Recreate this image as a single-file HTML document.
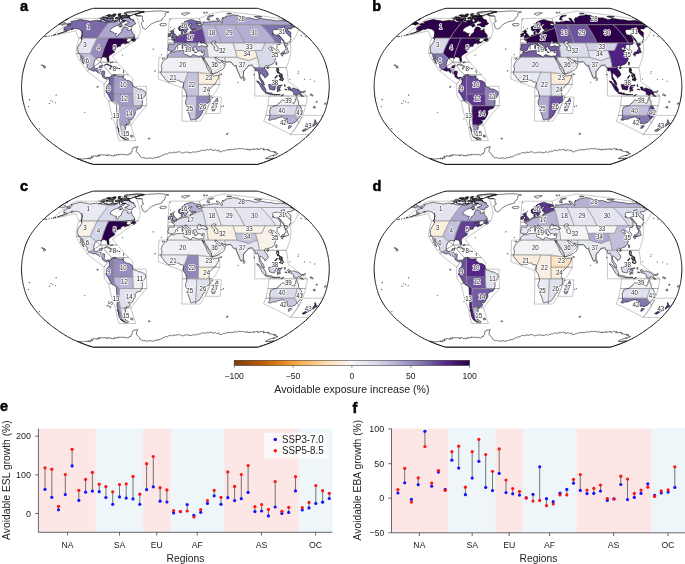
<!DOCTYPE html><html><head><meta charset="utf-8"><style>html,body{margin:0;padding:0;background:#fff;width:685px;height:564px;overflow:hidden;position:relative}
svg{position:absolute;left:0;top:0;font-family:"Liberation Sans",sans-serif;will-change:transform}
.lab text{font-size:6.6px;fill:#2a2a2a;stroke:#fff;stroke-width:1.6px;paint-order:stroke;stroke-linejoin:round;text-anchor:middle}
.pl{font-size:14.5px;font-weight:bold;fill:#000;stroke:#000;stroke-width:0.5px}
.tk{font-size:8.6px;fill:#222}
.al{font-size:10.3px;fill:#222}
.cbl{font-size:10.6px;fill:#222}
.yt{font-size:9.5px;fill:#222}
.xt{font-size:8.7px;fill:#222}
.lg{font-size:10.4px;fill:#222}
</style></head><body><svg width="685" height="564" viewBox="0 0 685 564"><defs><path id="L" d="M39.4,128.7L39.7,129.0L39.6,129.1L39.2,129.1L39.0,128.8L39.0,128.6ZM85.0,112.4L85.1,112.6L84.9,112.8L84.6,112.8L84.6,112.5L84.7,112.4ZM28.9,106.4L29.0,106.8L28.8,106.9L28.4,106.9L28.4,106.6L28.5,106.4ZM49.5,103.2L49.7,103.5L49.5,103.7L49.1,103.6L49.0,103.3L49.2,103.1ZM55.7,102.6L55.8,102.9L55.7,103.0L55.3,103.0L55.3,102.7L55.4,102.6ZM53.0,101.7L53.1,101.9L52.9,102.0L52.6,102.0L52.6,101.8L52.7,101.6ZM51.1,100.7L51.2,100.9L51.1,101.1L50.8,101.0L50.7,100.8L50.9,100.7ZM30.0,99.8L29.7,100.0L29.2,100.0L29.2,99.6L29.4,99.4L29.8,99.4ZM56.5,95.1L56.3,95.3L55.8,95.3L55.8,95.0L56.0,94.8L56.4,94.8ZM98.1,86.4L98.3,87.0L97.7,87.4L96.9,87.3L97.0,86.7L97.4,86.3ZM82.9,19.9L83.3,20.0L83.7,20.1L84.1,20.2L84.5,20.3L85.0,20.3L85.5,20.3L86.0,20.4L86.5,20.4L87.0,20.4L87.5,20.6L87.9,20.7L88.4,20.8L88.8,21.0L89.3,21.1L89.8,21.2L90.2,21.3L91.1,21.1L92.0,20.9L92.6,20.9L93.3,20.8L94.0,20.7L94.8,20.6L95.5,20.5L96.4,20.3L97.2,20.1L97.5,20.4L97.8,20.6L98.1,20.9L98.8,20.9L99.5,20.8L100.2,20.7L100.9,20.7L101.3,20.9L101.7,21.0L102.2,21.2L102.6,21.4L103.0,21.6L103.4,21.8L103.9,22.0L104.5,22.0L105.1,22.1L105.7,22.1L106.2,22.1L107.0,22.0L107.8,21.9L108.5,21.7L109.0,21.9L109.5,22.0L110.0,22.1L110.6,22.2L111.2,22.3L111.8,22.3L112.4,22.3L113.0,22.3L113.6,22.3L114.5,22.0L115.4,21.7L115.6,21.6L115.0,21.7L114.4,21.7L114.1,21.4L113.7,21.2L114.4,20.9L115.1,20.6L115.7,20.6L116.3,20.7L116.2,21.2L117.3,20.5L118.2,19.7L119.0,19.0L119.3,19.4L119.6,19.7L119.5,20.5L119.5,21.3L119.9,21.6L120.3,21.9L120.7,22.1L121.8,21.5L122.9,20.9L123.5,20.9L124.1,20.9L124.8,20.8L124.5,21.5L124.2,22.1L123.4,22.5L122.6,22.8L121.9,23.1L121.2,23.3L120.6,23.5L119.9,23.6L119.1,24.4L118.3,25.1L117.4,25.4L116.6,25.7L115.7,25.9L114.8,26.4L114.0,26.8L113.1,27.3L112.0,28.1L110.9,29.0L110.6,29.5L110.4,30.1L110.3,30.8L110.3,31.5L110.9,31.6L111.6,31.6L112.2,31.7L112.7,32.1L113.2,32.4L113.7,32.8L114.3,33.1L114.8,33.3L115.4,33.4L116.1,33.4L116.7,33.4L116.4,34.1L116.1,34.7L115.8,35.4L116.0,35.8L116.2,36.3L116.6,36.5L117.0,36.7L118.0,35.8L118.4,34.9L118.8,34.0L119.8,33.4L120.8,32.8L121.3,32.0L121.8,31.2L121.7,30.7L121.5,30.1L122.1,29.3L122.7,28.6L123.0,27.8L123.3,27.0L124.0,27.0L124.7,27.0L125.3,27.0L125.9,27.1L126.5,27.3L127.0,27.6L127.5,28.0L127.8,28.3L128.2,28.6L127.8,29.3L127.4,30.1L128.0,30.3L128.6,30.5L129.2,30.3L129.8,30.1L130.7,29.4L131.5,28.7L131.5,29.5L131.4,30.3L131.8,30.8L132.1,31.2L132.1,31.9L132.2,32.6L132.8,33.0L133.3,33.3L133.7,33.9L134.2,34.4L134.4,35.1L134.6,35.8L134.6,36.5L134.1,36.7L133.5,36.8L132.7,37.2L131.8,37.6L130.9,38.0L130.2,37.9L129.5,37.9L128.8,37.9L128.1,37.9L127.4,38.0L126.8,38.0L126.1,38.0L125.2,38.5L124.3,38.9L123.2,39.7L122.2,40.5L121.6,41.1L122.6,40.5L123.5,40.0L124.5,39.5L125.3,39.2L126.1,39.0L126.7,39.1L127.3,39.2L126.9,39.8L126.5,40.5L126.6,41.1L126.7,41.6L127.3,41.8L127.9,42.0L128.5,42.2L129.1,42.0L129.7,41.8L129.7,41.1L129.8,42.0L129.3,42.3L128.7,42.7L128.0,42.9L127.3,43.1L126.6,43.2L125.7,43.8L124.8,44.3L124.5,43.5L125.3,43.1L126.1,42.6L125.5,42.6L124.9,42.6L124.0,43.1L123.3,43.3L122.7,43.5L122.0,43.8L121.4,44.1L120.5,45.1L120.4,45.9L120.8,45.9L120.7,46.1L120.1,46.2L119.5,46.3L118.9,46.4L118.2,46.5L117.3,47.1L117.0,47.8L116.0,48.7L115.7,49.3L115.1,50.1L114.7,50.5L114.3,51.0L114.5,51.6L114.6,52.2L113.7,52.8L113.1,53.1L112.4,53.4L111.9,53.8L111.3,54.2L110.6,54.7L109.8,55.1L109.1,55.9L108.8,56.6L108.6,57.3L108.8,58.0L108.9,58.8L109.0,59.6L109.1,60.4L108.9,61.0L108.8,61.7L108.1,62.1L107.6,61.3L107.3,60.5L107.1,59.7L107.1,59.0L106.9,58.3L106.7,57.6L106.2,57.3L105.7,57.5L105.2,57.6L104.9,57.3L104.5,56.9L103.9,56.9L103.3,56.9L102.7,57.0L102.2,57.0L101.7,58.0L102.0,58.3L101.4,58.2L100.9,58.2L100.4,57.9L99.8,57.7L99.1,57.7L98.3,57.6L97.4,58.0L96.6,58.5L95.8,59.1L94.9,59.9L94.7,60.7L94.5,61.4L94.2,62.2L94.0,63.1L93.8,64.0L93.6,64.9L93.7,65.4L93.8,66.0L94.1,66.7L94.3,67.4L94.6,68.2L95.2,68.4L95.7,68.7L96.3,68.6L96.9,68.5L97.5,68.3L98.0,68.3L98.5,68.2L99.1,67.5L99.3,66.8L99.6,66.0L100.4,65.8L101.3,65.5L101.9,65.5L102.5,65.5L102.3,66.2L102.0,66.8L101.8,67.6L101.5,68.3L101.2,68.9L100.9,69.4L100.7,70.1L100.4,70.9L101.0,71.1L101.8,71.0L102.7,71.0L103.3,71.0L104.0,71.1L104.4,71.4L104.9,71.8L104.7,72.6L104.6,73.3L104.5,74.0L104.4,74.7L104.1,75.7L104.8,76.7L105.4,77.2L106.0,77.7L106.6,77.5L107.3,77.3L107.9,77.3L108.6,77.3L109.0,77.6L109.5,78.0L110.0,78.0L110.5,77.6L111.0,77.2L111.2,76.2L111.8,75.7L112.5,75.4L113.1,75.2L113.8,74.9L114.3,74.6L114.9,74.3L114.7,75.0L114.5,75.7L115.1,75.4L115.7,75.1L116.6,75.2L117.3,76.2L118.1,76.1L118.8,76.1L119.5,76.1L120.1,76.2L120.7,76.2L121.5,76.1L122.2,76.0L122.8,76.5L122.8,76.5L122.9,76.1L123.2,75.8L123.7,75.8L123.8,76.3L123.4,76.6L122.8,76.5L123.2,77.3L123.6,78.1L124.3,78.6L125.1,79.0L125.9,79.8L126.8,80.5L127.6,80.6L128.5,80.6L128.9,80.7L129.4,80.8L130.2,81.3L131.0,81.8L131.7,82.3L132.0,83.0L132.3,83.7L132.7,84.4L132.7,85.3L132.7,86.2L133.5,86.6L134.4,87.1L135.2,87.4L136.1,87.6L136.9,87.8L137.8,88.8L138.7,88.9L139.5,89.1L140.4,89.1L141.2,89.2L142.1,89.7L142.9,90.2L143.8,90.7L144.7,91.2L145.4,91.7L145.5,92.6L145.7,93.6L145.6,94.3L145.4,95.1L144.9,95.8L144.4,96.5L143.9,97.3L143.5,98.0L143.1,98.7L142.7,99.3L142.3,99.9L142.4,100.9L142.4,101.8L142.5,102.8L142.3,103.6L142.2,104.5L142.0,105.3L141.7,106.0L141.4,106.7L141.1,107.4L140.7,108.0L140.3,108.5L139.6,108.6L138.9,108.8L138.3,108.9L137.4,109.2L136.6,109.6L135.9,110.5L135.1,111.3L135.2,112.2L135.3,113.1L135.3,113.9L134.8,114.7L134.4,115.4L134.1,116.1L133.7,116.8L133.2,117.6L132.8,118.3L132.1,119.3L131.6,119.7L131.1,120.1L130.5,120.1L129.8,120.0L128.9,119.5L128.3,119.8L128.8,120.4L129.4,121.0L130.0,121.7L129.8,122.5L129.6,123.3L129.0,123.5L128.4,123.8L127.9,124.0L127.3,124.0L126.7,124.0L126.0,124.0L126.4,124.8L126.7,125.5L126.0,125.6L125.4,125.7L124.8,125.8L124.7,126.4L124.6,127.0L125.4,127.3L126.1,127.6L125.4,127.9L125.4,128.9L125.4,129.8L124.9,130.2L124.4,130.5L124.0,130.8L124.8,131.6L125.7,132.5L125.3,133.3L124.9,134.1L124.8,135.0L124.8,136.0L125.5,136.7L125.2,136.8L124.8,137.0L125.5,137.2L126.3,137.6L127.1,138.0L127.9,138.5L128.7,138.9L128.2,139.5L127.7,140.0L127.0,139.8L126.3,139.6L125.6,139.5L124.7,139.1L123.8,138.7L122.9,138.2L122.0,137.7L121.1,137.2L120.5,136.3L119.9,135.4L119.4,134.6L119.0,133.6L118.5,132.7L118.7,132.1L118.9,131.4L118.7,130.7L118.5,130.7L118.4,130.2L118.6,129.9L118.5,129.4L118.4,128.9L118.2,128.2L117.6,128.2L117.4,127.5L117.7,127.0L117.9,127.1L117.7,126.4L117.5,125.7L117.3,125.0L117.2,124.2L117.1,123.4L116.9,122.6L117.0,121.7L117.1,120.7L117.1,119.9L117.2,119.1L117.2,118.3L117.1,117.3L116.9,116.4L116.7,115.4L116.8,114.4L116.9,113.5L116.9,112.5L116.8,111.6L116.7,110.8L116.7,109.9L116.6,109.1L116.5,108.2L116.5,107.3L116.5,106.4L116.4,105.5L116.3,104.9L116.2,104.3L115.7,103.8L115.1,103.3L114.3,102.8L113.5,102.3L112.7,101.8L112.0,101.4L111.3,100.5L110.7,99.7L110.3,98.8L109.8,98.0L109.4,97.2L109.0,96.4L108.6,95.5L108.0,94.6L107.5,93.6L106.8,92.9L106.1,92.2L106.0,91.3L106.0,90.5L106.8,89.5L106.5,89.0L106.3,88.5L106.4,87.7L106.6,86.8L106.8,86.1L107.0,85.4L107.5,85.1L108.0,84.9L108.6,83.9L109.2,83.0L109.3,82.5L109.4,81.5L109.4,80.5L109.2,80.0L109.0,79.4L108.8,78.8L108.6,78.3L108.1,78.0L107.7,77.6L106.9,78.4L106.8,79.3L106.2,79.0L105.6,78.7L105.1,78.4L104.6,78.3L104.1,78.1L103.3,77.5L102.5,76.9L102.4,75.9L102.1,75.2L101.7,74.5L101.1,73.7L100.4,73.5L99.8,73.3L99.1,73.1L98.5,73.0L97.9,72.8L97.2,72.2L96.5,71.5L95.8,70.8L95.1,70.9L94.5,71.0L93.8,71.2L93.0,70.9L92.2,70.6L91.5,70.3L90.9,70.0L90.2,69.7L89.5,69.3L88.9,69.0L88.2,68.6L87.5,67.8L86.8,67.0L87.0,66.3L87.2,65.5L87.0,64.9L86.8,64.3L86.3,63.6L85.8,62.8L85.3,62.2L84.7,61.6L84.7,61.0L84.7,60.4L84.2,59.9L83.8,59.3L83.4,58.9L83.0,58.4L82.9,57.5L82.9,56.5L82.3,56.1L81.7,55.6L81.6,56.4L81.5,57.2L81.9,57.7L82.2,58.3L82.4,59.0L82.6,59.7L82.9,60.6L83.2,61.4L83.4,62.2L83.5,62.9L84.1,63.9L83.4,63.6L82.8,63.0L82.2,62.3L82.2,61.7L82.2,61.0L81.6,60.4L81.0,59.7L80.3,59.4L81.1,58.5L80.7,57.7L80.3,56.8L80.3,56.2L80.3,55.6L80.1,54.9L79.8,54.3L79.6,53.6L79.2,53.3L78.9,53.1L78.4,53.0L78.0,53.0L78.1,52.0L77.9,51.5L77.8,50.9L77.8,50.4L77.8,49.9L77.6,49.4L77.7,48.8L77.7,48.1L77.6,47.3L78.0,46.6L78.5,45.9L78.8,45.0L79.4,44.2L80.1,43.3L80.6,42.5L81.1,41.7L81.3,41.0L81.6,40.3L81.9,39.6L81.6,39.2L81.4,38.6L81.1,38.0L81.0,37.4L82.0,36.6L81.8,35.8L81.9,35.0L82.1,34.2L82.2,33.6L82.3,33.1L82.1,32.6L82.0,32.1L81.9,31.5L81.9,30.8L81.2,30.7L80.6,30.6L80.3,30.2L80.1,29.8L79.8,29.4L79.3,29.2L78.8,29.0L78.2,29.0L77.7,29.0L77.2,28.9L76.8,28.7L76.5,28.5L76.1,28.3L75.3,28.4L74.5,28.6L73.0,29.3L72.4,29.4L71.7,29.6L71.0,29.7L71.9,29.0L72.7,28.3L71.4,28.9L70.0,29.5L69.0,30.2L67.9,30.8L66.8,31.2L65.6,31.7L64.4,32.1L63.2,32.6L62.4,32.8L61.7,32.9L60.9,33.1L59.9,33.4L58.8,33.7L58.0,33.9L57.2,34.1L58.0,33.8L58.8,33.6L59.6,33.3L60.5,33.0L61.5,32.7L62.4,32.3L63.4,31.9L64.5,31.4L65.6,30.8L66.8,30.3L66.4,30.2L66.0,30.1L65.3,30.1L64.7,30.2L64.1,30.2L63.5,30.3L64.1,29.7L64.7,29.1L64.3,28.9L64.0,28.7L63.6,28.6L64.2,27.7L65.4,26.8L66.5,26.2L67.4,26.0L68.3,25.7L69.2,25.5L70.1,25.3L70.7,24.8L70.1,24.9L69.6,25.0L69.0,25.1L68.4,25.1L67.9,25.1L67.3,25.1L67.5,24.5L67.2,24.3L66.9,24.2L67.6,24.0L68.3,23.8L69.1,23.6L69.7,23.5L70.3,23.4L70.9,23.3L71.6,23.2L72.3,23.1L72.1,22.7L71.9,22.4L71.6,22.2L71.2,22.1L70.9,21.9L71.8,21.7L72.8,21.4L73.7,21.2L74.7,20.9L75.8,20.6L76.8,20.3L77.6,20.1L78.3,19.9L79.1,19.8L79.8,19.6L80.6,19.5L81.0,19.5L81.5,19.6L82.0,19.7L82.4,19.8ZM45.5,66.7L45.6,67.6L44.7,68.1L44.2,68.1L43.7,68.0L43.9,67.2L44.6,66.6L45.1,66.7ZM44.5,65.9L44.5,66.3L44.1,66.6L43.5,66.6L43.6,66.1L44.0,65.8ZM43.4,65.3L43.5,65.6L43.1,65.9L42.6,65.8L42.7,65.4L43.0,65.2ZM42.3,64.8L42.3,65.2L41.9,65.4L41.4,65.3L41.6,65.0L41.9,64.7ZM45.5,36.2L45.3,36.5L44.8,36.7L44.5,36.7L44.9,36.4L45.2,36.2ZM46.8,36.6L46.2,36.8L45.8,36.7L46.3,36.4L46.7,36.1L47.1,36.2ZM49.3,36.2L48.9,36.4L48.6,36.3L48.9,36.0L49.3,35.8L49.5,35.9ZM52.3,35.3L52.1,35.6L51.6,35.8L51.3,35.8L51.7,35.5L52.0,35.3ZM54.5,34.6L54.2,35.0L53.7,35.2L53.3,35.2L53.8,34.8L54.2,34.6ZM55.9,34.3L55.6,34.7L55.1,34.9L54.7,34.9L55.1,34.5L55.6,34.3ZM119.8,24.2L120.6,24.0L121.4,23.8L121.7,24.3L122.0,24.8L122.3,25.3L122.7,25.7L121.9,25.9L121.1,26.1L120.4,26.3L119.6,26.6L119.2,26.3L118.8,26.0L118.5,25.8L119.1,25.0ZM63.3,21.5L63.6,21.7L63.9,21.9L64.2,22.1L64.5,22.3L64.8,22.5L65.2,22.7L65.5,22.9L65.8,23.2L66.0,23.5L66.3,23.7L65.4,24.0L64.6,24.2L63.6,24.7L62.7,25.2L62.3,25.1L61.9,24.9L61.5,24.8L61.1,24.6L60.8,24.4L60.4,24.2L59.5,24.4L58.6,24.6L59.7,23.8L60.9,23.0L62.1,22.2ZM109.7,21.5L109.1,21.4L108.6,21.4L108.1,21.3L107.6,21.3L107.1,21.2L106.5,21.1L106.0,21.1L105.6,20.9L105.2,20.7L104.7,20.5L104.4,20.4L104.0,20.2L103.6,20.1L103.6,19.7L103.6,19.3L104.5,18.7L103.8,18.9L103.1,19.1L102.4,19.3L101.9,19.2L101.4,19.2L100.9,19.1L100.4,19.0L101.0,18.2L102.0,17.7L103.0,17.1L103.5,17.1L103.9,17.1L104.4,17.1L104.9,17.1L105.4,17.1L105.9,17.1L106.3,17.3L106.7,17.4L107.1,17.6L107.5,17.7L106.8,18.0L106.1,18.3L106.8,18.2L107.5,18.0L108.2,17.9L108.7,18.0L109.1,18.1L109.6,18.3L110.0,18.4L110.9,18.2L111.7,18.0L112.5,17.7L112.8,17.9L113.2,18.0L113.6,18.1L113.1,18.6L112.6,19.1L112.9,19.4L113.1,19.8L113.4,20.1L113.0,20.9L112.3,21.0L111.7,21.1L111.0,21.3L110.3,21.4ZM67.2,19.7L66.0,20.1L65.7,20.1L65.4,20.0L66.5,19.4L67.6,19.0L68.1,19.1ZM117.9,18.5L117.3,18.7L116.6,18.8L116.0,19.0L115.6,18.8L115.2,18.5L114.9,18.3L115.7,17.9L116.6,17.5L117.1,17.5L117.6,17.5L118.1,17.5L118.6,17.5L118.3,18.0ZM121.7,18.3L120.9,18.5L120.1,18.7L119.3,18.9L119.1,18.5L118.9,18.1L120.2,17.4L120.7,17.4L121.2,17.4L121.6,17.5L122.1,17.5ZM121.6,16.8L121.1,16.8L120.5,16.8L120.0,16.8L120.6,16.2L121.5,15.8L122.5,15.5L123.1,15.5L123.6,15.5L124.1,15.4L124.7,15.4L125.2,15.4L126.1,14.9L127.1,14.4L126.8,14.2L126.6,14.1L126.2,14.2L125.8,14.1L125.3,14.0L124.8,14.0L124.7,13.7L124.5,13.3L124.4,13.0L125.2,12.6L125.9,12.3L126.5,12.2L127.1,12.2L127.6,12.2L128.2,12.1L128.3,12.2L128.9,12.1L129.5,12.0L130.0,11.9L130.6,11.9L131.2,11.8L131.8,11.7L132.4,11.7L133.0,11.6L133.5,11.6L134.1,11.5L134.7,11.5L135.2,11.4L135.8,11.4L136.4,11.3L136.9,11.3L137.5,11.2L138.0,11.2L138.5,11.3L138.9,11.3L139.4,11.3L139.9,11.3L140.4,11.4L140.9,11.4L141.3,11.4L141.8,11.4L142.3,11.5L142.8,11.5L143.2,11.6L143.6,11.7L144.1,11.8L143.4,11.9L142.8,12.0L142.2,12.2L141.5,12.3L140.9,12.4L140.2,12.6L139.6,12.7L138.8,12.9L138.1,13.2L137.3,13.4L136.5,13.7L135.8,13.9L135.1,14.1L134.3,14.3L133.5,14.5L132.7,14.8L131.9,15.1L131.3,15.7L130.8,15.7L130.3,15.7L129.7,15.7L129.2,15.7L128.7,15.6L128.2,15.6L127.7,15.6L127.2,15.6L126.6,15.6L127.1,15.7L127.5,15.7L128.0,15.8L128.4,15.9L128.9,15.9L129.3,16.0L129.2,16.5L129.0,17.0L128.4,17.0L127.9,17.0L127.3,17.0L126.7,17.0L126.2,16.9L125.6,16.9L125.0,16.9L124.4,16.9L123.9,16.9L123.3,16.9L122.7,16.9L122.4,16.8L122.1,16.7L121.7,16.6ZM110.5,15.5L110.7,15.5L111.3,15.4L111.9,15.4L112.5,15.4L113.1,15.4L113.7,15.3L114.3,15.3L114.9,15.3L115.1,15.6L115.3,15.8L115.1,16.2L114.4,16.4L113.7,16.6L113.1,16.8L112.5,16.8L112.0,16.8L111.4,16.8L110.9,16.8L110.3,16.8L109.8,16.8L109.2,16.8L108.9,16.6L108.6,16.4L108.3,16.2L109.0,16.0L109.8,15.8L109.3,15.8L108.8,15.8L108.3,15.9L107.8,15.9L107.5,15.8L107.1,15.7L106.8,15.6L106.5,15.5L107.2,15.3L108.0,15.1L108.8,14.9L109.5,14.8L110.0,14.8L110.4,14.9L110.9,15.0ZM117.9,16.1L118.4,15.7L118.8,15.3L119.4,15.3L120.0,15.3L120.5,15.3L120.2,15.7L120.0,16.2L119.5,16.2L118.9,16.1L118.4,16.1ZM114.3,14.1L114.7,14.1L115.2,14.1L115.7,14.2L116.1,14.2L115.7,14.6L115.3,15.0L114.9,14.9L114.4,14.9L114.0,14.8L113.5,14.8L113.1,14.7L112.7,14.7L113.5,14.4ZM119.8,13.7L120.2,13.7L120.5,13.8L120.9,13.8L120.5,14.3L120.1,14.7L119.7,14.6L119.3,14.5L118.9,14.5L118.5,14.4L118.1,14.3L118.9,14.0ZM149.6,138.0L150.0,138.7L149.5,139.2L149.0,139.1L148.6,139.1L148.5,138.4L148.8,137.9ZM132.3,135.2L132.7,135.8L133.1,136.4L132.7,136.8L132.4,137.2L131.7,137.1L130.9,137.0L130.8,136.4L130.6,135.8L131.1,135.1L131.7,135.2ZM111.6,118.9L111.5,119.1L111.2,119.0L111.1,118.8L111.2,118.7L111.5,118.7ZM123.9,72.6L124.0,72.9L123.7,73.0L123.4,73.0L123.5,72.7L123.6,72.6ZM123.7,71.3L123.8,71.5L123.6,71.6L123.3,71.6L123.3,71.4L123.5,71.2ZM155.4,70.6L155.5,71.0L155.2,71.2L154.7,71.2L154.7,70.8L155.0,70.5ZM123.6,70.5L123.7,70.7L123.5,70.9L123.2,70.8L123.2,70.6L123.4,70.5ZM111.1,68.7L110.9,69.0L110.2,68.9L109.5,68.8L109.5,68.6L110.3,68.7ZM120.2,68.5L120.0,68.9L119.4,68.9L118.8,68.9L118.8,68.4L119.5,68.5ZM116.6,67.2L117.2,67.8L117.8,68.3L117.1,68.5L116.4,68.7L115.8,69.0L115.1,69.3L114.3,68.7L113.5,68.7L112.7,68.7L112.7,68.5L113.5,67.8L114.3,67.1L115.0,67.1L115.8,67.2ZM109.7,65.4L109.0,65.3L108.3,65.3L107.6,65.2L106.9,64.8L106.3,64.4L105.7,64.8L105.1,65.3L104.3,65.2L105.2,64.6L106.1,64.1L106.9,64.0L107.8,63.9L108.4,64.3L109.1,64.7L109.7,65.1L110.3,65.4L110.9,65.8L111.4,65.9L112.0,66.0L112.6,66.4L113.1,66.8L112.5,66.9L112.0,67.1L111.4,67.1L110.7,67.2L110.1,67.2L110.5,66.3L110.1,65.9ZM111.2,62.3L111.3,62.7L110.9,63.0L110.4,62.9L110.5,62.5L110.8,62.3ZM112.5,61.9L112.6,62.2L112.2,62.5L111.7,62.4L111.8,62.1L112.1,61.8ZM162.9,58.7L163.0,59.1L162.7,59.3L162.2,59.2L162.2,58.9L162.5,58.6ZM164.3,58.2L164.4,58.6L164.1,58.7L163.7,58.7L163.7,58.4L163.9,58.2ZM122.8,54.9L122.9,55.1L122.6,55.3L122.3,55.3L122.4,55.0L122.6,54.9ZM161.8,54.5L161.8,54.8L161.6,54.9L161.3,54.9L161.4,54.6L161.5,54.5ZM153.4,48.9L153.5,49.2L153.2,49.4L152.8,49.3L152.9,49.0L153.1,48.8ZM131.7,39.1L132.5,38.4L133.3,37.7L133.9,37.2L134.6,36.7L134.4,37.4L134.2,38.2L134.8,38.6L135.5,38.9L135.6,39.6L135.7,40.4L135.2,41.3L134.6,41.3L134.0,41.2L133.3,41.2L132.7,41.0L132.0,40.8L131.3,40.6L130.7,40.4L131.2,39.7ZM170.2,33.1L170.6,33.2L171.1,33.3L171.5,33.9L171.1,34.3L170.8,35.1L170.9,35.6L171.0,36.1L170.7,36.2L170.1,36.4L169.5,36.6L168.9,36.7L168.4,36.7L167.9,36.4L168.5,35.8L168.3,35.0L168.2,34.2L168.8,34.2L169.3,34.2L169.3,33.5L169.8,33.3ZM172.0,33.7L171.5,33.5L171.1,33.2L171.3,32.7L171.5,32.1L171.1,31.2L171.5,30.8L171.9,30.3L172.5,30.3L173.1,30.3L173.6,30.7L174.0,31.2L173.6,31.9L173.3,32.6L174.0,32.8L174.5,33.7L174.9,34.1L175.3,34.4L175.6,35.0L176.1,35.4L176.6,35.7L176.5,36.4L176.4,37.0L175.8,37.2L175.3,37.3L174.7,37.5L174.0,37.6L173.4,37.7L172.8,37.9L172.3,37.9L171.7,38.0L171.2,38.0L171.7,37.5L172.3,37.0L172.8,36.8L172.2,36.7L171.6,36.6L172.3,36.1L172.2,35.6L172.1,35.1L172.7,35.0L173.2,35.0L172.9,34.2L173.1,33.6L172.5,33.7ZM170.8,31.0L170.9,31.3L170.6,31.6L170.1,31.5L170.2,31.2L170.4,30.9ZM173.5,29.7L173.5,30.0L173.4,30.1L173.1,30.1L173.1,29.8L173.3,29.7ZM170.9,27.3L170.7,27.4L170.5,27.4L170.5,27.2L170.7,27.1L170.9,27.1ZM119.6,27.1L120.3,26.5L120.9,26.6L121.5,26.7L120.8,26.8L120.2,27.0ZM159.8,24.7L159.9,24.2L160.6,23.9L161.3,23.5L162.0,23.5L162.6,23.6L163.2,23.6L163.9,23.6L164.5,23.6L165.2,23.5L165.8,23.5L166.2,24.0L166.6,24.5L166.1,24.9L165.6,25.3L165.0,25.5L164.4,25.6L163.8,25.8L163.2,26.0L162.5,25.9L161.9,25.9L161.2,25.8L160.6,25.7L161.0,25.1L160.4,24.9ZM126.1,20.8L125.5,20.7L124.9,20.7L124.3,20.6L123.8,20.6L123.2,20.5L122.7,20.3L122.3,20.1L121.8,19.9L121.4,19.7L121.8,19.1L122.2,18.4L122.9,18.2L123.6,18.0L124.3,17.7L125.1,17.5L125.6,17.5L126.2,17.5L126.8,17.6L127.3,17.6L127.9,17.6L128.0,17.6L128.3,17.5L128.8,17.6L129.4,17.6L129.9,17.7L129.7,18.3L129.3,18.3L129.4,18.3L129.8,18.5L130.2,18.7L130.6,18.9L131.0,19.1L131.4,19.3L131.8,19.5L132.2,19.6L132.7,19.8L133.1,19.9L133.6,20.1L133.7,20.6L133.9,21.1L134.2,21.5L134.4,22.0L134.7,22.5L135.0,23.0L135.6,23.1L136.1,23.3L135.3,24.0L134.5,24.7L133.7,24.9L133.0,25.1L132.2,25.9L132.1,26.5L132.0,27.1L131.3,27.0L130.7,27.0L130.0,26.9L129.4,26.8L128.9,26.6L128.3,26.5L127.9,26.1L127.5,25.8L127.1,25.5L126.7,25.2L126.0,25.2L125.4,25.2L124.7,25.3L124.8,24.8L124.9,24.3L125.7,24.1L126.5,23.9L127.2,23.8L128.0,23.6L128.7,22.9L129.3,22.1L128.8,22.1L128.2,22.0L127.7,22.0L127.2,21.9L126.8,21.5L126.4,21.1ZM170.4,19.6L170.4,19.8L170.3,19.9L170.0,19.9L170.1,19.7L170.2,19.5ZM142.4,16.0L141.9,16.0L141.3,16.0L140.7,15.9L140.2,15.9L139.6,15.9L139.1,15.9L138.5,15.9L138.0,15.8L137.5,15.7L137.0,15.6L136.6,15.5L136.2,15.3L135.8,15.1L135.4,14.9L135.0,14.8L136.2,14.0L136.9,13.8L137.7,13.6L138.4,13.4L139.1,13.2L139.8,13.0L140.5,12.8L141.2,12.6L141.9,12.4L142.6,12.3L143.3,12.1L143.9,11.9L144.6,11.8L145.1,11.7L145.7,11.7L146.2,11.7L146.7,11.7L147.3,11.6L147.8,11.6L148.3,11.6L148.9,11.5L149.4,11.5L149.9,11.5L150.5,11.4L151.0,11.4L151.5,11.3L152.1,11.3L152.6,11.3L153.2,11.2L153.7,11.2L154.2,11.1L154.8,11.1L155.3,11.0L155.8,11.0L156.3,11.0L156.8,11.0L157.3,11.0L157.8,11.0L158.3,11.0L158.8,11.0L159.4,10.9L159.9,10.9L160.4,10.9L160.8,11.0L161.3,11.0L161.8,11.1L162.3,11.1L162.8,11.2L163.3,11.3L163.7,11.3L164.2,11.4L164.7,11.4L165.2,11.5L165.7,11.6L166.1,11.6L166.6,11.7L167.1,11.8L167.5,11.8L168.0,11.9L168.5,12.0L168.9,12.1L168.4,12.2L167.9,12.3L167.4,12.4L166.9,12.6L166.4,12.7L165.9,13.0L165.4,13.4L164.9,13.7L165.1,14.4L165.4,15.1L165.0,15.7L164.7,16.3L164.4,17.0L163.7,17.5L163.0,18.0L162.3,18.5L162.1,19.3L162.0,20.1L161.3,20.4L160.6,20.6L159.9,20.9L159.3,21.1L158.6,21.2L158.0,21.3L157.3,21.5L156.7,21.6L156.0,21.8L155.3,21.9L154.6,22.3L153.9,22.7L153.1,23.1L152.4,23.5L151.6,23.8L150.8,24.2L149.9,25.1L149.0,25.9L148.1,26.8L147.5,27.5L147.0,28.1L146.2,28.7L145.3,29.2L144.7,29.0L144.1,28.7L143.5,28.4L142.9,28.1L142.6,27.4L142.4,26.7L142.1,25.9L141.8,25.2L141.6,24.5L141.3,23.8L141.5,23.2L141.6,22.6L142.3,22.0L143.1,21.5L143.9,20.9L143.4,20.6L142.9,20.4L142.4,20.1L142.4,19.5L142.4,18.9L142.4,18.3L142.4,17.6L142.4,17.0L142.4,16.5ZM84.5,158.7L84.7,158.7L84.9,158.6L85.5,158.6L86.1,158.7L86.1,158.6L86.2,158.4L87.2,158.7L88.2,159.0L88.2,158.8L88.3,158.7L88.0,158.3L87.8,158.0L89.1,158.5L90.4,159.0L89.8,158.5L89.3,158.0L89.8,158.1L90.4,158.2L90.4,158.0L90.5,157.8L91.3,158.0L92.0,158.2L91.9,157.9L91.7,157.6L92.1,157.6L92.6,157.7L92.0,157.2L91.4,156.6L91.3,156.4L91.3,156.1L91.9,156.3L92.6,156.5L93.1,156.5L93.6,156.6L93.5,156.3L93.4,156.0L93.6,155.8L93.7,155.6L94.0,155.6L94.3,155.5L95.5,156.0L96.7,156.5L97.1,156.5L97.4,156.5L97.3,156.1L97.1,155.7L97.8,155.9L98.5,156.1L98.1,155.5L97.8,155.0L98.8,155.5L99.9,155.9L100.0,155.7L100.0,155.4L99.8,155.0L99.7,154.5L100.4,154.8L101.2,155.0L101.5,155.0L101.9,155.0L102.2,154.8L102.5,154.7L103.3,155.0L104.1,155.3L104.2,155.1L104.3,154.9L104.6,154.8L105.0,154.7L106.1,155.3L107.3,155.9L107.1,155.4L106.9,154.9L107.6,155.1L108.3,155.3L108.3,155.0L108.4,154.7L109.0,154.9L109.7,155.1L110.5,155.5L111.3,155.8L111.3,155.5L111.4,155.2L112.4,155.7L113.4,156.2L113.5,155.9L113.7,155.7L114.1,155.7L114.5,155.7L114.4,155.3L114.3,154.9L115.0,155.1L115.7,155.4L115.9,155.3L116.1,155.2L116.1,154.9L116.2,154.6L116.9,154.8L117.5,155.0L118.0,155.1L118.5,155.1L118.4,154.6L118.4,154.1L119.1,154.4L119.8,154.7L120.1,154.7L120.5,154.6L120.7,154.4L121.0,154.2L121.4,154.2L121.8,154.2L122.5,154.5L123.3,154.9L123.4,154.6L123.6,154.3L124.3,154.6L125.1,155.0L125.3,154.8L125.5,154.5L125.9,154.5L126.3,154.5L127.1,154.9L127.9,155.4L128.1,155.2L128.4,155.0L128.6,154.8L128.9,154.7L129.0,154.3L129.0,153.9L129.4,153.9L129.8,153.9L130.0,153.6L130.2,153.4L130.6,153.5L131.1,153.6L131.1,153.1L131.1,152.5L131.3,152.2L131.5,152.0L131.8,151.9L132.1,151.8L132.1,151.3L132.1,150.7L132.1,150.2L132.2,149.7L132.2,149.1L132.2,148.5L132.6,148.5L133.0,148.5L133.2,148.3L133.5,148.0L133.7,147.5L134.0,147.0L134.6,147.4L135.3,147.7L135.6,147.2L135.8,146.8L136.4,147.0L137.0,147.2L137.4,146.9L137.7,146.6L137.6,147.1L137.5,147.6L137.2,147.9L136.8,148.2L136.7,149.0L136.6,149.7L136.6,150.2L136.5,150.7L136.2,151.4L136.9,152.2L137.5,152.9L137.9,152.9L138.4,153.5L138.8,154.0L139.3,154.6L139.5,155.1L139.6,155.5L139.7,156.1L140.7,156.7L141.4,157.3L142.2,157.9L142.5,157.8L142.8,157.7L143.1,157.6L143.5,157.6L144.0,157.7L144.5,157.9L144.9,157.9L145.3,157.8L145.8,158.1L146.4,158.4L146.9,158.5L147.3,158.5L147.6,158.4L147.9,158.3L148.2,158.1L148.4,157.8L149.0,158.1L149.6,158.4L149.8,158.1L150.0,157.7L150.5,157.9L151.0,158.1L151.4,158.1L151.8,158.2L152.3,158.5L152.9,158.8L153.2,158.6L153.4,158.3L153.6,157.9L153.8,157.5L154.2,157.8L154.7,158.0L154.9,157.8L155.2,157.7L155.5,157.6L155.9,157.6L156.2,157.6L156.6,157.5L157.0,157.5L157.3,157.6L157.5,157.0L157.7,156.5L158.1,156.6L158.5,156.8L159.0,157.0L159.5,157.3L159.7,156.9L160.0,156.5L160.3,156.2L160.7,156.0L161.1,156.0L161.6,156.1L161.9,155.8L162.3,155.5L162.6,155.1L163.0,154.7L163.5,154.9L164.0,155.1L164.4,154.8L164.7,154.6L165.1,154.1L165.5,153.7L166.0,153.8L166.4,153.8L166.9,154.1L167.4,154.4L167.8,153.9L168.2,153.4L168.5,153.0L168.9,152.6L169.4,152.7L169.8,152.8L170.2,152.5L170.6,152.2L171.1,152.7L171.5,153.2L171.9,152.9L172.3,152.6L172.8,152.8L173.2,153.1L173.7,152.5L174.1,151.8L174.5,152.0L175.0,152.1L175.4,152.6L175.8,153.0L176.3,152.5L176.7,151.9L177.2,151.9L177.6,151.9L178.0,152.0L178.5,152.2L178.9,151.9L179.4,151.6L179.8,151.7L180.2,151.9L180.7,152.3L181.1,152.7L181.5,152.8L181.9,152.9L182.3,152.9L182.8,152.9L183.2,152.9L183.7,152.9L184.1,152.5L184.6,152.2L185.0,152.4L185.4,152.6L185.9,152.2L186.4,151.8L186.8,152.0L187.2,152.3L187.7,152.3L188.1,152.3L188.6,152.2L189.0,152.0L189.4,152.5L189.7,153.1L190.2,152.8L190.7,152.6L191.1,152.7L191.5,152.8L192.0,152.5L192.5,152.2L193.0,151.9L193.6,151.6L193.9,151.8L194.3,152.0L194.7,152.4L195.0,152.7L195.6,152.1L196.2,151.5L196.6,151.6L197.0,151.8L197.4,151.9L197.7,152.0L198.3,151.4L198.9,150.9L199.2,151.1L199.5,151.3L200.0,151.2L200.4,151.0L201.0,150.6L201.6,150.2L202.0,150.2L202.5,150.1L202.9,150.2L203.4,150.2L203.8,150.4L204.1,150.6L204.6,150.5L205.1,150.4L205.6,150.3L206.1,150.1L206.7,149.7L207.4,149.3L207.6,149.6L207.9,150.0L208.3,149.9L208.7,149.9L209.1,149.8L209.6,149.7L210.1,149.5L210.6,149.3L211.0,149.2L211.4,149.2L211.7,149.4L212.0,149.6L212.2,150.0L212.3,150.5L212.9,150.3L213.4,150.0L213.7,150.3L213.9,150.7L214.7,150.1L215.5,149.4L215.8,149.8L216.1,150.1L216.3,150.4L216.6,150.7L217.1,150.8L217.5,150.8L218.1,150.4L218.8,150.1L219.1,150.3L219.4,150.6L219.4,151.1L219.4,151.6L219.9,151.8L220.4,151.7L220.9,151.7L221.3,151.7L221.8,151.8L222.5,151.2L223.3,150.7L223.7,150.6L224.2,150.5L224.4,150.7L224.7,150.9L225.3,150.5L226.0,150.1L226.4,150.1L226.9,150.0L227.4,149.8L228.0,149.7L228.6,149.5L229.1,149.2L229.3,149.7L229.4,150.1L229.8,150.1L230.2,150.2L230.9,149.7L231.7,149.3L231.9,149.6L232.1,149.9L232.8,149.6L233.5,149.3L234.0,149.2L234.5,149.0L235.0,149.1L235.4,149.1L235.8,149.1L236.3,149.1L236.6,149.2L236.9,149.3L237.8,148.7L238.6,148.2L238.8,148.4L239.0,148.7L239.4,148.7L239.8,148.7L240.2,148.8L240.6,148.9L241.1,148.8L241.7,148.7L242.2,148.6L242.8,148.4L243.2,148.5L243.6,148.6L243.8,148.9L244.0,149.2L244.3,149.4L244.6,149.5L245.4,149.2L246.1,148.9L246.3,149.1L246.6,149.2L247.1,149.1L247.6,149.0L247.6,149.4L247.6,149.8L248.1,149.7L248.7,149.6L249.3,149.3L249.9,149.1L249.8,149.6L249.7,150.1L250.3,149.9L250.9,149.7L251.5,149.5L252.1,149.3L252.8,149.1L253.5,148.8L253.5,149.3L253.5,149.7L254.4,149.3L255.2,149.0L255.6,149.1L255.9,149.1L256.7,148.8L257.5,148.5L257.5,149.0L257.4,149.4L258.1,149.3L258.8,149.1L258.8,149.4L258.9,149.7L259.9,149.1L260.8,148.6L261.3,148.6L261.8,148.5L262.0,148.7L262.2,148.9L262.8,148.7L263.5,148.4L263.8,148.5L264.1,148.6L263.6,149.3L263.1,150.1L263.9,149.8L264.6,149.6L264.7,149.8L264.8,150.1L265.5,149.8L266.2,149.6L266.8,149.4L267.4,149.2L267.4,149.6L267.3,150.0L267.9,149.8L268.6,149.5L268.5,150.0L268.3,150.4L268.9,150.2L269.5,150.1L269.3,150.5L269.2,151.0L269.6,150.9L270.1,150.9L270.2,151.1L270.3,151.3L270.7,151.3L271.1,151.3L271.4,151.3L271.7,151.4L272.1,151.4L272.5,151.4L272.6,151.6L272.8,151.7L273.5,151.5L274.1,151.4L273.9,151.8L273.7,152.2L274.4,152.0L275.1,151.7L274.8,152.2L274.5,152.7L275.4,152.3L276.3,152.0L276.1,152.4L275.8,152.8L275.7,153.1L275.6,153.4L275.8,153.5L276.0,153.6L276.3,153.7L276.6,153.8L277.3,153.6L278.0,153.4L276.8,154.2L276.2,154.6L275.6,155.0L274.4,155.4L273.1,155.9L273.6,155.4L274.1,154.8L272.9,155.3L271.6,155.7L270.1,156.2L268.6,156.9L266.9,157.6L266.3,158.1L265.6,158.6L266.2,158.4L266.8,158.3L266.7,158.5L266.5,158.8L267.0,158.7L267.5,158.6L268.0,158.5L268.5,158.4L268.3,158.7L268.2,158.9L269.5,158.5L270.8,158.1L270.6,158.4L270.3,158.7L271.5,158.3L272.7,157.9L272.6,158.2L272.5,158.4L273.3,158.2L274.1,158.0L273.9,158.3L273.8,158.5L272.4,159.1L271.3,159.6L270.2,160.0L269.0,160.5L267.9,160.9L266.7,161.4L265.7,161.7L264.8,162.1L264.1,162.3L263.4,162.6L262.3,162.9L261.2,163.3L260.2,163.6L259.5,163.8L258.9,164.0L258.1,164.2L257.3,164.4L256.8,164.4L256.4,164.4L255.9,164.4L255.5,164.4L255.0,164.4L254.6,164.4L254.1,164.4L253.7,164.4L253.2,164.4L252.8,164.4L252.3,164.4L251.8,164.4L251.4,164.4L250.9,164.4L250.5,164.4L250.0,164.4L249.6,164.4L249.1,164.4L248.7,164.4L248.2,164.4L247.7,164.4L247.3,164.4L246.8,164.4L246.4,164.4L245.9,164.4L245.5,164.4L245.0,164.4L244.6,164.4L244.1,164.4L243.7,164.4L243.2,164.4L242.7,164.4L242.3,164.4L241.8,164.4L241.4,164.4L240.9,164.4L240.5,164.4L240.0,164.4L239.6,164.4L239.1,164.4L238.6,164.4L238.2,164.4L237.7,164.4L237.3,164.4L236.8,164.4L236.4,164.4L235.9,164.4L235.5,164.4L235.0,164.4L234.6,164.4L234.1,164.4L233.6,164.4L233.2,164.4L232.7,164.4L232.3,164.4L231.8,164.4L231.4,164.4L230.9,164.4L230.5,164.4L230.0,164.4L229.5,164.4L229.1,164.4L228.6,164.4L228.2,164.4L227.7,164.4L227.3,164.4L226.8,164.4L226.4,164.4L225.9,164.4L225.5,164.4L225.0,164.4L224.5,164.4L224.1,164.4L223.6,164.4L223.2,164.4L222.7,164.4L222.3,164.4L221.8,164.4L221.4,164.4L220.9,164.4L220.4,164.4L220.0,164.4L219.5,164.4L219.1,164.4L218.6,164.4L218.2,164.4L217.7,164.4L217.3,164.4L216.8,164.4L216.4,164.4L215.9,164.4L215.4,164.4L215.0,164.4L214.5,164.4L214.1,164.4L213.6,164.4L213.2,164.4L212.7,164.4L212.3,164.4L211.8,164.4L211.3,164.4L210.9,164.4L210.4,164.4L210.0,164.4L209.5,164.4L209.1,164.4L208.6,164.4L208.2,164.4L207.7,164.4L207.3,164.4L206.8,164.4L206.3,164.4L205.9,164.4L205.4,164.4L205.0,164.4L204.5,164.4L204.1,164.4L203.6,164.4L203.2,164.4L202.7,164.4L202.2,164.4L201.8,164.4L201.3,164.4L200.9,164.4L200.4,164.4L200.0,164.4L199.5,164.4L199.1,164.4L198.6,164.4L198.2,164.4L197.7,164.4L197.2,164.4L196.8,164.4L196.3,164.4L195.9,164.4L195.4,164.4L195.0,164.4L194.5,164.4L194.1,164.4L193.6,164.4L193.1,164.4L192.7,164.4L192.2,164.4L191.8,164.4L191.3,164.4L190.9,164.4L190.4,164.4L190.0,164.4L189.5,164.4L189.1,164.4L188.6,164.4L188.1,164.4L187.7,164.4L187.2,164.4L186.8,164.4L186.3,164.4L185.9,164.4L185.4,164.4L185.0,164.4L184.5,164.4L184.0,164.4L183.6,164.4L183.1,164.4L182.7,164.4L182.2,164.4L181.8,164.4L181.3,164.4L180.9,164.4L180.4,164.4L180.0,164.4L179.5,164.4L179.0,164.4L178.6,164.4L178.1,164.4L177.7,164.4L177.2,164.4L176.8,164.4L176.3,164.4L175.9,164.4L175.4,164.4L174.9,164.4L174.5,164.4L174.0,164.4L173.6,164.4L173.1,164.4L172.7,164.4L172.2,164.4L171.8,164.4L171.3,164.4L170.8,164.4L170.4,164.4L169.9,164.4L169.5,164.4L169.0,164.4L168.6,164.4L168.1,164.4L167.7,164.4L167.2,164.4L166.8,164.4L166.3,164.4L165.8,164.4L165.4,164.4L164.9,164.4L164.5,164.4L164.0,164.4L163.6,164.4L163.1,164.4L162.7,164.4L162.2,164.4L161.7,164.4L161.3,164.4L160.8,164.4L160.4,164.4L159.9,164.4L159.5,164.4L159.0,164.4L158.6,164.4L158.1,164.4L157.7,164.4L157.2,164.4L156.7,164.4L156.3,164.4L155.8,164.4L155.4,164.4L154.9,164.4L154.5,164.4L154.0,164.4L153.6,164.4L153.1,164.4L152.6,164.4L152.2,164.4L151.7,164.4L151.3,164.4L150.8,164.4L150.4,164.4L149.9,164.4L149.5,164.4L149.0,164.4L148.6,164.4L148.1,164.4L147.6,164.4L147.2,164.4L146.7,164.4L146.3,164.4L145.8,164.4L145.4,164.4L144.9,164.4L144.5,164.4L144.0,164.4L143.5,164.4L143.1,164.4L142.6,164.4L142.2,164.4L141.7,164.4L141.3,164.4L140.8,164.4L140.4,164.4L139.9,164.4L139.5,164.4L139.0,164.4L138.5,164.4L138.1,164.4L137.6,164.4L137.2,164.4L136.7,164.4L136.3,164.4L135.8,164.4L135.4,164.4L134.9,164.4L134.4,164.4L134.0,164.4L133.5,164.4L133.1,164.4L132.6,164.4L132.2,164.4L131.7,164.4L131.3,164.4L130.8,164.4L130.4,164.4L129.9,164.4L129.4,164.4L129.0,164.4L128.5,164.4L128.1,164.4L127.6,164.4L127.2,164.4L126.7,164.4L126.3,164.4L125.8,164.4L125.3,164.4L124.9,164.4L124.4,164.4L124.0,164.4L123.5,164.4L123.1,164.4L122.6,164.4L122.2,164.4L121.7,164.4L121.3,164.4L120.8,164.4L120.3,164.4L119.9,164.4L119.4,164.4L119.0,164.4L118.5,164.4L118.1,164.4L117.6,164.4L117.2,164.4L116.7,164.4L116.2,164.4L115.8,164.4L115.3,164.4L114.9,164.4L114.4,164.4L114.0,164.4L113.5,164.4L113.1,164.4L112.6,164.4L112.2,164.4L111.7,164.4L111.2,164.4L110.8,164.4L110.3,164.4L109.9,164.4L109.4,164.4L109.0,164.4L108.5,164.4L108.1,164.4L107.6,164.4L107.1,164.4L106.7,164.4L106.2,164.4L105.8,164.4L105.3,164.4L104.9,164.4L104.4,164.4L104.0,164.4L103.5,164.4L103.1,164.4L102.6,164.4L102.1,164.4L101.7,164.4L101.2,164.4L100.8,164.4L100.3,164.4L99.9,164.4L99.4,164.4L99.0,164.4L98.5,164.4L98.0,164.4L97.6,164.4L97.1,164.4L96.7,164.4L96.2,164.4L95.8,164.4L95.3,164.4L94.9,164.4L94.4,164.4L94.0,164.4L93.5,164.4L92.6,164.2L91.7,163.9L91.2,163.8L90.2,163.5L89.1,163.1L88.0,162.7L87.1,162.5L86.3,162.2L85.3,161.8L84.2,161.4L83.1,161.0L82.2,160.7L80.9,160.1L79.6,159.6L78.3,159.0L77.0,158.5L77.6,158.6L78.1,158.6L78.0,158.4L78.0,158.3L79.4,158.7L80.9,159.2L80.8,159.0L80.8,158.8L81.4,158.9L82.0,159.0L82.5,159.0L83.0,159.1L83.3,159.0L83.5,159.0L83.7,158.9L83.9,158.8L84.2,158.8ZM228.0,133.3L227.9,134.1L227.1,134.6L226.7,134.5L226.3,134.5L226.6,133.7L227.2,133.2ZM222.2,106.5L222.2,106.8L222.0,107.0L221.6,107.0L221.6,106.7L221.8,106.5ZM223.9,105.8L224.0,106.1L223.7,106.3L223.3,106.2L223.4,105.9L223.6,105.7ZM212.0,106.7L212.4,105.9L212.7,105.2L212.7,104.5L212.6,103.8L212.5,103.1L212.8,102.6L213.0,102.0L213.7,101.8L214.5,101.6L215.0,101.1L215.6,100.6L215.9,100.0L216.1,99.4L216.7,98.7L217.3,98.0L217.5,98.8L217.7,99.6L217.9,100.4L218.0,101.3L217.7,102.0L217.4,102.8L217.1,103.6L216.8,104.4L216.5,105.2L216.1,106.2L215.8,107.2L215.4,108.1L215.2,108.9L214.9,109.7L214.6,110.5L213.8,110.8L213.0,111.1L212.5,110.8L212.0,110.5L211.9,109.7L211.8,108.9L211.7,108.1L211.9,107.4ZM212.5,97.5L212.6,97.7L212.4,97.9L212.1,97.8L212.1,97.6L212.3,97.5ZM274.7,94.3L275.4,94.4L276.1,94.4L276.8,94.5L277.7,94.5L278.5,94.5L279.4,94.4L280.2,94.3L280.2,94.7L279.3,94.7L278.5,94.8L277.6,94.8L276.8,94.9L275.9,94.9L275.1,94.9L274.2,95.0L273.4,94.7L273.4,94.3L274.0,94.3ZM265.1,92.9L265.7,92.5L266.3,92.2L267.0,92.3L267.8,92.4L268.4,92.6L269.0,92.8L269.6,93.0L270.2,93.0L270.8,93.0L271.4,93.0L272.2,93.5L272.9,93.9L272.9,94.8L272.1,94.6L271.4,94.5L270.7,94.4L270.0,94.3L269.2,94.2L268.3,94.0L267.5,93.9L266.8,93.7L266.1,93.5L265.6,93.2ZM209.1,94.6L209.5,95.5L209.9,96.5L209.8,97.3L209.8,98.1L209.8,98.9L209.9,99.7L210.0,100.4L209.4,101.4L208.8,102.3L208.0,102.7L207.3,103.2L206.6,103.6L205.9,104.4L205.2,105.2L204.6,105.5L204.7,106.2L204.8,106.9L204.9,107.6L205.0,108.6L205.0,109.6L204.3,110.1L203.5,110.5L202.8,111.0L202.5,111.5L202.6,112.5L202.0,113.4L201.5,114.3L200.9,115.2L200.4,115.9L199.9,116.6L199.0,117.4L198.2,118.1L197.5,118.5L196.8,118.9L196.1,119.3L195.5,119.3L194.9,119.3L194.2,119.3L193.6,119.3L192.9,119.5L192.2,119.8L191.5,120.0L190.9,119.8L190.4,119.5L190.3,118.9L190.3,118.3L190.1,117.6L189.9,116.8L189.6,115.9L189.3,115.0L189.0,114.0L188.5,113.1L188.0,112.1L187.9,111.2L187.8,110.3L187.6,109.4L187.5,108.5L187.2,107.6L186.8,106.6L186.5,105.7L186.1,104.7L185.7,103.8L185.4,102.8L185.5,101.8L185.6,100.9L186.0,99.9L186.4,98.9L186.9,98.0L186.8,97.0L186.7,96.0L186.6,95.1L186.6,94.9L186.4,94.0L186.1,93.1L185.8,92.2L185.6,91.2L185.2,90.6L184.8,90.0L184.2,89.2L183.5,88.3L183.4,87.3L183.4,86.3L183.4,85.4L183.5,84.4L183.6,83.5L183.8,82.7L183.5,82.5L182.7,82.0L182.0,82.0L181.4,82.1L180.5,82.2L180.1,81.6L179.7,80.9L178.8,80.2L178.3,80.2L177.6,80.3L176.9,80.4L176.3,80.5L175.4,81.0L174.5,81.5L173.7,81.7L172.8,81.5L172.0,81.3L171.2,81.5L170.5,81.7L169.7,81.9L169.0,82.1L168.1,81.6L167.3,81.0L166.4,80.3L165.6,79.7L164.9,78.9L164.2,78.1L164.0,77.5L163.9,77.0L163.3,76.4L162.6,75.9L161.9,75.1L161.2,74.3L161.1,73.6L161.0,72.8L160.6,72.1L161.0,71.5L161.5,70.9L161.7,70.1L161.9,69.4L161.8,68.5L161.7,67.7L161.4,66.8L161.1,66.0L161.5,65.1L161.8,64.2L162.1,63.3L162.5,62.6L162.9,61.9L163.4,61.2L164.0,60.4L164.7,59.5L165.5,59.2L166.3,59.0L166.8,58.4L167.3,57.8L167.4,57.2L167.5,56.5L167.7,55.7L167.8,54.9L168.6,54.3L169.3,53.7L170.2,53.0L170.4,52.3L170.7,51.7L171.1,51.6L171.8,51.8L172.4,52.0L173.0,52.2L173.8,52.0L174.6,51.8L175.4,51.4L176.2,51.0L177.0,50.9L177.8,50.7L178.5,50.7L179.1,50.7L179.8,50.7L180.5,50.7L181.1,50.7L181.8,50.6L182.5,50.4L183.2,50.3L183.7,50.4L184.1,50.5L183.6,51.0L184.1,51.8L184.3,52.5L183.6,53.2L184.1,53.7L184.5,54.2L185.2,54.4L186.0,54.5L186.6,54.7L187.2,54.9L187.8,55.1L188.1,55.9L188.9,56.1L189.7,56.3L190.3,56.7L191.0,57.0L191.4,56.7L191.8,56.3L191.7,55.4L192.3,54.9L192.9,54.5L193.5,54.7L194.1,54.8L195.0,55.2L195.8,55.7L196.6,55.8L197.5,56.0L198.3,56.2L199.1,56.4L199.8,56.2L200.3,56.0L200.7,55.8L201.3,55.9L201.8,56.1L202.6,56.1L203.4,56.1L203.6,55.3L203.9,54.6L204.0,54.0L204.1,53.4L204.2,52.7L204.3,52.0L204.2,51.4L204.2,50.8L203.6,50.8L203.0,50.7L202.2,51.1L201.5,51.4L200.7,51.2L199.8,51.0L199.2,50.9L198.6,50.8L198.0,50.7L197.2,50.1L196.7,49.1L196.4,48.5L196.3,48.6L196.0,48.6L196.0,48.4L196.1,48.2L196.2,48.2L196.2,48.1L196.1,47.6L196.0,47.1L195.4,47.0L194.8,46.9L194.2,46.9L193.5,47.4L193.2,47.2L193.2,48.1L193.4,48.7L193.7,49.3L194.5,49.6L194.2,50.3L193.8,51.0L193.3,50.9L192.8,50.7L192.4,49.9L192.1,49.0L191.4,48.1L190.6,47.2L190.6,46.5L190.6,45.9L189.8,45.3L189.1,44.9L188.4,44.6L187.8,44.3L187.1,43.5L186.5,42.7L185.8,42.2L185.3,42.3L184.8,42.5L184.9,43.3L185.4,43.8L185.9,44.3L186.3,45.0L186.7,45.6L187.3,46.0L187.9,46.3L188.4,46.5L188.9,46.8L189.4,47.2L190.0,47.6L189.4,47.4L188.9,47.3L188.4,48.0L188.9,48.7L188.5,49.1L188.1,49.6L187.8,49.3L187.8,48.5L187.8,47.7L187.3,47.4L186.8,47.1L186.1,46.5L185.6,46.2L185.0,45.9L184.5,45.6L184.0,45.3L183.5,44.6L182.9,43.7L182.4,43.6L181.9,43.5L181.2,44.0L180.7,44.3L180.2,44.7L179.7,44.5L179.1,44.4L178.5,44.5L177.9,44.6L177.8,45.4L177.9,45.8L177.4,46.2L177.0,46.5L176.5,46.6L176.1,46.7L175.8,47.3L175.4,47.8L175.2,48.3L175.6,48.9L175.2,49.4L174.8,50.0L174.3,50.4L173.7,50.8L173.1,50.8L172.5,50.8L171.9,50.8L171.4,51.2L170.9,51.5L170.4,51.0L169.9,50.7L169.5,50.3L168.9,50.4L168.3,50.5L168.1,49.7L167.9,48.9L168.1,48.0L168.4,47.2L168.5,46.4L168.5,45.7L168.2,44.8L168.7,44.4L169.2,44.1L169.8,44.1L170.4,44.2L170.9,44.2L171.7,44.3L172.5,44.4L173.2,44.4L174.0,44.4L174.2,43.9L174.4,43.3L174.4,42.6L174.5,41.9L174.1,41.3L173.7,40.8L173.2,40.6L172.6,40.3L172.0,40.1L171.8,39.6L172.5,39.5L173.2,39.3L173.7,39.4L174.2,39.5L174.1,38.9L174.0,38.4L174.5,38.7L175.0,38.7L175.5,38.6L176.1,38.3L176.6,38.0L176.6,37.3L177.2,37.1L177.7,36.9L178.2,36.7L178.7,36.0L178.9,35.4L179.6,35.0L180.0,35.0L180.5,35.0L181.0,34.9L181.5,34.8L181.5,34.2L181.5,33.6L181.2,33.1L181.2,32.5L181.2,31.9L181.7,31.6L182.2,31.3L182.7,31.1L182.8,31.6L182.8,32.1L182.5,32.9L182.6,33.8L183.3,34.4L183.8,34.2L184.4,34.1L184.9,34.3L185.5,34.5L186.2,34.3L186.9,34.2L187.5,34.0L188.1,33.9L188.6,33.8L188.8,34.1L189.5,34.0L189.9,33.7L190.4,33.3L190.4,32.9L190.2,32.1L190.4,31.2L190.8,31.2L191.3,31.4L191.9,31.7L192.5,31.4L192.3,30.5L191.6,30.1L191.6,29.6L191.9,29.5L192.3,29.5L192.9,29.5L193.5,29.5L194.0,29.5L194.6,29.5L195.1,29.3L195.6,29.2L196.0,29.1L195.6,29.0L195.2,28.8L194.5,28.8L193.8,28.8L193.1,28.8L192.4,28.8L191.9,28.9L191.3,29.0L190.8,29.0L190.3,28.6L189.8,28.2L189.8,27.5L189.7,26.8L189.7,26.4L190.1,25.9L190.5,25.5L191.1,25.1L191.6,24.7L191.9,24.7L191.7,24.0L191.3,24.0L191.0,24.0L190.5,24.0L190.1,24.1L189.6,24.2L189.5,24.6L189.4,25.1L188.8,25.5L188.3,25.9L187.9,26.4L187.6,26.8L187.4,27.5L187.1,28.1L187.6,28.6L188.0,29.0L188.3,29.2L187.8,29.6L187.4,29.9L187.0,30.3L187.0,30.8L186.9,31.2L186.7,32.1L186.2,32.4L185.7,32.6L185.2,32.9L184.6,33.1L184.2,32.4L184.0,31.7L183.7,31.1L183.4,30.5L183.1,29.9L182.6,29.5L182.6,29.9L182.0,30.0L181.5,30.3L181.0,30.7L180.5,30.7L180.0,30.7L179.3,30.2L179.0,29.6L178.8,29.0L178.8,28.2L178.8,27.4L178.9,26.9L179.5,26.7L180.0,26.5L180.5,26.2L181.0,25.9L181.5,25.6L181.9,25.3L182.4,25.0L182.9,24.7L183.4,23.8L183.7,23.2L183.9,22.6L184.5,22.1L185.1,21.7L185.5,21.4L185.9,21.2L186.5,20.9L187.1,20.7L187.7,20.5L188.3,20.3L188.8,20.2L189.2,20.0L189.7,19.9L190.1,19.8L190.6,19.7L191.0,19.6L191.5,19.7L191.9,19.7L192.4,19.7L193.0,19.9L193.5,20.2L194.1,20.4L194.7,20.6L195.2,20.8L195.8,21.0L196.4,21.1L197.0,21.2L197.5,21.2L198.1,21.3L198.8,21.6L199.5,21.8L200.2,22.1L200.9,22.3L201.7,23.1L201.4,23.4L201.2,23.6L200.6,23.7L200.1,23.7L199.5,23.7L199.0,23.6L198.4,23.6L197.8,23.6L197.3,23.4L196.8,23.3L196.1,23.0L196.7,23.4L197.3,23.8L197.6,24.5L197.9,25.1L198.5,25.2L199.1,25.4L199.7,25.5L200.3,25.3L200.9,25.2L201.5,25.0L202.0,24.7L202.4,24.4L202.9,24.0L203.3,23.7L203.3,23.1L203.2,22.6L202.9,21.7L203.6,21.9L204.3,22.1L204.8,22.2L205.4,22.3L205.9,22.4L206.4,22.3L206.9,22.1L207.5,22.0L208.0,21.9L208.5,21.7L209.2,21.8L209.9,21.9L210.4,21.8L211.0,21.6L211.5,21.5L212.0,21.2L212.5,20.9L213.1,21.0L213.8,21.0L214.4,21.0L215.0,21.1L215.6,21.1L216.1,21.1L216.6,21.2L217.3,21.7L217.8,21.6L218.3,21.4L217.9,20.8L217.4,20.3L217.0,19.7L216.6,18.9L216.2,18.1L216.7,18.2L217.3,18.2L217.8,18.2L218.6,19.0L219.4,19.7L219.9,20.4L220.3,21.1L220.7,21.7L221.4,22.4L222.1,23.0L222.2,22.4L222.3,21.7L222.1,20.9L221.8,20.1L221.6,19.3L221.8,19.0L222.0,18.7L222.4,18.6L222.9,18.6L223.4,18.5L222.4,17.7L223.0,17.7L223.5,17.7L224.0,17.6L224.5,17.5L224.9,17.4L225.4,17.4L225.8,17.3L225.5,16.6L225.9,16.4L226.3,16.3L226.7,16.1L227.2,16.0L227.6,15.8L228.1,15.8L228.7,15.8L229.2,15.8L229.7,15.8L230.2,15.7L230.7,15.6L231.2,15.6L231.7,15.5L231.9,15.3L232.2,15.1L232.5,15.0L232.7,14.8L233.0,14.6L233.7,14.8L234.4,14.9L235.1,15.1L235.8,15.2L236.4,15.3L237.1,15.3L237.8,15.4L238.5,15.6L239.3,15.7L240.0,15.9L240.1,16.3L240.2,16.6L239.9,16.9L239.6,17.1L239.3,17.4L239.9,17.4L240.5,17.5L241.1,17.6L241.7,17.6L242.3,17.6L242.9,17.6L243.5,17.6L244.1,17.7L244.7,17.7L245.3,17.7L246.0,17.8L246.6,17.8L247.3,17.9L247.9,17.9L248.4,17.9L248.8,17.8L249.3,17.8L249.8,17.7L250.6,18.0L251.4,18.3L252.2,18.5L253.2,18.8L254.2,19.2L255.2,19.5L255.8,19.4L256.4,19.4L256.9,19.4L257.5,19.3L258.1,19.3L258.3,19.0L258.6,18.8L258.8,18.5L259.4,18.5L260.0,18.5L260.6,18.5L261.2,18.5L262.0,18.7L262.7,18.8L263.5,18.9L264.3,19.0L265.1,19.2L265.9,19.3L266.7,19.5L267.6,19.6L268.4,19.8L269.0,19.8L269.5,19.7L270.1,19.7L270.7,19.7L271.6,19.9L272.5,20.1L273.5,20.3L274.4,20.6L275.4,20.8L276.0,20.8L276.6,20.8L277.3,20.8L277.9,20.8L278.5,20.8L278.9,20.7L279.3,20.6L279.7,20.4L280.4,20.5L281.1,20.5L281.7,20.5L282.4,20.6L283.0,20.6L283.9,20.8L284.8,20.9L285.7,21.1L286.6,21.3L287.5,21.5L288.7,22.2L289.9,23.0L291.1,23.8L292.2,24.6L291.7,24.7L291.2,24.8L290.7,24.9L292.0,25.5L293.4,26.2L294.7,26.8L295.0,27.0L294.5,27.1L294.0,27.1L293.6,27.2L293.1,27.3L292.6,27.4L292.2,27.4L292.0,27.8L291.8,28.2L291.7,28.6L291.5,29.0L290.7,28.9L289.9,28.9L289.2,28.8L288.4,28.7L288.0,28.9L287.5,29.1L287.7,29.7L287.9,30.3L288.9,31.0L289.9,31.7L290.9,32.4L290.8,33.0L290.7,33.5L290.9,34.2L291.0,34.9L290.8,35.2L290.5,35.4L290.7,36.3L290.8,37.2L289.9,36.5L289.0,35.8L288.2,35.0L287.4,34.3L286.6,33.5L286.1,32.8L285.5,32.0L284.9,31.2L285.3,31.0L285.6,30.8L285.2,30.0L284.6,29.3L284.1,28.6L284.2,28.1L284.3,27.7L284.3,27.3L284.4,26.8L284.0,27.0L283.6,27.1L283.2,27.3L282.8,27.4L282.2,27.5L281.6,27.5L281.0,27.6L281.3,28.3L281.6,29.0L281.9,29.6L281.3,29.7L280.6,29.7L280.0,29.7L279.4,29.5L278.8,29.4L278.2,29.4L277.6,29.5L277.0,29.5L276.3,29.6L275.7,29.6L275.1,29.6L274.4,29.6L273.7,29.6L273.4,29.9L273.1,30.2L272.9,30.5L272.8,31.1L272.7,31.6L272.7,32.1L273.2,33.1L273.6,34.0L272.9,34.0L272.2,34.0L273.0,34.2L273.8,34.5L274.6,34.7L275.4,34.9L276.2,35.1L277.1,35.3L277.9,35.5L278.7,36.1L279.0,36.9L279.3,37.7L279.9,38.6L280.6,39.6L280.5,40.4L280.4,41.2L280.4,41.9L280.3,42.6L280.3,43.3L280.1,44.0L279.9,44.6L279.2,44.6L278.4,44.6L277.6,44.6L277.4,45.0L277.1,45.4L276.9,46.2L277.2,47.2L277.0,47.8L276.7,48.5L277.4,49.2L278.1,49.9L278.8,50.5L279.1,51.3L279.4,52.1L279.3,52.4L278.6,52.6L277.9,52.9L277.4,53.0L277.3,52.4L277.2,51.9L276.8,51.0L276.4,50.2L275.7,49.9L275.0,49.6L274.4,48.8L273.8,47.9L273.2,48.0L272.5,48.0L272.0,48.4L271.5,48.8L271.4,48.1L271.4,47.2L270.9,47.0L270.3,46.8L270.0,47.3L269.6,47.7L269.1,48.2L268.7,48.6L269.7,49.6L270.4,50.3L270.9,50.1L271.4,49.8L272.2,50.0L273.1,50.2L272.6,50.8L272.1,51.4L271.8,51.9L271.6,52.5L272.3,53.3L273.0,54.1L273.7,54.9L274.3,55.5L274.9,56.1L275.2,56.5L275.6,57.5L275.6,58.3L275.7,59.1L275.2,59.7L274.8,60.4L274.8,61.0L274.7,61.7L274.2,62.2L273.7,62.6L273.2,63.4L272.7,64.1L272.1,64.3L271.4,64.5L270.7,64.8L270.0,65.0L269.2,65.3L268.6,65.5L268.0,65.8L267.9,66.7L267.5,66.1L267.1,65.5L266.5,65.5L265.9,65.5L265.4,65.9L264.9,66.3L264.6,67.1L264.4,68.0L264.9,68.7L265.3,69.5L266.0,70.2L266.7,70.9L267.2,71.8L267.6,72.8L268.1,73.8L268.1,74.5L268.2,75.2L267.5,75.7L266.8,76.2L266.1,77.2L265.5,77.6L264.9,78.0L264.7,77.3L264.6,76.5L264.0,76.3L263.4,76.1L262.9,75.3L262.5,74.5L261.7,73.9L261.0,73.3L260.2,73.4L260.1,74.3L259.9,75.3L259.8,76.2L260.3,77.2L260.9,78.1L261.3,78.9L261.8,79.7L262.6,80.3L263.0,81.1L263.4,81.8L263.7,82.5L264.0,83.3L264.2,84.1L264.5,84.9L263.9,85.1L263.2,84.6L262.5,84.1L261.9,83.5L261.6,82.7L261.3,81.9L261.0,81.0L260.4,80.2L259.8,79.4L259.2,78.6L259.2,77.6L259.2,76.7L259.2,75.9L259.1,75.1L259.0,74.3L258.7,73.3L258.4,72.3L258.0,71.3L257.7,70.7L257.5,70.1L256.8,70.6L256.1,71.1L255.6,70.8L255.1,70.6L255.0,69.9L255.0,69.2L255.0,68.4L254.5,67.8L253.9,67.2L253.4,66.6L252.8,66.0L252.5,65.3L252.2,64.7L251.7,64.9L251.1,65.1L250.5,65.2L249.9,65.3L249.1,65.4L248.3,65.5L248.2,66.5L247.5,67.1L246.9,67.7L246.3,68.3L245.8,68.9L245.3,69.6L244.9,70.3L244.1,70.8L243.3,71.3L243.4,72.2L243.4,73.0L243.5,73.8L243.4,74.7L243.3,75.7L242.9,76.4L242.4,77.1L242.0,77.7L241.5,78.5L240.9,77.8L240.4,77.2L240.1,76.4L239.8,75.7L239.5,74.9L239.1,74.1L238.8,73.2L238.5,72.3L238.1,71.6L237.8,70.9L237.4,70.2L237.1,69.4L236.9,68.7L236.6,68.0L236.5,67.0L236.3,66.0L236.1,65.1L235.3,65.6L234.5,66.2L233.8,65.5L233.1,64.8L232.8,64.2L232.6,63.6L232.0,63.1L231.4,62.6L230.8,61.8L230.0,61.8L229.3,61.8L228.6,61.9L227.9,61.9L227.2,61.9L226.5,62.0L225.8,61.9L225.1,61.8L224.4,61.7L223.7,61.5L223.0,61.4L222.6,60.7L222.2,60.1L221.4,60.4L220.6,60.6L219.8,60.2L219.1,59.8L218.4,59.4L217.7,58.8L217.0,58.1L216.1,57.7L215.2,57.3L214.9,57.8L215.4,58.6L215.9,59.4L216.4,60.2L217.1,61.2L217.5,61.1L218.0,61.1L218.1,61.9L218.3,62.6L219.1,62.8L220.0,63.0L220.6,62.5L221.3,61.9L221.9,61.4L222.1,60.9L222.2,61.8L222.4,62.6L223.0,62.9L223.7,63.2L224.3,63.5L224.8,64.1L225.4,64.7L224.9,65.6L224.5,66.5L224.2,67.2L223.9,68.0L223.5,68.4L223.0,68.9L222.4,69.4L221.8,69.9L221.1,70.2L220.3,70.5L219.5,70.9L218.9,71.3L218.2,71.8L217.6,72.2L216.9,72.7L216.1,72.9L215.3,73.2L214.4,73.4L213.6,74.0L213.0,74.0L212.3,74.1L212.0,73.2L211.7,72.3L211.5,71.3L211.4,70.4L210.9,69.4L210.3,68.4L209.7,67.5L209.1,66.5L208.5,65.5L208.1,65.5L207.8,64.7L207.4,63.9L207.1,63.1L206.4,62.2L205.7,61.2L205.0,60.2L204.3,59.2L204.2,58.5L204.2,57.8L204.0,57.8L203.8,58.5L203.6,59.2L203.7,59.4L203.1,58.5L202.5,57.6L202.1,57.3L202.2,57.4L202.6,58.3L203.1,59.2L203.3,60.0L203.6,60.7L204.1,61.5L204.5,62.3L205.0,63.1L205.6,64.1L206.3,65.1L206.4,65.9L206.6,66.7L206.7,67.5L206.7,67.4L207.2,68.2L207.8,68.9L208.2,69.7L208.6,70.5L209.0,71.3L209.6,72.1L210.1,72.8L210.9,73.4L211.6,74.1L212.2,75.0L212.7,75.7L213.3,76.3L214.0,76.1L214.7,75.8L215.4,75.6L216.2,75.5L217.1,75.4L217.7,75.3L218.3,75.1L219.0,74.9L218.9,75.6L218.8,76.3L218.7,76.8L218.7,77.3L218.3,78.2L218.0,79.0L217.6,79.8L217.2,80.5L216.8,81.3L216.4,82.0L215.8,82.7L215.3,83.5L214.7,84.2L213.9,84.8L213.0,85.4L212.2,86.3L211.3,87.3L210.9,87.9L210.4,88.4L209.8,89.1L209.5,89.7L209.3,90.3L209.1,91.2L208.8,92.1L208.9,92.1L209.1,92.1L209.2,92.3L209.0,92.5L208.7,92.4L208.7,92.6L208.9,92.9L209.0,93.8ZM201.5,45.7L202.1,45.7L202.7,45.7L203.5,46.2L204.4,46.6L205.0,46.6L205.7,46.7L206.4,46.7L207.1,46.4L207.8,46.2L207.7,45.3L207.0,44.8L206.3,44.4L205.7,44.0L205.0,43.5L204.2,43.2L203.3,42.6L202.8,42.7L202.2,42.9L201.7,43.1L201.1,43.3L200.2,42.5L200.9,41.9L200.2,41.7L199.6,41.5L198.9,41.3L198.7,41.5L198.4,42.1L198.1,42.6L197.5,43.5L197.3,44.2L197.1,44.8L197.0,44.6L197.1,45.2L197.2,45.7L197.9,46.4L198.1,46.5L198.9,46.5L199.7,46.6L200.3,46.3L200.9,46.0ZM212.0,44.3L212.7,45.3L213.3,45.7L213.9,46.2L214.4,46.7L215.0,47.3L214.3,47.4L214.3,48.2L214.2,49.1L214.9,50.1L215.5,50.4L216.2,50.8L217.0,50.6L217.7,50.4L218.4,50.3L218.2,49.5L217.9,48.8L217.7,48.1L217.8,47.2L216.9,46.7L216.6,45.7L215.9,45.3L215.3,44.8L214.3,43.8L214.6,43.3L215.3,43.0L215.9,42.6L215.8,42.0L215.6,41.4L215.0,41.2L214.4,41.0L213.8,41.1L213.2,41.3L212.6,41.4L212.1,41.9L211.7,42.3L211.5,43.1L211.7,43.7ZM278.8,85.9L278.6,86.5L278.2,87.1L278.8,87.2L279.4,87.3L280.1,87.2L280.8,87.1L280.2,87.6L279.5,88.1L279.8,88.8L280.1,89.4L280.2,90.1L280.3,90.8L279.7,90.9L279.1,90.9L279.0,90.0L278.8,89.1L278.3,89.5L278.3,90.3L278.2,91.0L278.1,91.8L277.2,91.7L277.4,90.7L277.5,89.7L276.9,89.0L277.1,88.3L277.4,87.5L277.6,86.8L277.8,85.9L278.4,85.4L279.1,85.4L279.8,85.4L280.5,85.5L281.4,85.1L282.2,84.8L282.0,85.4L281.7,86.0L281.0,85.9L280.3,85.9L279.6,85.9ZM264.6,92.1L264.0,91.4L263.4,90.8L262.8,90.2L262.2,89.4L261.7,88.6L261.3,87.8L260.9,87.1L260.5,86.3L260.1,85.5L259.7,84.7L259.1,83.9L258.4,83.2L257.7,82.4L256.9,81.7L256.7,80.9L257.4,81.1L258.0,81.2L258.6,81.3L259.2,82.0L259.7,82.7L260.5,83.4L261.2,84.2L261.7,84.4L262.2,84.6L262.8,85.2L263.5,85.7L264.1,86.3L264.4,86.9L264.7,87.6L265.3,88.5L266.0,89.4L265.9,90.3L265.8,91.1L265.7,92.0L265.1,92.0ZM276.3,82.0L276.1,82.6L275.9,83.3L276.3,83.9L276.7,84.6L277.0,85.3L276.5,85.6L275.9,85.9L275.6,86.7L275.2,87.5L275.1,88.3L275.0,89.0L274.9,89.7L274.1,89.9L273.2,90.0L272.4,89.8L271.5,89.6L270.7,89.4L270.1,89.3L269.6,89.2L269.5,88.4L269.4,87.6L269.0,86.9L268.6,86.2L268.6,85.5L268.6,84.9L269.1,84.3L269.7,84.5L270.3,84.6L271.1,83.9L271.9,83.3L272.4,82.6L272.9,81.9L273.5,81.6L274.0,81.3L274.4,80.6L274.8,80.0L275.6,79.9L276.4,80.5L277.2,81.2L276.8,81.6ZM238.4,82.3L238.4,82.5L238.2,82.7L237.9,82.7L237.9,82.4L238.1,82.3ZM282.2,76.9L282.6,77.7L283.0,78.5L283.4,79.3L282.9,80.1L282.4,80.9L281.8,80.5L281.2,80.2L280.3,80.0L279.5,79.8L279.5,79.6L280.2,79.0L280.9,78.4L281.6,77.6ZM243.7,80.5L243.6,79.8L243.5,79.1L243.4,78.4L243.5,77.6L243.7,76.9L244.2,77.6L244.7,78.3L245.1,79.1L244.9,79.7L244.7,80.3L244.2,80.4ZM276.8,75.6L277.3,75.9L276.6,76.7L275.9,77.4L275.3,78.2L275.1,77.8L275.7,77.1L276.2,76.3ZM279.4,76.2L279.1,75.7L279.1,74.9L279.6,75.3L280.2,75.7L280.4,76.4L280.5,77.2L280.1,77.5L279.8,76.9ZM254.5,74.4L254.7,74.8L254.3,75.1L253.8,75.0L253.8,74.6L254.1,74.4ZM221.7,73.8L221.9,74.4L221.4,74.8L220.6,74.7L220.6,74.1L221.0,73.7ZM277.5,72.0L277.1,71.4L276.6,70.8L277.0,70.1L276.9,69.3L276.8,68.4L277.6,68.4L278.3,68.4L278.5,69.4L278.7,70.4L278.5,71.1L278.3,71.8L279.2,72.8L279.9,73.3L280.6,73.8L280.2,74.2L279.5,73.6L278.8,73.0L278.2,72.9L277.6,72.9ZM266.9,68.4L266.7,67.8L267.3,66.9L268.0,67.1L268.7,67.4L268.5,68.0L268.3,68.6L267.6,68.5ZM276.5,65.2L276.1,64.6L275.7,64.1L275.8,63.3L275.9,62.6L276.0,61.9L276.8,62.2L276.9,63.1L276.9,64.1L276.7,64.6ZM203.1,51.9L202.7,52.6L202.2,52.7L201.6,52.8L201.4,52.4L202.0,52.2L202.6,52.1ZM196.5,52.5L195.8,52.4L195.1,52.3L194.4,52.3L194.3,51.9L195.1,52.0L195.8,52.1L196.6,52.2ZM198.1,51.4L197.9,51.5L197.6,51.5L197.6,51.3L197.8,51.1L198.0,51.1ZM187.8,49.3L187.6,50.1L187.5,50.8L186.7,50.5L186.0,50.3L185.3,50.0L185.3,49.6L185.9,49.5L186.5,49.4L187.2,49.4ZM178.0,47.7L178.2,48.1L177.9,48.4L177.4,48.3L177.4,47.9L177.6,47.7ZM182.9,46.7L183.0,47.6L183.0,48.4L182.5,48.5L182.1,48.6L182.0,47.9L182.0,47.2L182.0,46.5L182.5,46.6ZM182.8,45.0L182.7,45.6L182.7,46.3L182.1,45.9L182.1,45.3L182.1,44.8ZM174.7,28.5L174.8,28.8L174.6,29.0L174.2,29.0L174.3,28.7L174.4,28.5ZM208.7,18.4L208.9,19.0L209.0,19.5L209.6,19.8L210.2,20.0L209.6,20.0L209.1,19.9L208.5,19.9L208.0,19.9L207.4,19.6L206.8,19.3L207.0,18.9L207.2,18.4L207.4,17.9L207.5,17.4L207.8,16.9L208.1,16.4L208.4,16.0L208.9,15.9L209.3,15.7L209.8,15.6L210.3,15.5L210.8,15.4L211.3,15.4L211.8,15.4L212.2,15.3L212.7,15.3L213.2,15.2L213.7,15.2L213.5,15.5L213.4,15.8L212.9,16.0L212.4,16.1L212.0,16.2L211.5,16.3L211.0,16.5L210.5,16.6L210.1,16.9L209.7,17.1L209.3,17.4L209.0,17.9ZM183.2,14.8L182.7,14.5L182.2,14.3L181.8,14.1L181.4,14.0L181.9,13.6L182.3,13.2L182.9,13.2L183.4,13.1L183.9,13.1L184.4,13.0L184.9,12.8L185.4,12.8L186.0,12.8L186.5,12.8L187.0,12.8L187.5,12.8L188.1,12.8L188.6,12.9L189.2,12.9L189.7,13.0L189.3,13.2L188.8,13.4L188.4,13.7L187.9,13.8L187.3,13.9L186.8,14.0L186.4,14.5L186.0,15.0L185.5,15.1L185.1,15.3L184.7,15.4L184.2,15.2L183.7,15.0ZM231.6,13.7L231.2,13.8L230.8,13.9L230.4,14.0L230.0,14.1L229.3,14.0L228.7,13.9L228.0,13.9L227.4,13.8L226.7,13.7L227.1,13.6L227.6,13.5L228.0,13.4L228.4,13.3L228.8,13.2L229.5,13.3L230.2,13.5L230.9,13.6ZM204.5,12.1L204.9,12.5L205.3,12.9L205.2,13.1L205.0,13.4L204.5,13.3L204.0,13.3L203.8,12.9L203.5,12.5L203.6,12.0L204.1,12.1ZM206.9,12.1L207.5,12.6L207.3,13.0L207.0,12.9L206.6,12.9L206.3,12.4L206.3,12.1ZM305.0,128.9L305.9,128.6L306.7,128.2L307.6,127.9L308.4,127.4L309.3,126.8L310.4,125.8L311.1,125.5L311.3,126.1L311.5,126.7L310.8,127.2L310.1,127.7L308.7,128.7L307.8,129.0L307.0,129.4L306.2,130.0L305.4,130.7L304.5,131.0L303.6,131.4L303.1,131.2L302.6,131.0L302.1,130.9L302.8,130.1L303.9,129.5ZM289.4,128.2L288.8,128.4L288.2,128.5L288.3,127.8L288.5,127.2L288.7,126.4L288.9,125.7L289.6,125.8L290.3,125.8L291.0,125.9L291.7,125.9L291.3,126.5L290.8,127.2L290.1,127.7ZM312.2,126.3L313.2,125.3L313.1,124.9L313.0,124.4L313.7,123.7L314.4,123.1L314.6,122.5L314.8,122.0L314.8,121.2L314.7,120.4L314.9,119.6L315.3,120.1L315.7,120.5L315.8,121.1L316.0,121.7L315.8,122.4L316.0,122.7L316.3,123.0L316.9,122.9L317.6,122.8L316.9,123.6L316.1,124.3L315.1,124.7L314.1,125.5L313.1,126.3L312.7,126.3ZM283.7,100.2L284.1,100.5L284.6,100.8L285.2,99.9L285.8,98.9L286.5,98.4L287.3,97.9L288.1,97.5L288.8,97.8L289.4,98.0L290.1,98.2L290.8,98.2L291.6,98.2L291.2,98.8L290.7,99.4L290.4,100.1L290.1,100.9L290.6,101.4L291.2,101.8L291.7,102.3L292.3,102.7L292.8,103.2L293.5,103.2L294.1,103.3L294.5,102.5L294.9,101.7L295.3,100.9L295.4,99.9L295.5,98.9L295.9,98.2L296.2,97.4L296.6,96.7L296.9,97.3L297.1,97.9L297.2,98.6L297.2,99.4L297.2,100.1L297.8,100.4L298.4,100.8L298.5,101.7L298.6,102.7L298.5,103.7L298.5,104.6L299.1,105.1L299.7,105.6L300.3,106.1L300.6,106.9L300.9,107.7L301.5,108.2L301.6,108.9L301.7,109.6L302.2,110.2L302.7,110.8L302.5,111.7L302.3,112.6L302.1,113.5L301.7,114.3L301.3,115.1L300.9,115.9L300.2,116.8L299.6,117.7L298.7,118.4L297.8,119.2L297.0,120.0L296.1,120.9L295.5,121.8L294.9,122.6L294.1,122.8L293.3,122.9L292.2,123.6L291.2,124.2L290.7,123.7L290.3,123.3L289.6,123.4L288.9,123.4L288.2,123.5L287.6,123.1L287.0,122.6L287.2,121.8L287.3,121.0L286.8,120.8L286.9,120.1L287.1,119.5L286.1,120.4L285.5,120.5L286.1,119.8L286.7,119.0L287.3,118.3L286.3,119.1L285.7,119.5L285.0,120.0L284.9,119.5L284.8,119.0L284.4,118.0L283.9,117.6L283.3,117.2L282.8,116.8L282.0,117.0L281.2,117.2L280.5,117.3L279.7,117.5L278.8,117.7L277.9,118.0L277.0,118.2L276.2,118.7L275.4,119.2L274.7,119.2L273.9,119.2L273.2,119.2L272.5,119.3L271.5,119.7L270.5,120.2L269.7,120.2L268.9,120.2L268.3,119.5L269.3,118.6L269.5,117.9L269.8,117.1L269.8,116.3L269.8,115.4L270.0,114.4L269.9,113.6L269.7,112.8L269.6,112.0L269.7,111.0L269.8,110.1L270.2,109.3L270.5,108.6L270.4,107.6L270.9,107.4L271.7,107.1L272.5,106.7L273.3,106.3L274.0,106.1L274.7,105.9L275.3,105.7L276.2,105.5L277.1,105.2L277.8,104.3L278.5,103.3L279.1,103.2L279.6,103.1L280.1,102.2L280.7,101.4L281.4,100.7L282.2,100.0L282.9,100.1ZM315.2,107.2L315.3,107.8L314.7,108.1L314.0,108.0L314.2,107.5L314.1,107.6L313.6,107.6L313.1,107.5L313.4,106.8L314.0,106.3L314.8,106.4L314.9,107.2L314.8,107.2ZM326.2,103.8L325.4,104.3L324.9,104.2L324.4,104.2L324.7,103.4L325.3,102.9L326.2,103.0ZM317.3,101.4L317.4,102.0L316.7,102.4L315.9,102.3L316.1,101.7L316.6,101.3ZM313.0,95.1L313.1,95.7L312.5,96.1L311.7,96.0L311.9,95.4L312.3,95.0ZM281.3,96.2L280.9,96.2L281.4,95.6L281.9,95.1L282.5,94.9L283.2,94.7L283.9,94.5L283.3,94.9L282.7,95.3L282.0,95.7ZM311.5,94.0L311.7,94.8L311.0,95.3L310.5,95.2L310.0,95.2L310.1,94.4L310.7,93.9ZM301.3,92.2L301.5,92.9L300.6,93.6L301.0,94.1L301.5,94.6L302.1,95.2L302.7,95.7L303.4,96.5L302.7,96.4L302.0,96.4L301.3,96.3L300.7,95.4L300.0,94.6L299.3,94.2L298.6,93.9L298.0,94.2L297.4,94.6L297.4,95.2L296.8,95.2L296.1,95.2L295.5,95.3L294.7,94.3L294.1,94.3L293.4,94.4L293.6,93.8L293.8,93.1L293.4,92.3L293.0,91.5L292.3,91.2L291.5,90.8L290.7,90.5L290.1,90.3L289.4,90.0L288.8,90.2L288.5,89.7L288.2,89.2L288.8,89.0L289.5,88.8L288.9,88.6L288.4,88.5L287.5,87.8L287.4,87.6L288.0,87.2L288.7,86.7L289.4,87.0L290.1,87.2L290.5,88.0L290.8,88.8L291.2,89.5L292.1,88.7L292.9,87.8L293.6,88.1L294.3,88.4L295.0,88.7L295.9,88.9L296.6,89.2L297.4,89.4L298.1,89.7L298.8,90.0L299.4,90.8L299.9,91.5L300.6,91.8ZM305.4,91.7L304.7,92.0L304.1,92.4L303.4,92.3L302.8,92.3L302.1,92.3L302.0,91.8L302.6,91.7L303.2,91.7L303.9,91.7L304.5,91.0L305.2,90.4L305.3,91.0ZM284.9,89.1L285.6,89.2L286.2,89.3L286.9,89.4L287.1,90.0L286.3,89.9L285.5,89.7L284.8,89.5ZM284.7,86.6L284.4,85.9L284.4,85.2L284.4,84.6L284.8,84.8L285.3,84.9L284.8,85.6L285.6,86.1ZM314.8,81.3L314.6,81.4L314.3,81.4L314.3,81.2L314.5,81.0L314.7,81.0ZM310.3,79.4L310.4,79.6L310.2,79.8L309.9,79.7L309.9,79.5L310.1,79.4ZM305.0,79.0L305.1,79.2L304.9,79.4L304.6,79.4L304.6,79.1L304.7,79.0ZM290.2,78.9L290.3,79.1L290.1,79.3L289.8,79.3L289.8,79.0L290.0,78.9ZM282.1,74.4L282.1,75.2L282.1,75.9L282.0,76.7L281.6,76.6L281.4,75.8L281.1,75.0L280.8,74.3L281.5,74.3ZM298.4,73.2L298.5,73.4L298.3,73.6L298.0,73.6L298.0,73.3L298.1,73.2ZM298.8,71.5L299.0,71.7L298.8,71.8L298.5,71.8L298.5,71.6L298.6,71.4ZM282.5,54.6L282.6,55.3L282.7,56.1L282.2,56.3L281.8,55.6L281.4,54.9L280.7,54.4L280.6,53.9L281.1,53.8L281.5,53.6ZM282.9,54.1L283.0,53.4L283.6,53.3L284.2,53.2L284.5,53.6L284.0,54.1L283.5,54.6ZM288.4,51.5L288.8,52.4L288.1,52.5L287.5,52.9L286.7,52.9L286.0,52.9L285.8,53.4L285.7,53.9L284.5,53.2L283.7,53.2L282.9,53.2L282.2,53.4L281.4,53.5L281.3,53.4L281.7,52.7L282.0,52.0L282.8,51.9L283.5,51.9L284.3,51.8L284.4,51.0L284.6,50.3L285.1,50.0L285.7,49.8L285.9,49.0L286.0,48.1L285.5,47.3L285.0,46.5L285.6,46.4L286.1,46.3L286.8,47.2L287.6,48.1L287.6,48.9L287.6,49.6L288.0,50.5ZM284.3,45.3L283.9,44.6L284.4,44.6L284.8,44.6L284.5,43.9L284.1,43.2L283.7,42.5L284.5,42.9L285.3,43.3L285.9,43.4L286.6,43.5L287.2,43.5L288.2,44.4L287.8,44.8L287.5,45.3L287.1,45.7L286.6,45.8L286.0,45.9L285.4,45.9ZM289.7,41.7L290.0,42.0L289.9,42.2L289.5,42.1L289.3,41.8L289.4,41.6ZM290.5,40.7L290.8,41.0L290.7,41.2L290.3,41.2L290.1,40.9L290.2,40.7ZM291.2,39.6L291.1,39.8L290.7,39.8L290.5,39.5L290.5,39.3L290.9,39.3ZM283.2,41.4L282.6,40.7L282.0,39.9L281.4,39.2L280.9,38.4L280.4,37.6L279.9,36.7L279.2,35.8L278.5,35.0L277.8,34.1L278.3,34.4L279.1,35.2L279.8,36.0L280.5,36.7L281.1,37.4L281.7,38.1L282.3,38.8L283.0,39.7L283.7,40.6L284.4,41.4L283.9,41.6L283.5,41.8ZM290.9,37.6L291.3,37.9L291.2,38.1L290.8,38.1L290.6,37.8L290.6,37.6ZM305.3,36.1L305.7,36.4L305.6,36.6L305.2,36.6L305.0,36.3L304.9,36.1ZM301.1,35.3L301.5,35.6L301.5,35.8L301.1,35.8L300.8,35.5L300.8,35.3ZM284.8,19.7L284.9,20.0L284.2,19.9L283.4,19.4L283.2,19.1L283.8,19.2ZM254.3,16.6L254.7,16.5L255.2,16.5L255.7,16.4L256.2,16.3L256.6,16.3L257.1,16.2L257.8,16.3L258.4,16.3L259.1,16.4L259.7,16.4L260.4,16.5L261.1,16.5L261.7,16.6L261.4,16.8L261.1,16.9L260.7,17.1L260.4,17.2L260.1,17.4L259.5,17.4L258.9,17.4L258.3,17.4L257.7,17.4L257.1,17.4L256.2,17.1L255.2,16.9Z" fill-rule="evenodd"/><path id="r1" d="M84.5,20.3L85.0,20.3L85.5,20.3L86.0,20.4L86.5,20.4L87.0,20.4L87.5,20.6L87.9,20.7L88.4,20.8L88.8,21.0L89.3,21.1L89.8,21.2L90.2,21.3L91.1,21.1L92.0,20.9L92.6,20.9L93.3,20.8L94.0,20.7L94.8,20.6L95.5,20.5L96.4,20.3L97.2,20.1L97.5,20.4L97.8,20.6L98.1,20.9L98.8,20.9L99.5,20.8L100.2,20.7L100.9,20.7L101.3,20.9L101.7,21.0L102.2,21.2L102.6,21.4L103.0,21.6L103.4,21.8L103.9,22.0L104.5,22.0L105.1,22.1L105.7,22.1L106.2,22.1L107.0,22.0L107.8,21.9L108.5,21.7L109.0,21.9L109.5,22.0L108.8,22.8L108.1,23.6L107.4,24.4L106.7,25.2L106.1,26.0L105.4,26.9L104.7,27.7L104.1,28.6L103.4,29.4L102.8,30.3L102.1,31.1L101.5,32.0L100.9,32.8L100.3,33.7L99.7,34.6L99.1,35.5L98.6,36.4L98.0,37.3L97.5,38.1L96.7,38.1L96.0,38.1L95.3,38.1L94.5,38.1L93.8,38.1L93.0,38.1L92.3,38.1L91.6,38.1L90.8,38.1L90.1,38.1L89.3,38.1L88.6,38.1L87.9,38.1L87.1,38.1L86.4,38.1L85.6,38.1L84.9,38.1L84.2,38.1L83.4,38.1L82.7,38.1L81.9,38.1L81.2,38.1L81.1,37.8L81.0,37.4L82.0,36.6L81.8,35.8L81.9,35.0L82.1,34.2L82.2,33.6L82.3,33.1L82.1,32.6L82.0,32.1L81.9,31.5L81.9,30.8L81.2,30.7L80.6,30.6L80.3,30.2L80.1,29.8L79.8,29.4L79.3,29.2L78.8,29.0L78.2,29.0L77.7,29.0L77.2,28.9L76.8,28.7L76.5,28.5L76.1,28.3L75.3,28.4L74.5,28.6L73.0,29.3L72.4,29.4L71.7,29.6L71.0,29.7L71.9,29.0L72.7,28.3L71.4,28.9L70.0,29.5L69.0,30.2L67.9,30.8L66.8,31.2L65.6,31.7L64.4,32.1L63.2,32.6L62.4,32.8L61.7,32.9L60.9,33.1L59.9,33.4L58.8,33.7L58.0,33.9L57.2,34.1L58.0,33.8L58.8,33.6L59.6,33.3L60.5,33.0L61.5,32.7L62.4,32.3L63.4,31.9L64.5,31.4L65.6,30.8L66.8,30.3L66.4,30.2L66.0,30.1L65.3,30.1L64.7,30.2L64.1,30.2L63.5,30.3L64.1,29.7L64.7,29.1L64.3,28.9L64.0,28.7L63.6,28.6L64.2,27.7L65.4,26.8L66.5,26.2L67.4,26.0L68.3,25.7L69.2,25.5L70.1,25.3L70.7,24.8L70.1,24.9L69.6,25.0L69.0,25.1L68.4,25.1L67.9,25.1L67.3,25.1L67.5,24.5L67.2,24.3L66.9,24.2L67.0,24.1L68.0,23.8L69.1,23.6L69.7,23.5L70.3,23.4L70.9,23.3L71.6,23.2L72.3,23.1L72.1,22.7L71.9,22.4L71.6,22.2L71.2,22.1L70.9,21.9L71.8,21.7L72.8,21.4L73.7,21.2L74.7,20.9L75.8,20.6L76.8,20.3L77.6,20.1L78.3,19.9L79.1,19.8L79.8,19.6L80.6,19.5L81.0,19.5L81.5,19.6L82.0,19.7L82.4,19.8L82.9,19.9L83.3,20.0L83.7,20.1L84.1,20.2ZM54.2,35.0L53.7,35.2L53.6,35.2L54.3,34.6L54.5,34.6ZM55.6,34.7L55.1,34.9L54.7,34.9L55.1,34.5L55.6,34.3L55.9,34.3ZM106.0,21.1L105.6,20.9L105.2,20.7L104.7,20.5L104.4,20.4L104.0,20.2L103.6,20.1L103.6,19.7L103.6,19.3L104.5,18.7L103.8,18.9L103.1,19.1L102.4,19.3L101.9,19.2L101.4,19.2L100.9,19.1L100.4,19.0L100.8,18.4L101.4,18.4L101.9,18.4L102.5,18.4L103.1,18.4L103.7,18.4L104.3,18.4L104.8,18.4L105.4,18.4L106.0,18.4L106.6,18.4L107.1,18.4L107.7,18.4L108.3,18.4L108.9,18.4L109.5,18.4L110.0,18.4L110.6,18.4L111.2,18.4L111.8,18.4L112.4,18.4L112.9,18.4L112.2,19.2L111.5,19.9L110.7,20.7L110.0,21.4L109.7,21.5L109.1,21.4L108.6,21.4L108.1,21.3L107.6,21.3L107.1,21.2L106.5,21.1Z" fill-rule="evenodd"/><path id="r2" d="M111.8,22.3L112.4,22.3L113.0,22.3L113.6,22.3L114.5,22.0L115.4,21.7L115.6,21.6L115.0,21.7L114.4,21.7L114.1,21.4L113.7,21.2L114.4,20.9L115.1,20.6L115.7,20.6L116.3,20.7L116.2,21.2L117.3,20.5L118.2,19.7L119.0,19.0L119.3,19.4L119.6,19.7L119.5,20.5L119.5,21.3L119.9,21.6L120.3,21.9L120.7,22.1L121.8,21.5L122.9,20.9L123.5,20.9L124.1,20.9L124.8,20.8L124.5,21.5L124.2,22.1L123.4,22.5L122.6,22.8L121.9,23.1L121.2,23.3L120.6,23.5L119.9,23.6L119.1,24.4L118.3,25.1L117.4,25.4L116.6,25.7L115.7,25.9L114.8,26.4L114.0,26.8L113.1,27.3L112.0,28.1L110.9,29.0L110.6,29.5L110.4,30.1L110.3,30.8L110.3,31.5L110.9,31.6L111.6,31.6L112.2,31.7L112.7,32.1L113.2,32.4L113.7,32.8L114.3,33.1L114.8,33.3L115.4,33.4L116.1,33.4L116.7,33.4L116.4,34.1L116.1,34.7L115.8,35.4L116.0,35.8L116.2,36.3L116.6,36.5L117.0,36.7L118.0,35.8L118.4,34.9L118.8,34.0L119.8,33.4L120.8,32.8L121.3,32.0L121.8,31.2L121.7,30.7L121.5,30.1L122.1,29.3L122.7,28.6L123.0,27.8L123.3,27.0L124.0,27.0L124.7,27.0L125.3,27.0L125.9,27.1L126.5,27.3L127.0,27.6L127.5,28.0L127.8,28.3L128.2,28.6L127.8,29.3L127.4,30.1L128.0,30.3L128.6,30.5L129.2,30.3L129.8,30.1L130.7,29.4L131.5,28.7L131.5,29.5L131.4,30.3L131.8,30.8L132.1,31.2L132.1,31.9L132.2,32.6L132.8,33.0L133.3,33.3L133.7,33.9L134.2,34.4L134.4,35.1L134.6,35.8L134.6,36.5L134.1,36.7L133.5,36.8L132.7,37.2L131.8,37.6L130.9,38.0L130.2,37.9L129.5,37.9L128.8,37.9L128.1,37.9L127.4,38.0L126.8,38.0L126.1,38.0L125.9,38.1L125.2,38.1L124.4,38.1L123.7,38.1L123.0,38.1L122.2,38.1L121.5,38.1L120.8,38.1L120.1,38.1L119.3,38.1L118.6,38.1L117.9,38.1L117.1,38.1L116.4,38.1L115.7,38.1L115.0,38.1L114.2,38.1L113.5,38.1L112.8,38.1L112.1,38.1L111.3,38.1L110.6,38.1L109.9,38.1L109.1,38.1L108.4,38.1L107.7,38.1L107.0,38.1L106.2,38.1L105.5,38.1L104.8,38.1L104.0,38.1L103.3,38.1L102.6,38.1L101.9,38.1L101.1,38.1L100.4,38.1L99.7,38.1L98.9,38.1L98.2,38.1L97.5,38.1L98.0,37.3L98.6,36.4L99.1,35.5L99.7,34.6L100.3,33.7L100.9,32.8L101.5,32.0L102.1,31.1L102.8,30.3L103.4,29.4L104.1,28.6L104.7,27.7L105.4,26.9L106.1,26.0L106.7,25.2L107.4,24.4L108.1,23.6L108.8,22.8L109.5,22.0L110.0,22.1L110.6,22.2L111.2,22.3ZM122.0,24.8L122.3,25.3L122.7,25.7L121.9,25.9L121.1,26.1L120.4,26.3L119.6,26.6L119.2,26.3L118.8,26.0L118.5,25.8L119.1,25.0L119.8,24.2L120.6,24.0L121.4,23.8L121.7,24.3ZM103.0,17.1L103.5,17.1L103.9,17.1L104.4,17.1L104.9,17.1L105.4,17.1L105.9,17.1L106.3,17.3L106.7,17.4L107.1,17.6L107.5,17.7L106.8,18.0L106.1,18.3L106.8,18.2L107.5,18.0L108.2,17.9L108.7,18.0L109.1,18.1L109.6,18.3L110.0,18.4L110.9,18.2L111.7,18.0L112.5,17.7L112.8,17.9L113.2,18.0L113.6,18.1L113.1,18.6L112.6,19.1L112.9,19.4L113.1,19.8L113.4,20.1L113.0,20.9L112.2,21.0L111.5,21.2L110.8,21.3L110.0,21.4L110.7,20.7L111.5,19.9L112.2,19.2L112.9,18.4L112.4,18.4L111.8,18.4L111.2,18.4L110.6,18.4L110.0,18.4L109.5,18.4L108.9,18.4L108.3,18.4L107.7,18.4L107.1,18.4L106.6,18.4L106.0,18.4L105.4,18.4L104.8,18.4L104.3,18.4L103.7,18.4L103.1,18.4L102.5,18.4L101.9,18.4L101.4,18.4L100.8,18.4L101.0,18.2L102.0,17.7ZM114.9,18.3L115.7,17.9L116.6,17.5L117.1,17.5L117.6,17.5L118.1,17.5L118.6,17.5L118.3,18.0L117.9,18.5L117.3,18.7L116.6,18.8L116.0,19.0L115.6,18.8L115.2,18.5ZM118.9,18.1L120.2,17.4L120.7,17.4L121.2,17.4L121.6,17.5L122.1,17.5L121.7,18.3L120.9,18.5L120.1,18.7L119.3,18.9L119.1,18.5ZM120.6,16.2L121.5,15.8L122.5,15.5L123.1,15.5L123.6,15.5L124.2,15.5L124.8,15.5L125.3,15.5L125.9,15.5L126.5,15.5L127.0,15.5L127.6,15.5L128.1,15.5L128.7,15.5L129.3,15.5L129.8,15.5L130.4,15.5L131.0,15.5L131.5,15.5L131.3,15.7L130.8,15.7L130.3,15.7L129.7,15.7L129.2,15.7L128.7,15.6L128.2,15.6L127.7,15.6L127.2,15.6L126.6,15.6L127.1,15.7L127.5,15.7L128.0,15.8L128.4,15.9L128.9,15.9L129.3,16.0L129.2,16.5L129.0,17.0L128.4,17.0L127.9,17.0L127.3,17.0L126.7,17.0L126.2,16.9L125.6,16.9L125.0,16.9L124.4,16.9L123.9,16.9L123.3,16.9L122.7,16.9L122.4,16.8L122.1,16.7L121.7,16.6L121.6,16.8L121.1,16.8L120.5,16.8L120.0,16.8ZM115.3,15.8L115.1,16.2L114.4,16.4L113.7,16.6L113.1,16.8L112.5,16.8L112.0,16.8L111.4,16.8L110.9,16.8L110.3,16.8L109.8,16.8L109.2,16.8L108.9,16.6L108.6,16.4L108.3,16.2L109.0,16.0L109.8,15.8L109.3,15.8L108.8,15.8L108.3,15.9L107.8,15.9L107.5,15.8L107.2,15.7L106.9,15.6L107.5,15.6L108.0,15.5L108.6,15.5L109.1,15.5L109.6,15.5L110.0,15.5L110.5,15.5L110.5,15.5L110.7,15.5L111.2,15.5L111.8,15.5L112.3,15.5L112.9,15.5L113.4,15.5L114.0,15.5L114.5,15.5L115.1,15.5L115.2,15.7ZM120.0,16.2L119.5,16.2L118.9,16.1L118.4,16.1L117.9,16.1L118.6,15.5L119.0,15.5L119.5,15.5L119.9,15.5L120.4,15.5ZM134.6,36.7L134.4,37.4L134.2,38.1L133.5,38.1L132.7,38.1L133.3,37.7L133.9,37.2ZM121.5,26.7L120.8,26.8L120.2,27.0L119.6,27.1L120.3,26.5L120.9,26.6ZM121.4,19.7L121.8,19.1L122.2,18.4L122.9,18.2L123.6,18.0L124.3,17.7L125.1,17.5L125.6,17.5L126.2,17.5L126.8,17.6L127.3,17.6L127.9,17.6L128.0,17.6L128.3,17.5L128.8,17.6L129.4,17.6L129.9,17.7L129.7,18.3L129.3,18.3L129.4,18.3L129.8,18.5L130.2,18.7L130.6,18.9L131.0,19.1L131.4,19.3L131.8,19.5L132.2,19.6L132.7,19.8L133.1,19.9L133.6,20.1L133.7,20.6L133.9,21.1L134.2,21.5L134.4,22.0L134.7,22.5L135.0,23.0L135.6,23.1L136.1,23.3L135.3,24.0L134.5,24.7L133.7,24.9L133.0,25.1L132.2,25.9L132.1,26.5L132.0,27.1L131.3,27.0L130.7,27.0L130.0,26.9L129.4,26.8L128.9,26.6L128.3,26.5L127.9,26.1L127.5,25.8L127.1,25.5L126.7,25.2L126.0,25.2L125.4,25.2L124.7,25.3L124.8,24.8L124.9,24.3L125.7,24.1L126.5,23.9L127.2,23.8L128.0,23.6L128.7,22.9L129.3,22.1L128.8,22.1L128.2,22.0L127.7,22.0L127.2,21.9L126.8,21.5L126.4,21.1L126.1,20.8L125.5,20.7L124.9,20.7L124.3,20.6L123.8,20.6L123.2,20.5L122.7,20.3L122.3,20.1L121.8,19.9Z" fill-rule="evenodd"/><path id="r3" d="M78.9,53.1L78.4,53.0L78.0,53.0L78.1,52.0L77.9,51.5L77.8,50.9L77.8,50.4L77.8,49.9L77.6,49.4L77.7,48.8L77.7,48.1L77.6,47.3L78.0,46.6L78.5,45.9L78.8,45.0L79.4,44.2L80.1,43.3L80.6,42.5L81.1,41.7L81.3,41.0L81.6,40.3L81.9,39.6L81.6,39.2L81.4,38.7L81.2,38.1L81.9,38.1L82.7,38.1L83.4,38.1L84.2,38.1L84.9,38.1L85.6,38.1L86.4,38.1L87.1,38.1L87.9,38.1L88.6,38.1L89.3,38.1L90.1,38.1L90.8,38.1L91.6,38.1L92.3,38.1L93.0,38.1L93.8,38.1L94.5,38.1L95.3,38.1L96.0,38.1L96.7,38.1L97.5,38.1L97.0,39.0L96.5,39.9L96.0,40.8L95.5,41.7L95.1,42.6L94.6,43.5L94.2,44.5L93.7,45.4L93.3,46.3L92.9,47.2L92.5,48.1L92.1,49.0L91.7,50.0L91.4,50.9L91.0,51.8L90.7,52.7L90.4,53.6L89.6,53.6L88.8,53.6L88.1,53.6L87.3,53.6L86.5,53.6L85.8,53.6L85.0,53.6L84.2,53.6L83.4,53.6L82.7,53.6L81.9,53.6L81.1,53.6L80.4,53.6L79.6,53.6L79.2,53.3Z" fill-rule="evenodd"/><path id="r4" d="M100.9,58.2L100.4,57.9L99.8,57.7L99.1,57.7L98.3,57.6L97.4,58.0L96.8,58.4L96.2,58.7L95.6,58.2L94.9,57.6L94.2,57.0L93.6,56.5L92.9,55.9L92.3,55.3L91.6,54.8L91.0,54.2L90.4,53.6L90.7,52.7L91.0,51.8L91.4,50.9L91.7,50.0L92.1,49.0L92.5,48.1L92.9,47.2L93.3,46.3L93.7,45.4L94.2,44.5L94.6,43.5L95.1,42.6L95.5,41.7L96.0,40.8L96.5,39.9L97.0,39.0L97.5,38.1L98.2,38.1L99.0,38.1L99.7,38.1L100.5,38.1L101.2,38.1L101.9,38.1L102.7,38.1L103.4,38.1L104.2,38.1L104.9,38.1L105.6,38.1L106.4,38.1L107.1,38.1L107.9,38.1L108.6,38.1L108.2,39.1L107.7,40.0L107.3,41.0L106.9,41.9L106.4,42.9L106.0,43.8L105.6,44.8L105.2,45.7L104.9,46.7L104.5,47.6L104.1,48.6L103.8,49.5L103.5,50.5L103.2,51.5L102.9,52.4L102.6,53.4L102.3,54.4L102.0,55.3L101.8,56.3L101.5,57.3L101.3,58.2Z" fill-rule="evenodd"/><path id="r5" d="M124.3,38.9L123.2,39.7L122.2,40.5L121.6,41.1L122.6,40.5L123.5,40.0L124.5,39.5L125.3,39.2L126.1,39.0L126.7,39.1L127.3,39.2L126.9,39.8L126.5,40.5L126.6,41.1L126.7,41.6L127.3,41.8L127.9,42.0L128.5,42.2L129.1,42.0L129.7,41.8L129.7,41.1L129.8,42.0L129.3,42.3L128.7,42.7L128.0,42.9L127.3,43.1L126.6,43.2L125.7,43.8L124.8,44.3L124.5,43.5L125.3,43.1L126.1,42.6L125.5,42.6L124.9,42.6L124.0,43.1L123.3,43.3L122.7,43.5L122.0,43.8L121.4,44.1L120.5,45.1L120.4,45.9L120.8,45.9L120.7,46.1L120.1,46.2L119.5,46.3L118.9,46.4L118.2,46.5L117.3,47.1L117.0,47.8L116.0,48.7L115.7,49.3L115.1,50.1L114.7,50.5L114.3,51.0L114.5,51.6L114.6,52.2L113.7,52.8L113.1,53.1L112.4,53.4L111.9,53.8L111.3,54.2L110.6,54.7L109.8,55.1L109.1,55.9L108.8,56.6L108.6,57.3L108.8,58.0L108.9,58.8L109.0,59.6L109.1,60.4L108.9,61.0L108.8,61.7L108.1,62.1L107.6,61.3L107.3,60.5L107.1,59.7L107.1,59.0L106.9,58.3L106.7,57.6L106.2,57.3L105.7,57.5L105.2,57.6L104.9,57.3L104.5,56.9L103.9,56.9L103.3,56.9L102.7,57.0L102.2,57.0L101.7,58.0L102.0,58.3L101.3,58.2L101.5,57.3L101.8,56.3L102.0,55.3L102.3,54.4L102.6,53.4L102.9,52.4L103.2,51.5L103.5,50.5L103.8,49.5L104.1,48.6L104.5,47.6L104.9,46.7L105.2,45.7L105.6,44.8L106.0,43.8L106.4,42.9L106.9,41.9L107.3,41.0L107.7,40.0L108.2,39.1L108.6,38.1L109.3,38.1L110.1,38.1L110.8,38.1L111.5,38.1L112.2,38.1L112.9,38.1L113.7,38.1L114.4,38.1L115.1,38.1L115.8,38.1L116.5,38.1L117.3,38.1L118.0,38.1L118.7,38.1L119.4,38.1L120.1,38.1L120.9,38.1L121.6,38.1L122.3,38.1L123.0,38.1L123.7,38.1L124.4,38.1L125.2,38.1L125.9,38.1L125.1,38.5ZM112.6,62.2L111.8,62.2L111.8,62.1L112.1,61.8L112.5,61.9ZM132.7,38.1L133.5,38.1L134.2,38.1L134.2,38.2L134.8,38.6L135.5,38.9L135.6,39.5L135.7,40.0L134.8,40.6L134.0,41.2L133.3,41.2L132.7,41.0L132.0,40.8L131.3,40.6L130.7,40.4L131.2,39.7L131.7,39.1Z" fill-rule="evenodd"/><path id="r6" d="M95.8,59.1L94.9,59.9L94.7,60.7L94.5,61.4L94.2,62.2L94.0,63.1L93.8,64.0L93.6,64.9L93.7,65.4L93.8,66.0L94.0,66.4L93.1,67.0L92.2,67.6L91.3,68.1L90.4,68.7L89.5,69.3L88.9,69.0L88.2,68.6L87.5,67.8L86.8,67.0L87.0,66.3L87.2,65.5L87.0,64.9L86.8,64.3L86.3,63.6L85.8,62.8L85.3,62.2L84.7,61.6L84.7,61.0L84.7,60.4L84.2,59.9L83.8,59.3L83.4,58.9L83.0,58.4L82.9,57.5L82.9,56.5L82.3,56.1L81.7,55.6L81.6,56.4L81.5,57.2L81.9,57.7L82.2,58.3L82.4,59.0L82.6,59.7L82.9,60.6L83.2,61.4L83.4,62.2L83.5,62.9L84.1,63.9L83.4,63.6L82.8,63.0L82.2,62.3L82.2,61.7L82.2,61.0L81.6,60.4L81.0,59.7L80.3,59.4L81.1,58.5L80.7,57.7L80.3,56.8L80.3,56.2L80.3,55.6L80.1,54.9L79.8,54.3L79.6,53.6L80.4,53.6L81.1,53.6L81.9,53.6L82.7,53.6L83.4,53.6L84.2,53.6L85.0,53.6L85.8,53.6L86.5,53.6L87.3,53.6L88.1,53.6L88.8,53.6L89.6,53.6L90.4,53.6L91.0,54.2L91.6,54.8L92.3,55.3L92.9,55.9L93.6,56.5L94.2,57.0L94.9,57.6L95.6,58.2L96.2,58.7Z" fill-rule="evenodd"/><path id="r7" d="M94.3,67.4L94.6,68.2L95.2,68.4L95.7,68.7L96.3,68.6L96.9,68.5L97.5,68.3L98.0,68.3L98.5,68.2L99.1,67.5L99.3,66.8L99.6,66.0L100.4,65.8L101.3,65.5L101.9,65.5L102.5,65.5L102.3,66.2L102.0,66.8L101.8,67.6L101.5,68.3L101.2,68.9L100.9,69.4L100.7,70.1L100.4,70.9L101.0,71.1L101.8,71.0L102.7,71.0L103.3,71.0L104.0,71.1L104.4,71.4L104.9,71.8L104.7,72.6L104.6,73.3L104.5,74.0L104.4,74.7L104.1,75.7L104.8,76.7L105.4,77.2L106.0,77.7L106.6,77.5L107.3,77.3L107.9,77.3L108.6,77.3L109.2,77.8L108.6,78.5L108.6,78.3L108.1,78.0L107.7,77.6L106.9,78.4L106.8,79.3L106.2,79.0L105.6,78.7L105.1,78.4L104.6,78.3L104.1,78.1L103.3,77.5L102.5,76.9L102.4,75.9L102.1,75.2L101.7,74.5L101.1,73.7L100.4,73.5L99.8,73.3L99.1,73.1L98.5,73.0L97.9,72.8L97.2,72.2L96.5,71.5L95.8,70.8L95.1,70.9L94.5,71.0L93.8,71.2L93.0,70.9L92.2,70.6L91.5,70.3L90.9,70.0L90.2,69.7L89.5,69.3L90.4,68.7L91.3,68.1L92.2,67.6L93.1,67.0L94.0,66.4L94.1,66.9Z" fill-rule="evenodd"/><path id="r8" d="M114.9,74.3L114.8,74.7L114.2,74.7ZM124.0,72.9L123.7,73.0L123.4,73.0L123.5,72.7L123.6,72.6L123.9,72.6ZM123.8,71.5L123.6,71.6L123.3,71.6L123.3,71.4L123.5,71.2L123.7,71.3ZM123.7,70.7L123.5,70.9L123.2,70.8L123.2,70.6L123.4,70.5L123.6,70.5ZM110.9,69.0L110.2,68.9L109.5,68.8L109.5,68.6L110.3,68.7L111.1,68.7ZM120.0,68.9L119.4,68.9L118.8,68.9L118.8,68.4L119.5,68.5L120.2,68.5ZM117.8,68.3L117.1,68.5L116.4,68.7L115.8,69.0L115.1,69.3L114.3,68.7L113.5,68.7L112.7,68.7L112.7,68.5L113.5,67.8L114.3,67.1L115.0,67.1L115.8,67.2L116.6,67.2L117.2,67.8ZM107.6,65.2L106.9,64.8L106.3,64.4L105.7,64.8L105.1,65.3L104.3,65.2L105.2,64.6L106.1,64.1L106.9,64.0L107.8,63.9L108.4,64.3L109.1,64.7L109.7,65.1L110.3,65.4L110.9,65.8L111.4,65.9L112.0,66.0L112.6,66.4L113.1,66.8L112.5,66.9L112.0,67.1L111.4,67.1L110.7,67.2L110.1,67.2L110.5,66.3L110.1,65.9L109.7,65.4L109.0,65.3L108.3,65.3ZM111.3,62.7L110.9,63.0L110.4,62.9L110.5,62.5L110.8,62.3L111.2,62.3ZM112.6,62.2L112.2,62.5L111.7,62.4L111.8,62.2L112.6,62.2Z" fill-rule="evenodd"/><path id="r9" d="M109.5,78.0L110.0,78.0L110.5,77.6L111.0,77.2L111.2,76.2L111.8,75.7L112.5,75.4L113.1,75.2L113.8,74.9L114.2,74.7L114.2,74.7L114.2,75.7L114.1,76.7L114.1,77.6L114.0,78.6L114.0,79.6L114.0,80.5L113.9,81.5L113.9,82.5L113.9,83.4L113.9,84.4L113.9,85.4L113.8,86.3L113.9,87.3L113.9,88.3L113.9,89.3L113.9,90.2L113.9,91.2L114.0,92.2L114.0,93.1L114.0,94.1L114.1,95.1L114.1,96.0L114.2,97.0L114.2,98.0L114.3,98.9L114.4,99.9L114.5,100.9L113.7,100.9L113.0,100.9L112.3,100.9L111.6,100.9L111.2,100.3L110.7,99.7L110.3,98.8L109.8,98.0L109.4,97.2L109.0,96.4L108.6,95.5L108.0,94.6L107.5,93.6L106.8,92.9L106.1,92.2L106.0,91.3L106.0,90.5L106.8,89.5L106.5,89.0L106.3,88.5L106.4,87.7L106.6,86.8L106.8,86.1L107.0,85.4L107.5,85.1L108.0,84.9L108.6,83.9L109.2,83.0L109.3,82.5L109.4,81.5L109.4,80.5L109.2,80.0L109.0,79.4L108.6,78.5L109.2,77.8Z" fill-rule="evenodd"/><path id="r10" d="M114.5,75.7L115.1,75.4L115.7,75.1L116.6,75.2L117.3,76.2L118.1,76.1L118.8,76.1L119.5,76.1L120.1,76.2L120.7,76.2L121.5,76.1L122.2,76.0L122.8,76.5L122.8,76.5L122.9,76.1L123.2,75.8L123.7,75.8L123.8,76.3L123.4,76.6L122.8,76.5L123.2,77.3L123.6,78.1L124.3,78.6L125.1,79.0L125.9,79.8L126.8,80.5L127.6,80.6L128.5,80.6L128.9,80.7L129.4,80.8L130.2,81.3L131.0,81.8L131.7,82.3L132.0,83.0L132.3,83.7L132.7,84.4L132.7,85.3L132.7,86.2L132.7,87.0L132.7,87.9L132.7,88.8L132.7,89.7L132.7,90.6L132.7,91.4L132.7,92.3L132.8,93.2L132.8,94.1L131.9,94.1L131.1,94.1L130.2,94.1L129.4,94.1L128.5,94.1L127.7,94.1L126.8,94.1L126.0,94.1L125.1,94.1L124.3,94.1L123.4,94.1L122.6,94.1L121.7,94.1L120.8,94.1L120.0,94.1L119.1,94.1L118.3,94.1L117.4,94.1L116.6,94.1L115.7,94.1L114.9,94.1L114.0,94.1L114.0,93.1L114.0,92.2L113.9,91.2L113.9,90.2L113.9,89.3L113.9,88.3L113.9,87.3L113.8,86.3L113.9,85.4L113.9,84.4L113.9,83.4L113.9,82.5L113.9,81.5L114.0,80.5L114.0,79.6L114.0,78.6L114.1,77.6L114.1,76.7L114.2,75.7L114.2,74.7L114.8,74.7Z" fill-rule="evenodd"/><path id="r11" d="M134.4,87.1L135.2,87.4L136.1,87.6L136.9,87.8L137.8,88.8L138.7,88.9L139.5,89.1L140.4,89.1L141.2,89.2L142.1,89.7L142.9,90.2L143.8,90.7L144.7,91.2L145.4,91.7L145.5,92.6L145.7,93.6L145.6,94.3L145.4,95.1L144.9,95.8L144.4,96.5L143.9,97.3L143.5,98.0L143.1,98.7L142.7,99.3L142.3,99.9L142.4,100.9L142.4,101.8L142.5,102.8L142.3,103.6L142.2,104.5L142.0,105.3L141.9,105.7L141.1,105.7L140.3,105.7L139.6,105.7L138.8,105.7L138.0,105.7L137.3,105.7L136.5,105.7L135.7,105.7L134.9,105.7L134.2,105.7L133.4,105.7L133.3,104.7L133.3,103.8L133.2,102.8L133.1,101.8L133.1,100.9L133.0,99.9L133.0,98.9L132.9,98.0L132.9,97.0L132.8,96.0L132.8,95.1L132.8,94.1L132.8,93.1L132.7,92.2L132.7,91.2L132.7,90.2L132.7,89.3L132.7,88.3L132.7,87.3L132.7,86.3L133.0,86.3L133.7,86.7Z" fill-rule="evenodd"/><path id="r12" d="M132.8,94.1L132.8,95.1L132.8,96.0L132.9,97.0L132.9,98.0L133.0,98.9L133.0,99.9L133.1,100.9L133.1,101.8L133.2,102.8L133.3,103.8L133.3,104.7L133.4,105.7L132.6,105.7L131.8,105.7L131.0,105.7L130.2,105.7L129.4,105.7L128.6,105.7L127.7,105.7L126.9,105.7L126.1,105.7L125.3,105.7L124.5,105.7L123.7,105.7L122.9,105.7L122.1,105.7L121.3,105.7L120.4,105.7L119.6,105.7L118.8,104.9L117.9,104.1L117.0,103.3L116.2,102.5L115.3,101.7L114.5,100.9L114.4,99.9L114.3,98.9L114.2,98.0L114.2,97.0L114.1,96.0L114.1,95.1L114.0,94.1L114.9,94.1L115.7,94.1L116.6,94.1L117.4,94.1L118.3,94.1L119.1,94.1L120.0,94.1L120.8,94.1L121.7,94.1L122.6,94.1L123.4,94.1L124.3,94.1L125.1,94.1L126.0,94.1L126.8,94.1L127.7,94.1L128.5,94.1L129.4,94.1L130.2,94.1L131.1,94.1L131.9,94.1Z" fill-rule="evenodd"/><path id="r13" d="M123.8,138.7L122.9,138.2L122.0,137.7L121.1,137.2L120.5,136.3L119.9,135.4L119.4,134.6L119.0,133.6L118.5,132.7L118.7,132.1L118.9,131.4L118.7,130.7L118.5,130.7L118.4,130.2L118.6,129.9L118.5,129.4L118.4,128.9L118.2,128.2L117.6,128.2L117.4,127.5L117.7,127.0L117.9,127.1L117.7,126.4L117.5,125.7L117.3,125.0L117.2,124.2L117.1,123.4L116.9,122.6L117.0,121.7L117.1,120.7L117.1,119.9L117.2,119.1L117.2,118.3L117.1,117.3L116.9,116.4L116.7,115.4L116.8,114.4L116.9,113.5L116.9,112.5L116.8,111.6L116.7,110.8L116.7,109.9L116.6,109.1L116.5,108.2L116.5,107.3L116.5,106.4L116.4,105.5L116.3,104.9L116.2,104.3L115.7,103.8L115.1,103.3L114.3,102.8L113.5,102.3L112.7,101.8L112.0,101.4L111.6,100.9L112.3,100.9L113.0,100.9L113.7,100.9L114.5,100.9L115.3,101.7L116.2,102.5L117.0,103.3L117.9,104.1L118.8,104.9L119.6,105.7L119.6,106.7L119.5,107.6L119.5,108.6L119.4,109.6L119.4,110.5L119.3,111.5L119.3,112.5L119.3,113.5L119.3,114.4L119.3,115.4L119.4,116.4L119.4,117.3L119.5,118.3L119.5,119.3L119.6,120.2L119.7,121.2L119.8,122.2L119.9,123.1L120.0,124.1L120.1,125.0L120.3,126.0L120.5,126.9L120.7,127.8L120.9,128.8L121.1,129.7L121.4,130.6L121.6,131.5L121.9,132.5L122.1,133.4L122.4,134.3L122.7,135.2L123.0,136.1L123.3,137.0L123.6,137.9L123.9,138.8Z" fill-rule="evenodd"/><path id="r14" d="M141.1,107.4L140.7,108.0L140.3,108.5L139.6,108.6L138.9,108.8L138.3,108.9L137.4,109.2L136.6,109.6L135.9,110.5L135.1,111.3L135.2,112.2L135.3,113.1L135.3,113.9L134.8,114.7L134.4,115.4L134.1,116.1L133.7,116.8L133.2,117.6L132.8,118.3L132.1,119.3L131.6,119.7L131.1,120.1L130.5,120.1L129.8,120.0L128.9,119.5L128.3,119.8L128.8,120.4L129.4,121.0L130.0,121.7L129.8,122.5L129.6,123.3L129.0,123.5L128.4,123.8L127.9,124.0L127.3,124.0L126.7,124.0L126.0,124.0L126.3,124.5L126.5,125.0L125.8,125.0L125.1,125.0L124.3,125.0L123.6,125.0L122.9,125.0L122.2,125.0L121.5,125.0L120.8,125.0L120.1,125.0L120.0,124.1L119.9,123.1L119.8,122.2L119.7,121.2L119.6,120.2L119.5,119.3L119.5,118.3L119.4,117.3L119.4,116.4L119.3,115.4L119.3,114.4L119.3,113.5L119.3,112.5L119.3,111.5L119.4,110.5L119.4,109.6L119.5,108.6L119.5,107.6L119.6,106.7L119.6,105.7L120.5,105.7L121.3,105.7L122.1,105.7L122.9,105.7L123.8,105.7L124.6,105.7L125.4,105.7L126.2,105.7L127.0,105.7L127.9,105.7L128.7,105.7L129.5,105.7L130.3,105.7L131.2,105.7L132.0,105.7L132.8,105.7L133.6,105.7L134.5,105.7L135.3,105.7L136.1,105.7L136.9,105.7L137.7,105.7L138.6,105.7L139.4,105.7L140.2,105.7L141.0,105.7L141.9,105.7L141.5,106.6Z" fill-rule="evenodd"/><path id="r15" d="M126.7,125.5L126.0,125.6L125.4,125.7L124.8,125.8L124.7,126.4L124.6,127.0L125.4,127.3L126.1,127.6L125.4,127.9L125.4,128.9L125.4,129.8L124.9,130.2L124.4,130.5L124.0,130.8L124.8,131.6L125.7,132.5L125.3,133.3L124.9,134.1L124.8,135.0L124.8,136.0L125.5,136.7L125.2,136.8L124.8,137.0L125.5,137.2L126.3,137.6L127.1,138.0L127.9,138.5L128.7,138.9L128.2,139.5L127.7,140.0L127.0,139.8L126.3,139.6L125.6,139.5L124.7,139.1L123.9,138.8L123.6,137.9L123.3,137.0L123.0,136.1L122.7,135.2L122.4,134.3L122.1,133.4L121.9,132.5L121.6,131.5L121.4,130.6L121.1,129.7L120.9,128.8L120.7,127.8L120.5,126.9L120.3,126.0L120.1,125.0L120.8,125.0L121.5,125.0L122.2,125.0L122.9,125.0L123.6,125.0L124.3,125.0L125.1,125.0L125.8,125.0L126.5,125.0ZM133.1,136.4L132.7,136.8L132.4,137.2L131.7,137.1L130.9,137.0L130.8,136.4L130.6,135.8L131.1,135.1L131.7,135.2L132.3,135.2L132.7,135.8Z" fill-rule="evenodd"/><path id="r16" d="M171.1,33.3L171.5,33.9L171.1,34.3L170.8,35.1L170.9,35.6L171.0,36.1L170.7,36.2L170.1,36.4L169.5,36.6L168.9,36.7L168.4,36.7L168.1,36.5L168.1,36.2L168.5,35.8L168.3,35.0L168.2,34.2L168.8,34.2L169.3,34.2L169.3,33.5L169.8,33.3L170.2,33.1L170.6,33.2ZM171.1,33.2L171.3,32.7L171.5,32.1L171.1,31.2L171.5,30.8L171.9,30.3L172.5,30.3L173.1,30.3L173.6,30.7L174.0,31.2L173.6,31.9L173.3,32.6L174.0,32.8L174.5,33.7L174.9,34.1L175.3,34.4L175.6,35.0L176.1,35.4L176.6,35.7L176.5,36.4L176.4,37.0L175.8,37.2L175.3,37.3L174.7,37.5L174.0,37.6L173.4,37.7L172.8,37.9L172.3,37.9L171.7,38.0L171.2,38.0L171.7,37.5L172.3,37.0L172.8,36.8L172.2,36.7L171.6,36.6L172.3,36.1L172.2,35.6L172.1,35.1L172.7,35.0L173.2,35.0L172.9,34.2L173.1,33.6L172.5,33.7L172.0,33.7L171.5,33.5ZM170.9,31.3L170.6,31.6L170.1,31.5L170.2,31.2L170.4,30.9L170.8,31.0ZM173.5,30.0L173.4,30.1L173.1,30.1L173.1,29.8L173.3,29.7L173.5,29.7ZM170.7,27.4L170.5,27.4L170.5,27.2L170.7,27.1L170.9,27.1L170.9,27.3ZM170.4,19.8L170.3,19.9L170.0,19.9L170.1,19.7L170.2,19.5L170.4,19.6ZM178.7,36.0L178.9,35.4L179.6,35.0L180.0,35.0L180.5,35.0L181.0,34.9L181.5,34.8L181.5,34.2L181.5,33.6L181.2,33.1L181.2,32.5L181.2,31.9L181.7,31.6L182.2,31.3L182.7,31.1L182.8,31.6L182.8,32.1L182.5,32.9L182.6,33.8L183.3,34.4L183.8,34.2L184.4,34.1L184.9,34.3L184.2,34.5L183.6,34.7L182.9,35.0L182.3,35.2L181.6,35.4L181.0,35.6L180.3,35.9L179.7,36.1L179.0,36.3L178.3,36.5ZM190.2,32.1L190.4,31.2L190.8,31.2L191.3,31.4L191.9,31.7L192.5,31.4L192.3,30.5L191.6,30.1L191.6,29.6L191.9,29.5L192.3,29.5L192.9,29.5L193.5,29.5L194.0,29.5L194.6,29.5L195.1,29.3L195.6,29.2L196.0,29.1L195.6,29.0L195.2,28.8L194.5,28.8L193.8,28.8L193.1,28.8L192.4,28.8L191.9,28.9L191.3,29.0L190.8,29.0L190.3,28.6L189.8,28.2L189.8,27.5L189.7,26.8L189.7,26.4L190.1,25.9L190.5,25.5L191.1,25.1L191.6,24.7L191.9,24.7L191.7,24.0L191.3,24.0L191.0,24.0L190.5,24.0L190.1,24.1L189.6,24.2L189.5,24.6L189.4,25.1L188.8,25.5L188.3,25.9L187.9,26.4L187.6,26.8L187.4,27.5L187.1,28.1L187.6,28.6L188.0,29.0L188.3,29.2L187.8,29.6L187.4,29.9L187.0,30.3L187.0,30.8L186.9,31.2L186.7,32.1L186.2,32.4L185.7,32.6L185.2,32.9L184.6,33.1L184.2,32.4L184.0,31.7L183.7,31.1L183.4,30.5L183.1,29.9L182.6,29.5L182.6,29.9L182.0,30.0L181.5,30.3L181.0,30.7L180.5,30.7L180.0,30.7L179.3,30.2L179.0,29.6L178.8,29.0L178.8,28.2L178.8,27.4L178.9,26.9L179.5,26.7L180.0,26.5L180.5,26.2L181.0,25.9L181.5,25.6L181.9,25.3L182.4,25.0L182.9,24.7L183.4,23.8L183.7,23.2L183.9,22.6L184.5,22.1L185.1,21.7L185.5,21.4L185.9,21.2L186.5,20.9L187.1,20.7L187.7,20.5L188.3,20.3L188.8,20.2L189.2,20.0L189.7,19.9L190.1,19.8L190.6,19.7L191.0,19.6L191.5,19.7L191.9,19.7L192.4,19.7L193.0,19.9L193.5,20.2L194.1,20.4L194.7,20.6L195.2,20.8L195.8,21.0L196.4,21.1L197.0,21.2L197.5,21.2L198.1,21.3L198.7,21.5L199.3,21.8L199.9,22.0L200.6,22.2L200.8,22.9L201.1,23.7L200.6,23.7L200.1,23.7L199.5,23.7L199.0,23.6L198.4,23.6L197.8,23.6L197.3,23.4L196.8,23.3L196.1,23.0L196.7,23.4L197.3,23.8L197.6,24.5L197.9,25.1L198.5,25.2L199.1,25.4L199.7,25.5L200.3,25.3L200.9,25.2L201.5,25.0L201.7,25.7L201.9,26.4L202.2,27.1L202.4,27.9L201.8,28.1L201.2,28.3L200.5,28.6L199.9,28.8L199.3,29.0L198.7,29.3L198.1,29.5L197.4,29.7L196.8,30.0L196.2,30.2L195.5,30.5L194.9,30.7L194.2,30.9L193.6,31.2L192.9,31.4L192.3,31.7L191.6,31.9L190.9,32.1L190.3,32.4ZM174.8,28.8L174.6,29.0L174.2,29.0L174.3,28.7L174.4,28.5L174.7,28.5Z" fill-rule="evenodd"/><path id="r17" d="M186.5,42.7L185.8,42.2L185.3,42.3L184.8,42.5L184.9,42.9L184.1,42.9L183.4,42.9L182.6,42.9L181.9,42.9L181.1,42.9L180.4,42.9L179.6,42.9L178.9,42.9L178.2,42.9L177.4,42.9L176.7,42.9L175.9,42.9L175.2,42.9L174.4,42.9L174.5,41.9L174.1,41.3L173.7,40.8L173.2,40.6L172.6,40.3L172.0,40.1L171.8,39.6L172.5,39.5L173.2,39.3L173.7,39.4L174.2,39.5L174.1,38.9L174.0,38.4L174.5,38.7L175.0,38.7L175.5,38.6L176.1,38.3L176.6,38.0L176.6,37.3L177.2,37.1L177.7,36.9L178.2,36.7L178.3,36.5L179.0,36.3L179.7,36.1L180.3,35.9L181.0,35.6L181.6,35.4L182.3,35.2L182.9,35.0L183.6,34.7L184.2,34.5L184.9,34.3L185.5,34.5L186.2,34.3L186.9,34.2L187.5,34.0L188.1,33.9L188.6,33.8L188.8,34.1L189.5,34.0L189.9,33.7L190.4,33.3L190.4,32.9L190.3,32.4L190.9,32.1L191.6,31.9L192.3,31.7L192.9,31.4L193.6,31.2L194.2,30.9L194.9,30.7L195.5,30.5L196.2,30.2L196.8,30.0L197.4,29.7L198.1,29.5L198.7,29.3L199.3,29.0L199.9,28.8L200.5,28.6L201.2,28.3L201.8,28.1L202.4,27.9L202.6,28.7L202.9,29.6L203.1,30.4L203.4,31.3L203.6,32.1L203.8,33.0L204.1,33.9L204.3,34.8L204.5,35.7L204.7,36.5L204.9,37.4L205.1,38.3L205.3,39.2L205.5,40.1L205.7,41.0L205.9,42.0L206.0,42.9L205.3,42.9L204.5,42.9L203.8,42.9L203.3,42.6L202.8,42.7L202.2,42.9L201.7,42.9L201.2,42.9L200.6,42.9L200.2,42.5L200.9,41.9L200.2,41.7L199.6,41.5L198.9,41.3L198.7,41.5L198.4,42.1L198.1,42.6L197.9,42.9L197.2,42.9L196.4,42.9L195.7,42.9L194.9,42.9L194.2,42.9L193.4,42.9L192.7,42.9L191.9,42.9L191.2,42.9L190.4,42.9L189.7,42.9L188.9,42.9L188.1,42.9L187.4,42.9L186.6,42.9Z" fill-rule="evenodd"/><path id="r18" d="M202.0,24.7L202.6,24.7L203.2,24.7L203.8,24.7L204.5,24.7L205.1,24.7L205.7,24.7L206.3,24.7L206.9,24.7L207.6,24.7L208.2,24.7L208.8,24.7L209.4,24.7L210.0,24.7L210.7,24.7L211.3,24.7L211.9,24.7L212.5,24.7L213.1,24.7L213.8,24.7L214.4,24.7L214.8,25.5L215.2,26.4L215.6,27.3L216.0,28.1L216.4,29.0L216.8,29.9L217.1,30.8L217.5,31.7L217.9,32.6L218.2,33.5L218.6,34.4L218.9,35.4L219.3,36.3L219.6,37.2L219.9,38.1L220.2,39.1L220.5,40.0L220.8,41.0L221.1,41.9L221.4,42.9L220.6,42.9L219.9,42.9L219.1,42.9L218.4,42.9L217.7,42.9L216.9,42.9L216.2,42.9L215.4,42.9L215.9,42.6L215.8,42.0L215.6,41.4L215.0,41.2L214.4,41.0L213.8,41.1L213.2,41.3L212.6,41.4L212.1,41.9L211.7,42.3L211.5,42.9L210.8,42.9L210.1,42.9L209.5,42.9L208.8,42.9L208.1,42.9L207.4,42.9L206.7,42.9L206.0,42.9L205.9,41.9L205.7,41.0L205.5,40.1L205.3,39.2L205.1,38.2L204.9,37.3L204.7,36.4L204.5,35.5L204.2,34.6L204.0,33.7L203.8,32.8L203.5,31.9L203.3,31.0L203.0,30.2L202.8,29.3L202.5,28.4L202.3,27.5L202.0,26.7L201.8,25.8L201.5,25.0Z" fill-rule="evenodd"/><path id="r19" d="M167.5,56.5L167.7,55.7L167.8,54.9L168.6,54.3L169.3,53.7L170.2,53.0L170.4,52.3L170.7,51.7L171.1,51.6L171.8,51.8L172.4,52.0L173.0,52.2L173.8,52.0L174.6,51.8L175.4,51.4L176.2,51.0L177.0,50.9L177.8,50.7L178.5,50.7L179.1,50.7L179.8,50.7L180.5,50.7L181.1,50.7L181.8,50.6L182.5,50.4L183.2,50.3L183.7,50.4L184.1,50.5L183.6,51.0L184.1,51.8L184.3,52.5L183.6,53.2L184.1,53.7L184.5,54.2L185.2,54.4L186.0,54.5L186.6,54.7L187.2,54.9L187.8,55.1L188.1,55.9L188.9,56.1L189.7,56.3L190.3,56.7L191.0,57.0L191.4,56.7L191.8,56.3L191.7,55.4L192.3,54.9L192.9,54.5L193.5,54.7L194.1,54.8L195.0,55.2L195.8,55.7L196.6,55.8L197.5,56.0L198.3,56.2L199.1,56.4L199.8,56.2L200.3,56.0L200.7,55.8L201.3,55.9L201.8,56.1L202.6,56.1L203.4,56.1L203.6,55.3L203.9,54.6L204.0,54.0L204.1,53.4L204.2,52.7L204.3,52.0L204.2,51.4L204.2,50.8L203.6,50.8L203.0,50.7L202.2,51.1L201.5,51.4L200.7,51.2L199.8,51.0L199.2,50.9L198.6,50.8L198.0,50.7L197.2,50.1L196.7,49.1L196.4,48.5L196.3,48.6L196.0,48.6L196.0,48.4L196.1,48.2L196.2,48.2L196.2,48.1L196.1,47.6L196.0,47.1L195.4,47.0L194.8,46.9L194.2,46.9L193.5,47.4L193.2,47.2L193.2,48.1L193.4,48.7L193.7,49.3L194.5,49.6L194.2,50.3L193.8,51.0L193.3,50.9L192.8,50.7L192.4,49.9L192.1,49.0L191.4,48.1L190.6,47.2L190.6,46.5L190.6,45.9L189.8,45.3L189.1,44.9L188.4,44.6L187.8,44.3L187.2,43.6L186.6,42.9L187.4,42.9L188.1,42.9L188.9,42.9L189.7,42.9L190.4,42.9L191.2,42.9L191.9,42.9L192.7,42.9L193.4,42.9L194.2,42.9L194.9,42.9L195.7,42.9L196.4,42.9L197.2,42.9L197.9,42.9L197.5,43.5L197.3,44.2L197.1,44.8L197.0,44.6L197.1,45.2L197.2,45.7L197.9,46.4L198.1,46.5L198.9,46.5L199.7,46.6L200.3,46.3L200.9,46.0L201.5,45.7L202.1,45.7L202.7,45.7L203.5,46.2L204.4,46.6L205.0,46.6L205.7,46.7L206.4,46.7L206.7,46.6L206.9,47.5L207.0,48.4L207.2,49.2L207.3,50.1L207.4,51.0L207.6,51.9L207.7,52.8L207.8,53.7L207.9,54.6L208.0,55.5L208.1,56.4L208.2,57.3L207.5,57.3L206.7,57.3L205.9,57.3L205.2,57.3L204.4,57.3L203.6,57.3L202.8,57.3L202.1,57.3L201.3,57.3L200.5,57.3L199.7,57.3L198.9,57.3L198.0,57.3L197.2,57.3L196.4,57.3L195.6,57.3L194.8,57.3L194.0,57.3L193.2,57.3L192.4,57.3L191.6,57.3L190.8,57.3L190.0,57.3L189.2,57.3L188.4,57.3L187.6,57.3L186.8,57.3L186.0,57.3L185.2,57.3L184.3,57.3L183.5,57.3L182.7,57.3L181.9,57.3L181.1,57.3L180.3,57.3L179.5,57.3L178.7,57.3L177.9,57.3L177.1,57.3L176.3,57.3L175.5,57.3L174.7,57.3L173.9,57.3L173.1,57.3L172.3,57.3L171.4,57.3L170.6,57.3L169.8,57.3L169.0,57.3L168.2,57.3L167.4,57.3ZM184.9,43.3L185.4,43.8L185.9,44.3L186.3,45.0L186.7,45.6L187.3,46.0L187.9,46.3L188.4,46.5L188.9,46.8L189.4,47.2L190.0,47.6L189.4,47.4L188.9,47.3L188.4,48.0L188.9,48.7L188.5,49.1L188.1,49.6L187.8,49.3L187.8,48.5L187.8,47.7L187.3,47.4L186.8,47.1L186.1,46.5L185.6,46.2L185.0,45.9L184.5,45.6L184.0,45.3L183.5,44.6L182.9,43.7L182.4,43.6L181.9,43.5L181.2,44.0L180.7,44.3L180.2,44.7L179.7,44.5L179.1,44.4L178.5,44.5L177.9,44.6L177.8,45.4L177.9,45.8L177.4,46.2L177.0,46.5L176.5,46.6L176.1,46.7L175.8,47.3L175.4,47.8L175.2,48.3L175.6,48.9L175.2,49.4L174.8,50.0L174.3,50.4L173.7,50.8L173.1,50.8L172.5,50.8L171.9,50.8L171.4,51.2L170.9,51.5L170.4,51.0L169.9,50.7L169.5,50.3L168.9,50.4L168.3,50.5L168.1,49.7L167.9,48.9L168.1,48.0L168.4,47.2L168.5,46.4L168.5,45.7L168.2,44.8L168.7,44.4L169.2,44.1L169.8,44.1L170.4,44.2L170.9,44.2L171.7,44.3L172.5,44.4L173.2,44.4L174.0,44.4L174.2,43.9L174.4,43.3L174.4,42.9L175.2,42.9L175.9,42.9L176.7,42.9L177.4,42.9L178.2,42.9L178.9,42.9L179.6,42.9L180.4,42.9L181.1,42.9L181.9,42.9L182.6,42.9L183.4,42.9L184.1,42.9L184.9,42.9ZM205.0,43.5L204.2,43.2L203.8,42.9L204.5,42.9L205.3,42.9L206.0,42.9L206.2,43.6L206.3,44.4L205.7,44.0ZM201.1,43.3L200.6,42.9L201.2,42.9L201.7,42.9L202.2,42.9L201.7,43.1ZM202.7,52.6L202.2,52.7L201.6,52.8L201.4,52.4L202.0,52.2L202.6,52.1L203.1,51.9ZM194.4,52.3L194.3,51.9L195.1,52.0L195.8,52.1L196.6,52.2L196.5,52.5L195.8,52.4L195.1,52.3ZM197.9,51.5L197.6,51.5L197.6,51.3L197.8,51.1L198.0,51.1L198.1,51.4ZM187.5,50.8L186.7,50.5L186.0,50.3L185.3,50.0L185.3,49.6L185.9,49.5L186.5,49.4L187.2,49.4L187.8,49.3L187.6,50.1ZM178.2,48.1L177.9,48.4L177.4,48.3L177.4,47.9L177.6,47.7L178.0,47.7ZM183.0,48.4L182.5,48.5L182.1,48.6L182.0,47.9L182.0,47.2L182.0,46.5L182.5,46.6L182.9,46.7L183.0,47.6ZM182.7,46.3L182.1,45.9L182.1,45.3L182.1,44.8L182.8,45.0L182.7,45.6Z" fill-rule="evenodd"/><path id="r20" d="M163.0,59.1L162.7,59.3L162.2,59.2L162.2,58.9L162.5,58.6L162.9,58.7ZM164.4,58.6L164.1,58.7L163.7,58.7L163.7,58.4L163.9,58.2L164.3,58.2ZM161.5,70.9L161.7,70.1L161.9,69.4L161.8,68.5L161.7,67.7L161.4,66.8L161.1,66.0L161.5,65.1L161.8,64.2L162.1,63.3L162.5,62.6L162.9,61.9L163.4,61.2L164.0,60.4L164.7,59.5L165.5,59.2L166.3,59.0L166.8,58.4L167.3,57.8L167.4,57.3L168.2,57.3L169.0,57.3L169.8,57.3L170.6,57.3L171.4,57.3L172.3,57.3L173.1,57.3L173.9,57.3L174.7,57.3L175.5,57.3L176.3,57.3L177.1,57.3L177.9,57.3L178.7,57.3L179.5,57.3L180.3,57.3L181.1,57.3L181.9,57.3L182.7,57.3L183.5,57.3L184.3,57.3L185.2,57.3L186.0,57.3L186.8,57.3L187.6,57.3L188.4,57.3L189.2,57.3L190.0,57.3L190.8,57.3L191.6,57.3L192.4,57.3L193.2,57.3L194.0,57.3L194.8,57.3L195.6,57.3L196.4,57.3L197.2,57.3L198.0,57.3L198.9,57.3L199.7,57.3L200.5,57.3L201.3,57.3L202.1,57.3L202.2,57.4L202.6,58.3L203.1,59.2L203.3,60.0L203.6,60.7L204.1,61.5L204.5,62.3L205.0,63.1L205.6,64.1L206.3,65.1L206.4,65.9L206.6,66.7L206.7,67.5L206.7,67.4L207.2,68.2L207.8,68.9L208.2,69.7L208.6,70.5L209.0,71.3L209.6,72.1L210.1,72.8L210.9,73.4L211.6,74.1L211.7,74.2L210.9,74.1L210.0,74.0L209.2,74.0L208.3,73.9L207.5,73.8L206.7,73.8L205.8,73.7L205.0,73.6L204.1,73.5L203.3,73.5L202.4,73.4L201.6,73.3L200.7,73.2L199.9,73.2L199.1,73.1L198.2,73.0L197.4,72.9L196.5,72.9L195.7,72.8L194.8,72.7L194.0,72.6L193.2,72.6L192.3,72.5L191.5,72.4L190.6,72.3L189.8,72.3L188.9,72.2L188.1,72.1L187.3,72.1L186.4,72.1L185.6,72.1L184.8,72.1L183.9,72.1L183.1,72.1L182.3,72.1L181.4,72.1L180.6,72.1L179.8,72.1L178.9,72.1L178.1,72.1L177.3,72.1L176.4,72.1L175.6,72.1L174.8,72.1L173.9,72.1L173.1,72.1L172.3,72.1L171.4,72.1L170.6,72.1L169.8,72.1L168.9,72.1L168.1,72.1L167.3,72.1L166.4,72.1L165.6,72.1L164.8,72.1L163.9,72.1L163.1,72.1L162.2,72.1L161.4,72.1L160.6,72.1L161.0,71.5ZM203.6,59.2L203.7,59.4L203.1,58.5L202.5,57.6L202.1,57.3L202.5,57.3L203.1,58.2L203.7,59.1Z" fill-rule="evenodd"/><path id="r21" d="M183.5,84.4L183.6,83.5L183.8,82.7L183.5,82.5L182.7,82.0L182.0,82.0L181.4,82.1L180.5,82.2L180.1,81.6L179.7,80.9L178.8,80.2L178.3,80.2L177.6,80.3L176.9,80.4L176.3,80.5L175.4,81.0L174.5,81.5L173.7,81.7L172.8,81.5L172.0,81.3L171.2,81.5L170.5,81.7L169.7,81.9L169.0,82.1L168.1,81.6L167.3,81.0L166.4,80.3L165.6,79.7L164.9,78.9L164.2,78.1L164.0,77.5L163.9,77.0L163.3,76.4L162.6,75.9L161.9,75.1L161.2,74.3L161.1,73.6L161.0,72.8L160.6,72.1L161.4,72.1L162.2,72.1L163.1,72.1L163.9,72.1L164.8,72.1L165.6,72.1L166.4,72.1L167.3,72.1L168.1,72.1L168.9,72.1L169.8,72.1L170.6,72.1L171.4,72.1L172.3,72.1L173.1,72.1L173.9,72.1L174.8,72.1L175.6,72.1L176.4,72.1L177.3,72.1L178.1,72.1L178.9,72.1L179.8,72.1L180.6,72.1L181.4,72.1L182.3,72.1L183.1,72.1L183.9,72.1L184.8,72.1L185.6,72.1L186.4,72.1L187.3,72.1L188.1,72.1L187.8,73.1L187.4,74.0L187.1,75.0L186.7,75.9L186.4,76.9L186.0,77.8L185.7,78.8L185.3,79.7L184.9,80.7L184.6,81.6L184.2,82.6L183.9,83.5L183.5,84.5Z" fill-rule="evenodd"/><path id="r22" d="M186.6,95.1L186.6,94.9L186.4,94.0L186.1,93.1L185.8,92.2L185.6,91.2L185.2,90.6L184.8,90.0L184.2,89.2L183.5,88.3L183.4,87.3L183.4,86.3L183.4,85.4L183.5,84.5L183.9,83.5L184.2,82.6L184.6,81.6L184.9,80.7L185.3,79.7L185.7,78.8L186.0,77.8L186.4,76.9L186.7,75.9L187.1,75.0L187.4,74.0L187.8,73.1L188.1,72.1L188.9,72.1L189.8,72.1L190.6,72.1L191.5,72.1L192.3,72.1L193.2,72.1L194.0,72.1L194.9,72.1L195.7,72.1L196.6,72.1L197.4,72.1L198.3,72.1L198.3,73.1L198.3,74.0L198.3,75.0L198.4,75.9L198.4,76.9L198.4,77.9L198.4,78.8L198.4,79.8L198.4,80.7L198.5,81.7L198.5,82.6L198.5,83.6L198.5,84.6L198.5,85.5L198.5,86.5L198.5,87.4L198.5,88.4L198.5,89.3L198.5,90.3L198.5,91.2L198.4,92.2L198.4,93.2L198.4,94.1L198.4,95.1L198.4,96.0L197.5,96.0L196.7,96.0L195.9,96.0L195.0,96.0L194.2,96.0L193.4,96.0L192.5,96.0L191.7,96.0L190.9,96.0L190.1,96.0L189.2,96.0L188.4,96.0L187.6,96.0L186.7,96.0Z" fill-rule="evenodd"/><path id="r23" d="M213.6,74.0L213.1,74.0L213.5,73.8L214.0,73.7ZM212.2,75.0L212.7,75.7L213.3,76.3L214.0,76.1L214.7,75.8L215.4,75.6L216.2,75.5L217.1,75.4L217.7,75.3L218.3,75.1L219.0,74.9L218.9,75.6L218.8,76.3L218.7,76.8L218.7,77.3L218.3,78.2L218.0,79.0L217.6,79.8L217.2,80.5L216.8,81.3L216.4,82.0L215.8,82.7L215.3,83.5L214.7,84.2L214.4,84.4L213.6,84.4L212.8,84.4L211.9,84.4L211.1,84.4L210.2,84.4L209.4,84.4L208.6,84.4L207.7,84.4L206.9,84.4L206.0,84.4L205.2,84.4L204.4,84.4L203.5,84.4L202.7,84.4L201.8,84.4L201.0,84.4L200.2,84.4L199.3,84.4L198.5,84.4L198.5,83.5L198.5,82.5L198.5,81.6L198.4,80.6L198.4,79.7L198.4,78.7L198.4,77.8L198.4,76.8L198.4,75.9L198.3,75.0L198.3,74.0L198.3,73.1L198.3,72.1L199.1,72.2L199.9,72.4L200.8,72.5L201.6,72.6L202.5,72.8L203.3,72.9L204.1,73.0L205.0,73.1L205.8,73.3L206.7,73.4L207.5,73.5L208.3,73.6L209.2,73.8L210.0,73.9L210.9,74.0L211.7,74.2Z" fill-rule="evenodd"/><path id="r24" d="M209.7,96.0L208.8,96.0L208.0,96.0L207.2,96.0L206.4,96.0L205.6,96.0L204.8,96.0L204.0,96.0L203.2,96.0L202.4,96.0L201.6,96.0L200.8,96.0L200.0,96.0L199.2,96.0L198.4,96.0L198.4,95.1L198.4,94.1L198.4,93.1L198.4,92.2L198.5,91.2L198.5,90.2L198.5,89.3L198.5,88.3L198.5,87.3L198.5,86.3L198.5,85.4L198.5,84.4L199.3,84.4L200.2,84.4L201.0,84.4L201.8,84.4L202.7,84.4L203.5,84.4L204.4,84.4L205.2,84.4L206.0,84.4L206.9,84.4L207.7,84.4L208.6,84.4L209.4,84.4L210.2,84.4L211.1,84.4L211.9,84.4L212.8,84.4L213.6,84.4L214.4,84.4L213.7,84.9L213.0,85.4L212.2,86.3L211.3,87.3L210.9,87.9L210.4,88.4L209.8,89.1L209.5,89.7L209.3,90.3L209.1,91.2L208.8,92.1L208.9,92.1L209.1,92.1L209.2,92.3L209.0,92.5L208.7,92.4L208.7,92.6L208.9,92.9L209.0,93.8L209.1,94.6L209.4,95.3Z" fill-rule="evenodd"/><path id="r25" d="M193.6,119.3L192.9,119.5L192.2,119.8L191.5,120.0L190.9,119.8L190.4,119.5L190.3,118.9L190.3,118.3L190.1,117.6L189.9,116.8L189.6,115.9L189.3,115.0L189.0,114.0L188.5,113.1L188.0,112.1L187.9,111.2L187.8,110.3L187.6,109.4L187.5,108.5L187.2,107.6L186.8,106.6L186.5,105.7L186.1,104.7L185.7,103.8L185.4,102.8L185.5,101.8L185.6,100.9L186.0,99.9L186.4,98.9L186.9,98.0L186.8,97.0L186.7,96.0L187.5,96.0L188.4,96.0L189.2,96.0L190.0,96.0L190.9,96.0L191.7,96.0L192.5,96.0L193.4,96.0L194.2,96.0L195.0,96.0L195.8,96.0L196.7,96.0L196.7,97.0L196.6,98.0L196.6,98.9L196.6,99.9L196.6,100.9L196.5,101.8L196.5,102.8L196.5,103.8L196.4,104.7L196.4,105.7L196.4,106.7L196.3,107.6L196.3,108.6L196.2,109.6L196.2,110.5L196.1,111.5L196.1,112.5L196.0,113.5L196.0,114.4L195.9,115.4L195.9,116.4L195.8,117.3L195.7,118.3L195.6,119.3L195.0,119.3L194.3,119.3Z" fill-rule="evenodd"/><path id="r26" d="M209.9,96.5L209.8,97.3L209.8,98.1L209.8,98.9L209.9,99.7L210.0,100.4L209.4,101.4L208.8,102.3L208.0,102.7L207.3,103.2L206.6,103.6L205.9,104.4L205.2,105.2L204.6,105.5L204.7,106.2L204.8,106.9L204.9,107.6L205.0,108.6L205.0,109.6L204.3,110.1L203.5,110.5L202.8,111.0L202.5,111.5L202.6,112.5L202.0,113.4L201.5,114.3L200.9,115.2L200.4,115.9L199.9,116.6L199.0,117.4L198.2,118.1L197.5,118.5L196.8,118.9L196.1,119.3L195.6,119.3L195.7,118.3L195.8,117.3L195.9,116.4L195.9,115.4L196.0,114.4L196.0,113.5L196.1,112.5L196.1,111.5L196.2,110.5L196.2,109.6L196.3,108.6L196.3,107.6L196.4,106.7L196.4,105.7L196.4,104.7L196.5,103.8L196.5,102.8L196.5,101.8L196.6,100.9L196.6,99.9L196.6,98.9L196.6,98.0L196.7,97.0L196.7,96.0L197.5,96.0L198.3,96.0L199.1,96.0L199.9,96.0L200.7,96.0L201.5,96.0L202.4,96.0L203.2,96.0L204.0,96.0L204.8,96.0L205.6,96.0L206.4,96.0L207.2,96.0L208.0,96.0L208.8,96.0L209.7,96.0Z" fill-rule="evenodd"/><path id="r27" d="M212.7,105.2L212.7,104.5L212.6,103.8L212.5,103.1L212.8,102.6L213.0,102.0L213.7,101.8L214.5,101.6L215.0,101.1L215.6,100.6L215.9,100.0L216.1,99.4L216.7,98.7L217.3,98.0L217.5,98.8L217.7,99.6L217.9,100.4L218.0,101.3L217.7,102.0L217.4,102.8L217.1,103.6L216.8,104.4L216.5,105.2L216.1,106.2L215.8,107.2L215.4,108.1L215.2,108.9L214.9,109.7L214.6,110.5L213.8,110.8L213.0,111.1L212.5,110.8L212.0,110.5L211.9,109.7L211.8,108.9L211.7,108.1L211.9,107.4L212.0,106.7L212.4,105.9ZM212.6,97.7L212.4,97.9L212.1,97.8L212.1,97.6L212.1,97.6L212.3,97.5L212.5,97.5Z" fill-rule="evenodd"/><path id="r28" d="M64.6,24.2L63.6,24.7L62.7,25.2L62.3,25.1L61.9,24.9L61.5,24.8L61.1,24.6L60.8,24.4L60.4,24.2L59.5,24.4L58.6,24.6L59.7,23.8L60.9,23.0L62.1,22.2L63.3,21.5L63.6,21.7L63.9,21.9L64.2,22.1L64.5,22.3L64.8,22.5L65.2,22.7L65.5,22.9L65.8,23.2L66.0,23.5L66.3,23.7L65.4,24.0ZM201.1,23.7L200.8,22.9L200.6,22.2L200.9,22.3L201.7,23.1L201.4,23.4L201.2,23.6ZM67.7,19.3L67.2,19.7L66.0,20.1L65.6,20.0L66.8,19.3L67.3,19.3ZM283.3,19.2L284.0,19.3L284.9,19.8L284.9,20.0L284.2,19.9L283.4,19.4ZM204.3,22.1L204.8,22.2L205.4,22.3L205.9,22.4L206.4,22.3L206.9,22.1L207.5,22.0L208.0,21.9L208.5,21.7L209.2,21.8L209.9,21.9L210.4,21.8L211.0,21.6L211.5,21.5L212.0,21.2L212.5,20.9L213.1,21.0L213.8,21.0L214.4,21.0L215.0,21.1L215.6,21.1L216.1,21.1L216.6,21.2L217.3,21.7L217.8,21.6L218.3,21.4L217.9,20.8L217.4,20.3L217.0,19.7L216.6,18.9L216.2,18.1L216.7,18.2L217.3,18.2L217.8,18.2L218.6,19.0L219.4,19.7L219.9,20.4L220.3,21.1L220.7,21.7L221.4,22.4L222.1,23.0L222.2,22.4L222.3,21.7L222.1,20.9L221.8,20.1L221.6,19.3L221.8,19.0L222.0,18.7L222.4,18.6L222.9,18.6L223.4,18.5L222.4,17.7L223.0,17.7L223.5,17.7L224.0,17.6L224.5,17.5L224.9,17.4L225.4,17.4L225.8,17.3L225.5,16.6L225.9,16.4L226.3,16.3L226.7,16.1L227.2,16.0L227.6,15.8L228.1,15.8L228.7,15.8L229.2,15.8L229.7,15.8L230.2,15.7L230.7,15.6L231.2,15.6L231.7,15.5L231.9,15.3L232.2,15.1L232.5,15.0L232.7,14.8L233.0,14.6L233.7,14.8L234.4,14.9L235.1,15.1L235.8,15.2L236.4,15.3L237.1,15.3L237.8,15.4L238.5,15.6L239.3,15.7L240.0,15.9L240.1,16.3L240.2,16.6L239.9,16.9L239.6,17.1L239.3,17.4L239.9,17.4L240.5,17.5L241.1,17.6L241.7,17.6L242.3,17.6L242.9,17.6L243.5,17.6L244.1,17.7L244.7,17.7L245.3,17.7L246.0,17.8L246.6,17.8L247.3,17.9L247.9,17.9L248.4,17.9L248.8,17.8L249.3,17.8L249.8,17.7L250.6,18.0L251.4,18.3L252.2,18.5L253.2,18.8L254.2,19.2L255.2,19.5L255.8,19.4L256.4,19.4L256.9,19.4L257.5,19.3L258.1,19.3L258.3,19.0L258.6,18.8L258.8,18.5L259.4,18.5L260.0,18.5L260.6,18.5L261.2,18.5L262.0,18.7L262.7,18.8L263.5,18.9L264.3,19.0L265.1,19.2L265.9,19.3L266.7,19.5L267.6,19.6L268.4,19.8L269.0,19.8L269.5,19.7L270.1,19.7L270.7,19.7L271.6,19.9L272.5,20.1L273.5,20.3L274.4,20.6L275.4,20.8L276.0,20.8L276.6,20.8L277.3,20.8L277.9,20.8L278.5,20.8L278.9,20.7L279.3,20.6L279.7,20.4L280.4,20.5L281.1,20.5L281.7,20.5L282.4,20.6L283.0,20.6L283.9,20.8L284.8,20.9L285.7,21.1L286.6,21.3L287.5,21.5L288.7,22.2L289.9,23.0L291.1,23.8L292.2,24.6L291.8,24.7L291.2,24.7L290.5,24.7L289.9,24.7L289.2,24.7L288.6,24.7L288.0,24.7L287.3,24.7L286.7,24.7L286.0,24.7L285.4,24.7L284.7,24.7L284.1,24.7L283.4,24.7L282.8,24.7L282.1,24.7L281.5,24.7L280.9,24.7L280.2,24.7L279.6,24.7L278.9,24.7L278.3,24.7L277.6,24.7L277.0,24.7L276.3,24.7L275.7,24.7L275.0,24.7L274.4,24.7L273.8,24.7L273.1,24.7L272.5,24.7L271.8,24.7L271.2,24.7L270.5,24.7L269.9,24.7L269.2,24.7L268.6,24.7L267.9,24.7L267.3,24.7L266.7,24.7L266.0,24.7L265.4,24.7L264.7,24.7L264.1,24.7L263.4,24.7L262.8,24.7L262.1,24.7L261.5,24.7L260.8,24.7L260.2,24.7L259.6,24.7L258.9,24.7L258.3,24.7L257.6,24.7L257.0,24.7L256.3,24.7L255.7,24.7L255.0,24.7L254.4,24.7L253.7,24.7L253.1,24.7L252.5,24.7L251.8,24.7L251.2,24.7L250.5,24.7L249.9,24.7L249.2,24.7L248.6,24.7L247.9,24.7L247.3,24.7L246.6,24.7L246.0,24.7L245.4,24.7L244.7,24.7L244.1,24.7L243.4,24.7L242.8,24.7L242.1,24.7L241.5,24.7L240.8,24.7L240.2,24.7L239.5,24.7L238.9,24.7L238.3,24.7L237.6,24.7L237.0,24.7L236.3,24.7L235.7,24.7L235.0,24.7L234.4,24.7L233.7,24.7L233.1,24.7L232.4,24.7L231.8,24.7L231.2,24.7L230.5,24.7L229.9,24.7L229.2,24.7L228.6,24.7L227.9,24.7L227.3,24.7L226.6,24.7L226.0,24.7L225.3,24.7L224.7,24.7L224.1,24.7L223.4,24.7L222.8,24.7L222.1,24.7L221.5,24.7L220.8,24.7L220.2,24.7L219.5,24.7L218.9,24.7L218.2,24.7L217.6,24.7L217.0,24.7L216.3,24.7L215.7,24.7L215.0,24.7L214.4,24.7L213.8,24.7L213.1,24.7L212.5,24.7L211.9,24.7L211.3,24.7L210.7,24.7L210.0,24.7L209.4,24.7L208.8,24.7L208.2,24.7L207.6,24.7L206.9,24.7L206.3,24.7L205.7,24.7L205.1,24.7L204.5,24.7L203.8,24.7L203.2,24.7L202.6,24.7L202.0,24.7L202.4,24.4L202.9,24.0L203.3,23.7L203.3,23.1L203.2,22.6L202.9,21.7L203.6,21.9ZM206.8,19.3L207.0,18.9L207.2,18.4L207.4,17.9L207.5,17.4L207.8,16.9L208.1,16.4L208.4,16.0L208.9,15.9L209.3,15.7L209.8,15.6L210.3,15.5L210.8,15.4L211.3,15.4L211.8,15.4L212.2,15.3L212.7,15.3L213.2,15.2L213.7,15.2L213.5,15.5L213.4,15.8L212.9,16.0L212.4,16.1L212.0,16.2L211.5,16.3L211.0,16.5L210.5,16.6L210.1,16.9L209.7,17.1L209.3,17.4L209.0,17.9L208.7,18.4L208.9,19.0L209.0,19.5L209.6,19.8L210.2,20.0L209.6,20.0L209.1,19.9L208.5,19.9L208.0,19.9L207.4,19.6ZM257.1,17.4L256.2,17.1L255.2,16.9L254.3,16.6L254.7,16.5L255.2,16.5L255.7,16.4L256.2,16.3L256.6,16.3L257.1,16.2L257.8,16.3L258.4,16.3L259.1,16.4L259.7,16.4L260.4,16.5L261.1,16.5L261.7,16.6L261.4,16.8L261.1,16.9L260.7,17.1L260.4,17.2L260.1,17.4L259.5,17.4L258.9,17.4L258.3,17.4L257.7,17.4ZM231.6,13.7L231.2,13.8L230.8,13.9L230.4,14.0L230.0,14.1L229.3,14.0L228.7,13.9L228.0,13.9L227.4,13.8L226.7,13.7L227.1,13.6L227.6,13.5L228.0,13.4L228.4,13.3L228.8,13.2L229.5,13.3L230.2,13.5L230.9,13.6Z" fill-rule="evenodd"/><path id="r29" d="M214.4,24.7L215.0,24.7L215.7,24.7L216.3,24.7L217.0,24.7L217.6,24.7L218.3,24.7L218.9,24.7L219.6,24.7L220.2,24.7L220.9,24.7L221.5,24.7L222.2,24.7L222.8,24.7L223.5,24.7L224.1,24.7L224.8,24.7L225.4,24.7L226.1,24.7L226.7,24.7L227.4,24.7L228.0,24.7L228.7,24.7L229.3,24.7L230.0,24.7L230.6,24.7L231.3,24.7L231.9,24.7L232.6,24.7L233.2,24.7L233.9,24.7L234.5,25.5L235.1,26.4L235.7,27.3L236.3,28.1L236.9,29.0L237.4,29.9L238.0,30.8L238.6,31.7L239.1,32.6L239.7,33.5L240.2,34.4L240.7,35.4L241.2,36.3L241.7,37.2L242.2,38.1L242.6,39.1L243.1,40.0L243.5,41.0L243.9,41.9L244.4,42.9L243.6,42.9L242.8,42.9L242.1,42.9L241.3,42.9L240.5,42.9L239.8,42.9L239.0,42.9L238.2,42.9L237.5,42.9L236.7,42.9L235.9,42.9L235.2,42.9L234.4,42.9L233.6,42.9L232.9,42.9L232.1,42.9L231.3,42.9L230.6,42.9L229.8,42.9L229.0,42.9L228.3,42.9L227.5,42.9L226.7,42.9L226.0,42.9L225.2,42.9L224.4,42.9L223.7,42.9L222.9,42.9L222.1,42.9L221.4,42.9L221.1,41.9L220.8,41.0L220.5,40.0L220.2,39.1L219.9,38.1L219.6,37.2L219.3,36.3L218.9,35.4L218.6,34.4L218.2,33.5L217.9,32.6L217.5,31.7L217.1,30.8L216.8,29.9L216.4,29.0L216.0,28.1L215.6,27.3L215.2,26.4L214.8,25.5Z" fill-rule="evenodd"/><path id="r30" d="M233.9,24.7L234.5,24.7L235.2,24.7L235.8,24.7L236.5,24.7L237.1,24.7L237.8,24.7L238.4,24.7L239.1,24.7L239.7,24.7L240.4,24.7L241.0,24.7L241.7,24.7L242.3,24.7L243.0,24.7L243.6,24.7L244.3,24.7L244.9,24.7L245.5,24.7L246.2,24.7L246.8,24.7L247.5,24.7L248.1,24.7L248.8,24.7L249.4,24.7L250.1,24.7L250.7,24.7L251.4,24.7L252.0,24.7L252.7,24.7L253.3,24.7L254.0,24.7L254.6,24.7L255.3,24.7L255.9,24.7L256.6,24.7L257.2,24.7L257.9,24.7L258.5,24.7L259.2,24.7L259.8,24.7L260.5,24.7L261.4,25.5L262.3,26.4L263.1,27.3L264.0,28.1L264.8,29.0L265.7,29.9L266.5,30.8L267.3,31.7L268.1,32.6L268.9,33.5L269.7,34.4L270.5,35.4L271.2,36.3L271.9,37.2L272.6,38.1L273.3,39.1L273.9,40.0L274.6,41.0L275.2,41.9L275.8,42.9L275.0,42.9L274.2,42.9L273.5,42.9L272.7,42.9L271.9,42.9L271.2,42.9L270.4,42.9L269.6,42.9L268.9,42.9L268.1,42.9L267.3,42.9L266.6,42.9L265.8,42.9L265.0,42.9L264.3,42.9L263.5,42.9L262.8,42.9L262.0,42.9L261.2,42.9L260.5,42.9L259.7,42.9L258.9,42.9L258.2,42.9L257.4,42.9L256.6,42.9L255.9,42.9L255.1,42.9L254.3,42.9L253.6,42.9L252.8,42.9L252.0,42.9L251.3,42.9L250.5,42.9L249.7,42.9L249.0,42.9L248.2,42.9L247.4,42.9L246.7,42.9L245.9,42.9L245.1,42.9L244.4,42.9L243.9,41.9L243.5,41.0L243.1,40.0L242.6,39.1L242.2,38.1L241.7,37.2L241.2,36.3L240.7,35.4L240.2,34.4L239.7,33.5L239.1,32.6L238.6,31.7L238.0,30.8L237.4,29.9L236.9,29.0L236.3,28.1L235.7,27.3L235.1,26.4L234.5,25.5Z" fill-rule="evenodd"/><path id="r31" d="M290.7,24.9L292.0,25.5L293.4,26.2L294.7,26.8L295.0,27.0L294.5,27.1L294.0,27.1L293.6,27.2L293.1,27.3L292.6,27.4L292.2,27.4L292.0,27.8L291.8,28.2L291.7,28.6L291.5,29.0L290.7,28.9L289.9,28.9L289.2,28.8L288.4,28.7L288.0,28.9L287.5,29.1L287.7,29.7L287.9,30.3L288.9,31.0L289.9,31.7L290.9,32.4L290.8,33.0L290.7,33.5L290.9,34.2L291.0,34.9L290.8,35.2L290.5,35.4L290.7,36.3L290.8,37.2L289.9,36.5L289.0,35.8L288.2,35.0L287.4,34.3L286.6,33.5L286.1,32.8L285.5,32.0L284.9,31.2L285.3,31.0L285.6,30.8L285.2,30.0L284.6,29.3L284.1,28.6L284.2,28.1L284.3,27.7L284.3,27.3L284.4,26.8L284.0,27.0L283.6,27.1L283.2,27.3L282.8,27.4L282.2,27.5L281.6,27.5L281.0,27.6L281.3,28.3L281.6,29.0L281.9,29.6L281.3,29.7L280.6,29.7L280.0,29.7L279.4,29.5L278.8,29.4L278.2,29.4L277.6,29.5L277.0,29.5L276.3,29.6L275.7,29.6L275.1,29.6L274.4,29.6L273.7,29.6L273.4,29.9L273.1,30.2L272.9,30.5L272.8,31.1L272.7,31.6L272.7,32.1L273.2,33.1L273.6,34.0L272.9,34.0L272.2,34.0L273.0,34.2L273.8,34.5L274.6,34.7L275.4,34.9L276.2,35.1L277.1,35.3L277.9,35.5L278.7,36.1L279.0,36.9L279.3,37.7L279.9,38.6L280.6,39.6L280.5,40.4L280.4,41.2L280.4,42.0L280.3,42.9L279.6,42.9L278.8,42.9L278.1,42.9L277.3,42.9L276.5,42.9L275.8,42.9L275.2,41.9L274.6,41.0L273.9,40.0L273.3,39.1L272.6,38.1L271.9,37.2L271.2,36.3L270.5,35.4L269.7,34.4L268.9,33.5L268.1,32.6L267.3,31.7L266.5,30.8L265.7,29.9L264.8,29.0L264.0,28.1L263.1,27.3L262.3,26.4L261.4,25.5L260.5,24.7L261.1,24.7L261.8,24.7L262.4,24.7L263.0,24.7L263.7,24.7L264.3,24.7L265.0,24.7L265.6,24.7L266.2,24.7L266.9,24.7L267.5,24.7L268.2,24.7L268.8,24.7L269.4,24.7L270.1,24.7L270.7,24.7L271.4,24.7L272.0,24.7L272.6,24.7L273.3,24.7L273.9,24.7L274.6,24.7L275.2,24.7L275.8,24.7L276.5,24.7L277.1,24.7L277.8,24.7L278.4,24.7L279.0,24.7L279.7,24.7L280.3,24.7L281.0,24.7L281.6,24.7L282.2,24.7L282.9,24.7L283.5,24.7L284.2,24.7L284.8,24.7L285.4,24.7L286.1,24.7L286.7,24.7L287.4,24.7L288.0,24.7L288.6,24.7L289.3,24.7L289.9,24.7L290.5,24.7L291.2,24.7L291.8,24.7L291.5,24.7L291.1,24.8ZM283.7,42.5L284.4,42.9L283.9,42.9ZM290.0,42.0L289.9,42.2L289.5,42.1L289.3,41.8L289.4,41.6L289.7,41.7ZM290.8,41.0L290.7,41.2L290.3,41.2L290.1,40.9L290.2,40.7L290.5,40.7ZM291.1,39.8L290.7,39.8L290.5,39.5L290.5,39.3L290.9,39.3L291.2,39.6ZM281.4,39.2L280.9,38.4L280.4,37.6L279.9,36.7L279.2,35.8L278.5,35.0L277.8,34.1L278.3,34.4L279.1,35.2L279.8,36.0L280.5,36.7L281.1,37.4L281.7,38.1L282.3,38.8L283.0,39.7L283.7,40.6L284.4,41.4L283.9,41.6L283.5,41.8L283.2,41.4L282.6,40.7L282.0,39.9ZM291.3,37.9L291.2,38.1L290.8,38.1L290.6,37.8L290.6,37.6L290.9,37.6Z" fill-rule="evenodd"/><path id="r32" d="M207.8,46.2L207.7,45.3L207.0,44.8L206.3,44.4L206.2,43.6L206.0,42.9L206.7,42.9L207.4,42.9L208.1,42.9L208.8,42.9L209.5,42.9L210.1,42.9L210.8,42.9L211.5,42.9L211.5,43.1L211.7,43.7L212.0,44.3L212.7,45.3L213.3,45.7L213.9,46.2L214.4,46.7L215.0,47.3L214.3,47.4L214.3,48.2L214.2,49.1L214.9,50.1L215.5,50.4L216.2,50.8L217.0,50.6L217.7,50.4L218.4,50.3L218.2,49.5L217.9,48.8L217.7,48.1L217.8,47.2L216.9,46.7L216.6,45.7L215.9,45.3L215.3,44.8L214.3,43.8L214.6,43.3L215.0,43.1L215.4,42.9L216.2,42.9L217.0,42.9L217.7,42.9L218.5,42.9L219.2,42.9L220.0,42.9L220.7,42.9L221.5,42.9L222.3,42.9L223.0,42.9L223.8,42.9L224.5,42.9L225.3,42.9L226.0,42.9L226.8,42.9L227.6,42.9L228.3,42.9L229.1,42.9L229.8,42.9L230.6,42.9L231.4,42.9L232.1,42.9L232.9,42.9L233.2,43.8L233.5,44.8L233.9,45.7L234.2,46.7L234.5,47.7L234.8,48.6L235.1,49.6L235.3,50.5L235.6,51.5L235.8,52.5L236.1,53.4L236.3,54.4L236.5,55.4L236.8,56.3L237.0,57.3L236.1,57.3L235.3,57.3L234.5,57.3L233.7,57.3L232.9,57.3L232.0,57.3L231.2,57.3L230.4,57.3L229.6,57.3L228.8,57.3L227.9,57.3L227.1,57.3L226.3,57.3L225.5,57.3L224.6,57.3L223.9,57.3L223.1,57.3L222.3,57.3L221.5,57.3L220.7,57.3L219.9,57.3L219.1,57.3L218.4,57.3L217.6,57.3L216.8,57.3L216.0,57.3L215.2,57.3L214.4,57.3L213.7,57.3L212.9,57.3L212.1,57.3L211.3,57.3L210.6,57.3L209.8,57.3L209.0,57.3L208.2,57.3L208.1,56.4L208.0,55.5L207.9,54.6L207.8,53.7L207.7,52.8L207.6,51.9L207.4,51.0L207.3,50.1L207.2,49.2L207.0,48.4L206.9,47.5L206.7,46.6L207.3,46.4Z" fill-rule="evenodd"/><path id="r33" d="M265.0,42.9L264.8,43.7L264.4,44.6L264.1,45.4L263.8,46.3L263.4,47.1L263.0,48.0L262.6,48.8L262.2,49.7L261.7,50.5L260.9,50.5L260.1,50.5L259.3,50.5L258.5,50.5L257.7,50.5L256.9,50.5L256.1,50.5L255.3,50.5L254.5,50.5L253.7,50.5L252.9,50.5L252.1,50.5L251.3,50.5L250.5,50.5L249.7,50.5L248.9,50.5L248.1,50.5L247.3,50.5L246.5,50.5L245.7,50.5L244.9,50.5L244.1,50.5L243.3,50.5L242.5,50.5L241.7,50.5L240.9,50.5L240.1,50.5L239.3,50.5L238.5,50.5L237.7,50.5L236.9,50.5L236.1,50.5L235.3,50.5L235.1,49.6L234.8,48.6L234.5,47.7L234.2,46.7L233.9,45.7L233.5,44.8L233.2,43.8L232.9,42.9L233.6,42.9L234.4,42.9L235.2,42.9L235.9,42.9L236.7,42.9L237.5,42.9L238.2,42.9L239.0,42.9L239.8,42.9L240.5,42.9L241.3,42.9L242.1,42.9L242.8,42.9L243.6,42.9L244.4,42.9L245.1,42.9L245.9,42.9L246.7,42.9L247.4,42.9L248.2,42.9L249.0,42.9L249.7,42.9L250.5,42.9L251.3,42.9L252.0,42.9L252.8,42.9L253.6,42.9L254.3,42.9L255.1,42.9L255.9,42.9L256.6,42.9L257.4,42.9L258.2,42.9L258.9,42.9L259.7,42.9L260.5,42.9L261.2,42.9L262.0,42.9L262.8,42.9L263.5,42.9L264.3,42.9Z" fill-rule="evenodd"/><path id="r34" d="M235.3,50.5L236.1,50.5L236.9,50.5L237.7,50.5L238.5,50.5L239.3,50.5L240.1,50.5L240.9,50.5L241.7,50.5L242.5,50.5L243.3,50.5L244.1,50.5L244.9,50.5L245.7,50.5L246.5,50.5L247.3,50.5L248.1,50.5L248.9,50.5L249.7,50.5L250.5,50.5L251.3,50.5L252.1,50.5L252.9,50.5L253.7,50.5L254.5,50.5L255.3,50.5L255.7,51.5L256.0,52.5L256.3,53.4L256.6,54.4L256.9,55.4L257.2,56.3L257.5,57.3L256.7,57.6L256.0,57.9L255.2,58.2L254.5,58.4L253.7,58.7L253.0,59.0L252.2,59.3L251.4,59.6L250.7,59.9L249.9,60.1L249.1,60.4L248.3,60.7L247.5,60.4L246.6,60.2L245.7,59.9L244.8,59.7L244.0,59.4L243.1,59.1L242.2,58.9L241.3,58.6L240.5,58.4L239.6,58.1L238.7,57.8L237.8,57.6L237.0,57.3L236.8,56.3L236.5,55.4L236.3,54.4L236.1,53.4L235.8,52.5L235.6,51.5Z" fill-rule="evenodd"/><path id="r35" d="M279.9,44.6L279.2,44.6L278.4,44.6L277.6,44.6L277.4,45.0L277.1,45.4L276.9,46.0L277.0,45.4L277.0,44.8L276.2,44.9L275.5,45.0L274.8,45.1L274.1,45.2L273.4,45.3L273.3,46.1L273.2,46.8L273.1,47.7L273.3,48.0L272.5,48.0L272.0,48.4L271.5,48.8L271.4,48.1L271.4,47.2L270.9,47.0L270.3,46.8L270.0,47.3L269.6,47.7L269.1,48.2L268.7,48.6L269.7,49.6L270.4,50.3L270.9,50.1L271.4,49.8L272.2,50.0L273.1,50.2L272.6,50.8L272.1,51.4L271.8,51.9L271.6,52.5L272.3,53.3L273.0,54.1L273.7,54.9L274.3,55.5L274.9,56.1L275.2,56.5L275.6,57.5L275.6,58.3L275.7,59.1L275.2,59.7L274.8,60.4L274.8,61.0L274.7,61.7L274.2,62.2L273.7,62.6L273.2,63.4L272.7,64.1L272.1,64.3L271.4,64.5L270.7,64.8L270.0,65.0L269.2,65.3L268.6,65.5L268.0,65.8L267.9,66.7L267.5,66.1L267.1,65.5L266.5,65.5L265.9,65.5L265.4,65.9L264.9,66.3L264.7,66.9L264.5,67.5L263.8,67.5L263.1,67.5L262.4,67.5L261.6,67.5L260.9,67.5L260.2,67.5L259.4,67.5L259.3,66.5L259.2,65.6L259.0,64.7L258.9,63.7L258.7,62.8L258.5,61.8L258.3,60.9L258.1,59.9L257.9,59.0L257.7,58.1L257.4,57.1L257.2,56.2L256.9,55.2L256.6,54.3L256.3,53.4L256.0,52.4L255.7,51.5L255.3,50.5L256.1,50.5L256.9,50.5L257.7,50.5L258.5,50.5L259.3,50.5L260.1,50.5L260.9,50.5L261.7,50.5L262.2,49.7L262.6,48.8L263.0,48.0L263.4,47.1L263.8,46.3L264.1,45.4L264.4,44.6L264.8,43.7L265.0,42.9L265.8,42.9L266.6,42.9L267.3,42.9L268.1,42.9L268.9,42.9L269.6,42.9L270.4,42.9L271.2,42.9L271.9,42.9L272.7,42.9L273.5,42.9L274.2,42.9L275.0,42.9L275.8,42.9L276.5,42.9L277.3,42.9L278.1,42.9L278.8,42.9L279.6,42.9L280.3,42.9L280.3,43.3L280.1,44.0ZM268.7,67.4L268.6,67.5L268.1,67.5L267.5,67.5L266.9,67.5L267.3,66.9L268.0,67.1ZM276.0,61.9L276.8,62.2L276.9,63.1L276.9,64.1L276.7,64.6L276.5,65.2L276.1,64.6L275.7,64.1L275.8,63.3L275.9,62.6ZM282.2,56.3L281.8,55.6L281.4,54.9L280.7,54.4L280.6,53.9L281.1,53.8L281.5,53.6L282.5,54.6L282.6,55.3L282.7,56.1ZM284.2,53.2L284.5,53.6L284.0,54.1L283.5,54.6L282.9,54.1L283.0,53.4L283.6,53.3ZM288.1,52.5L287.5,52.9L286.7,52.9L286.0,52.9L285.8,53.4L285.7,53.9L284.5,53.2L283.7,53.2L282.9,53.2L282.2,53.4L281.4,53.5L281.3,53.4L281.7,52.7L282.0,52.0L282.8,51.9L283.5,51.9L284.3,51.8L284.4,51.0L284.6,50.3L285.1,50.0L285.7,49.8L285.9,49.0L286.0,48.1L285.5,47.3L285.0,46.5L285.6,46.4L286.1,46.3L286.8,47.2L287.6,48.1L287.6,48.9L287.6,49.6L288.0,50.5L288.4,51.5L288.8,52.4ZM284.8,44.6L284.4,43.7L283.9,42.9L284.4,42.9L285.3,43.3L285.9,43.4L286.6,43.5L287.2,43.5L288.2,44.4L287.8,44.8L287.5,45.3L287.1,45.7L286.6,45.8L286.0,45.9L285.4,45.9L284.3,45.3L283.9,44.6L284.4,44.6Z" fill-rule="evenodd"/><path id="r36" d="M224.4,61.7L223.7,61.5L223.0,61.4L222.6,60.7L222.2,60.1L221.4,60.4L220.6,60.6L219.8,60.2L219.1,59.8L218.4,59.4L217.7,58.8L217.0,58.1L216.1,57.7L215.2,57.3L216.0,57.3L216.8,57.3L217.6,57.3L218.4,57.3L219.1,57.3L219.9,57.3L220.7,57.3L221.5,57.3L222.3,57.3L223.1,57.3L223.9,57.3L224.6,57.3L224.8,58.2L224.9,59.1L225.0,60.0L225.2,60.9L225.3,61.8ZM214.9,57.8L215.4,58.6L215.9,59.4L216.4,60.2L217.1,61.2L217.5,61.1L218.0,61.1L218.1,61.9L218.3,62.6L219.1,62.8L220.0,63.0L220.6,62.5L221.3,61.9L221.9,61.4L222.1,60.9L222.2,61.8L222.4,62.6L223.0,62.9L223.7,63.2L224.3,63.5L224.9,64.1L224.1,64.7L223.4,65.3L222.6,66.0L221.9,66.6L221.1,67.2L220.4,67.8L219.6,68.5L218.8,69.1L218.1,69.7L217.3,70.3L216.5,70.9L215.7,71.6L215.0,72.2L214.2,72.8L213.4,73.4L212.6,74.0L212.3,74.1L212.0,73.2L211.7,72.3L211.5,71.3L211.4,70.4L210.9,69.4L210.3,68.4L209.7,67.5L209.1,66.5L208.5,65.5L208.1,65.5L207.8,64.7L207.4,63.9L207.1,63.1L206.4,62.2L205.7,61.2L205.0,60.2L204.3,59.2L204.2,58.5L204.2,57.8L204.0,57.8L203.8,58.5L203.7,59.1L203.1,58.2L202.5,57.3L203.3,57.3L204.1,57.3L204.9,57.3L205.7,57.3L206.5,57.3L207.3,57.3L208.1,57.3L208.8,57.3L209.6,57.3L210.4,57.3L211.2,57.3L212.0,57.3L212.8,57.3L213.6,57.3L214.4,57.3L215.2,57.3Z" fill-rule="evenodd"/><path id="r37" d="M253.9,67.2L253.4,66.6L252.8,66.0L252.5,65.3L252.2,64.7L251.7,64.9L251.1,65.1L250.5,65.2L249.9,65.3L249.1,65.4L248.3,65.5L248.3,65.9L247.7,66.6L247.1,67.3L246.5,68.0L245.9,68.8L245.8,68.9L245.6,69.1L245.1,69.8L244.7,70.4L244.0,70.9L243.3,71.3L243.4,72.2L243.4,73.0L243.5,73.8L243.4,74.7L243.3,75.7L242.9,76.4L242.4,77.1L242.0,77.7L241.5,78.5L240.9,77.8L240.4,77.2L240.1,76.4L239.8,75.7L239.5,74.9L239.1,74.1L238.8,73.2L238.5,72.3L238.1,71.6L237.8,70.9L237.4,70.2L237.1,69.4L236.9,68.7L236.6,68.0L236.5,67.0L236.3,66.0L236.1,65.1L235.5,65.5L234.8,66.0L233.9,65.3L233.0,64.6L232.8,64.1L232.6,63.6L232.0,63.1L231.4,62.6L230.8,61.8L230.0,61.8L229.3,61.8L228.6,61.9L227.9,61.9L227.2,61.9L226.5,62.0L225.9,61.9L225.3,61.8L225.2,60.9L225.0,60.0L224.9,59.1L224.8,58.2L224.6,57.3L225.5,57.3L226.3,57.3L227.1,57.3L227.9,57.3L228.8,57.3L229.6,57.3L230.4,57.3L231.2,57.3L232.0,57.3L232.9,57.3L233.7,57.3L234.5,57.3L235.3,57.3L236.1,57.3L237.0,57.3L237.8,57.6L238.7,57.8L239.6,58.1L240.5,58.4L241.3,58.6L242.2,58.9L243.1,59.1L244.0,59.4L244.8,59.7L245.7,59.9L246.6,60.2L247.5,60.4L248.3,60.7L249.1,60.4L249.9,60.1L250.7,59.9L251.4,59.6L252.2,59.3L253.0,59.0L253.7,58.7L254.5,58.4L255.2,58.2L256.0,57.9L256.7,57.6L257.5,57.3L257.7,58.2L257.9,59.2L258.2,60.1L258.4,61.0L258.5,61.9L258.7,62.9L258.9,63.8L259.0,64.7L259.2,65.6L259.3,66.6L259.4,67.5L258.7,67.5L257.9,67.5L257.2,67.5L256.4,67.5L255.7,67.5L254.9,67.5L254.2,67.5Z" fill-rule="evenodd"/><path id="r38" d="M276.8,94.5L277.7,94.5L278.5,94.5L279.4,94.4L280.2,94.3L280.2,94.7L279.3,94.7L278.5,94.8L277.6,94.8L276.8,94.9L275.9,94.9L275.1,94.9L274.2,95.0L273.4,94.7L273.4,94.3L274.0,94.3L274.7,94.3L275.4,94.4L276.1,94.4ZM266.3,92.2L267.0,92.3L267.8,92.4L268.4,92.6L269.0,92.8L269.6,93.0L270.2,93.0L270.8,93.0L271.4,93.0L272.2,93.5L272.9,93.9L272.9,94.8L272.1,94.6L271.4,94.5L270.7,94.4L270.0,94.3L269.2,94.2L268.3,94.0L267.5,93.9L266.8,93.7L266.1,93.5L265.6,93.2L265.1,92.9L265.7,92.5ZM264.4,68.0L264.9,68.7L265.3,69.5L266.0,70.2L266.7,70.9L267.2,71.8L267.6,72.8L268.1,73.8L268.1,74.5L268.2,75.2L267.5,75.7L266.8,76.2L266.1,77.2L265.5,77.6L264.9,78.0L264.7,77.3L264.6,76.5L264.0,76.3L263.4,76.1L262.9,75.3L262.5,74.5L261.7,73.9L261.0,73.3L260.2,73.4L260.1,74.3L259.9,75.3L259.8,76.2L260.3,77.2L260.9,78.1L261.3,78.9L261.8,79.7L262.6,80.3L263.0,81.1L263.4,81.8L263.7,82.5L264.0,83.3L264.2,84.1L264.5,84.9L263.9,85.1L263.2,84.6L262.5,84.1L261.9,83.5L261.6,82.7L261.3,81.9L261.0,81.0L260.4,80.2L259.8,79.4L259.2,78.6L259.2,77.6L259.2,76.7L259.2,75.9L259.1,75.1L259.0,74.3L258.7,73.3L258.4,72.3L258.0,71.3L257.7,70.7L257.5,70.1L256.8,70.6L256.1,71.1L255.6,70.8L255.1,70.6L255.0,69.9L255.0,69.2L255.0,68.4L254.2,67.5L255.0,67.5L255.8,67.5L256.6,67.5L257.4,67.5L258.2,67.5L259.0,67.5L259.8,67.5L260.6,67.5L261.4,67.5L262.2,67.5L263.0,67.5L263.7,67.5L264.5,67.5ZM278.2,87.1L278.8,87.2L279.4,87.3L280.1,87.2L280.8,87.1L280.2,87.6L279.5,88.1L279.8,88.8L280.1,89.4L280.2,90.1L280.3,90.8L279.7,90.9L279.1,90.9L279.0,90.0L278.8,89.1L278.3,89.5L278.3,90.3L278.2,91.0L278.1,91.8L277.2,91.7L277.4,90.7L277.5,89.7L276.9,89.0L277.1,88.3L277.4,87.5L277.6,86.8L277.8,85.9L278.4,85.4L279.1,85.4L279.8,85.4L280.5,85.5L281.4,85.1L282.2,84.8L282.0,85.4L281.7,86.0L281.0,85.9L280.3,85.9L279.6,85.9L278.8,85.9L278.6,86.5ZM262.8,90.2L262.2,89.4L261.7,88.6L261.3,87.8L260.9,87.1L260.5,86.3L260.1,85.5L259.7,84.7L259.1,83.9L258.4,83.2L257.7,82.4L256.9,81.7L256.7,80.9L257.4,81.1L258.0,81.2L258.6,81.3L259.2,82.0L259.7,82.7L260.5,83.4L261.2,84.2L261.7,84.4L262.2,84.6L262.8,85.2L263.5,85.7L264.1,86.3L264.4,86.9L264.7,87.6L265.3,88.5L266.0,89.4L265.9,90.3L265.8,91.1L265.7,92.0L265.1,92.0L264.6,92.1L264.0,91.4L263.4,90.8ZM275.9,83.3L276.3,83.9L276.7,84.6L277.0,85.3L276.5,85.6L275.9,85.9L275.6,86.7L275.2,87.5L275.1,88.3L275.0,89.0L274.9,89.7L274.1,89.9L273.2,90.0L272.4,89.8L271.5,89.6L270.7,89.4L270.1,89.3L269.6,89.2L269.5,88.4L269.4,87.6L269.0,86.9L268.6,86.2L268.6,85.5L268.6,84.9L269.1,84.3L269.7,84.5L270.3,84.6L271.1,83.9L271.9,83.3L272.4,82.6L272.9,81.9L273.5,81.6L274.0,81.3L274.4,80.6L274.8,80.0L275.6,79.9L276.4,80.5L277.2,81.2L276.8,81.6L276.3,82.0L276.1,82.6ZM283.4,79.3L282.9,80.1L282.4,80.9L281.8,80.5L281.2,80.2L280.3,80.0L279.5,79.8L279.5,79.6L280.2,79.0L280.9,78.4L281.6,77.6L282.2,76.9L282.6,77.7L283.0,78.5ZM277.3,75.9L276.6,76.7L275.9,77.4L275.3,78.2L275.1,77.8L275.7,77.1L276.2,76.3L276.8,75.6ZM279.1,75.7L279.1,74.9L279.6,75.3L280.2,75.7L280.4,76.4L280.5,77.2L280.1,77.5L279.8,76.9L279.4,76.2ZM254.7,74.8L254.4,75.0L254.4,74.4L254.5,74.4ZM276.6,70.8L277.0,70.1L276.9,69.3L276.8,68.4L277.6,68.4L278.3,68.4L278.5,69.4L278.7,70.4L278.5,71.1L278.3,71.8L279.2,72.8L279.9,73.3L280.6,73.8L280.2,74.2L279.5,73.6L278.8,73.0L278.2,72.9L277.6,72.9L277.5,72.0L277.1,71.4ZM266.7,67.8L266.9,67.5L267.5,67.5L268.1,67.5L268.6,67.5L268.5,68.1L268.3,68.6L267.6,68.5L266.9,68.4ZM281.9,95.1L282.5,94.9L283.2,94.7L283.9,94.5L283.3,94.9L282.7,95.3L282.1,95.6L281.5,96.0L281.1,96.0ZM301.5,92.9L300.6,93.6L301.0,94.1L301.5,94.6L302.1,95.2L302.7,95.7L303.0,96.0L302.3,96.0L301.7,96.0L301.1,96.0L300.5,95.3L300.0,94.6L299.3,94.2L298.6,93.9L298.0,94.2L297.4,94.6L297.4,95.2L296.8,95.2L296.1,95.2L295.5,95.3L294.7,94.3L294.1,94.3L293.4,94.4L293.6,93.8L293.8,93.1L293.4,92.3L293.0,91.5L292.3,91.2L291.5,90.8L290.7,90.5L290.1,90.3L289.4,90.0L288.8,90.2L288.5,89.7L288.2,89.2L288.8,89.0L289.5,88.8L288.9,88.6L288.4,88.5L287.5,87.8L287.4,87.6L288.0,87.2L288.7,86.7L289.4,87.0L290.1,87.2L290.5,88.0L290.8,88.8L291.2,89.5L292.1,88.7L292.9,87.8L293.6,88.1L294.3,88.4L295.0,88.7L295.9,88.9L296.6,89.2L297.4,89.4L298.1,89.7L298.8,90.0L299.4,90.8L299.9,91.5L300.6,91.8L301.3,92.2ZM302.1,92.3L302.0,91.8L302.6,92.3ZM286.9,89.4L287.1,90.0L286.3,89.9L285.5,89.7L284.8,89.5L284.9,89.1L285.6,89.2L286.2,89.3ZM284.4,85.9L284.4,85.2L284.4,84.6L284.8,84.8L285.3,84.9L284.8,85.6L285.6,86.1L284.7,86.6ZM282.0,76.7L281.6,76.6L281.4,75.8L281.1,75.0L280.8,74.3L281.5,74.3L282.1,74.4L282.1,75.2L282.1,75.9Z" fill-rule="evenodd"/><path id="r39" d="M284.6,100.8L285.2,99.9L285.8,98.9L286.5,98.4L287.3,97.9L288.1,97.5L288.8,97.8L289.4,98.0L290.1,98.2L290.8,98.2L291.6,98.2L291.2,98.8L290.7,99.4L290.4,100.1L290.1,100.9L290.6,101.4L291.2,101.8L291.7,102.3L292.3,102.7L292.8,103.2L293.5,103.2L294.1,103.3L294.5,102.5L294.9,101.7L295.3,100.9L295.4,99.9L295.5,98.9L295.9,98.2L296.2,97.4L296.6,96.7L296.9,97.3L297.1,97.9L297.2,98.6L297.2,99.4L297.2,100.1L297.8,100.4L298.4,100.8L298.5,101.7L298.6,102.7L298.5,103.7L298.5,104.6L299.1,105.2L299.8,105.7L299.0,105.7L298.2,105.7L297.4,105.7L296.5,105.7L295.7,105.7L294.9,105.7L294.1,105.7L293.3,105.7L292.5,105.7L291.6,105.7L290.8,105.7L290.0,105.7L289.2,105.7L288.4,105.7L287.6,105.7L286.7,105.7L285.9,105.7L285.1,105.7L284.3,105.7L283.5,105.7L282.7,105.7L281.9,105.7L281.0,105.7L280.2,105.7L279.4,105.7L278.6,105.7L277.8,105.7L277.0,105.7L276.1,105.7L275.3,105.7L276.2,105.5L277.1,105.2L277.8,104.3L278.5,103.3L279.1,103.2L279.6,103.1L280.1,102.2L280.7,101.4L281.4,100.7L282.2,100.0L282.9,100.1L283.7,100.2L284.1,100.5ZM280.9,96.2L281.1,96.0L281.5,96.0L281.3,96.2ZM303.4,96.5L302.7,96.4L302.0,96.4L301.3,96.3L301.1,96.0L301.7,96.0L302.3,96.0L303.0,96.0Z" fill-rule="evenodd"/><path id="r40" d="M270.0,114.4L269.9,113.6L269.7,112.8L269.6,112.0L269.7,111.0L269.8,110.1L270.2,109.3L270.5,108.6L270.4,107.6L270.9,107.4L271.7,107.1L272.5,106.7L273.3,106.3L274.0,106.1L274.7,105.9L275.3,105.7L276.2,105.7L277.0,105.7L277.9,105.7L278.7,105.7L279.5,105.7L280.4,105.7L281.2,105.7L282.1,105.7L282.9,105.7L283.7,105.7L284.6,105.7L285.4,105.7L286.2,105.7L287.1,105.7L287.9,105.7L288.8,105.7L289.6,105.7L290.4,105.7L291.3,105.7L292.1,105.7L293.0,105.7L293.8,105.7L294.6,105.7L295.5,105.7L296.3,105.7L297.2,105.7L297.0,106.7L296.7,107.6L296.5,108.6L296.3,109.6L296.0,110.5L295.7,111.5L295.4,112.5L295.1,113.5L294.8,114.4L294.4,115.4L293.6,115.4L292.8,115.4L292.0,115.4L291.1,115.4L290.3,115.4L289.5,115.4L288.7,115.4L287.8,115.4L287.0,115.4L286.2,115.4L285.4,115.4L284.6,115.4L283.7,115.4L282.9,115.4L282.1,115.4L281.3,115.4L280.5,115.4L279.6,115.4L278.8,115.4L278.0,115.4L277.2,115.4L276.4,115.4L275.5,115.4L274.7,115.4L273.9,115.4L273.1,115.4L272.3,115.4L271.4,115.4L270.6,115.4L269.8,115.4Z" fill-rule="evenodd"/><path id="r41" d="M300.3,106.1L300.6,106.9L300.9,107.7L301.5,108.2L301.6,108.9L301.7,109.6L302.2,110.2L302.7,110.8L302.5,111.7L302.3,112.6L302.1,113.5L301.7,114.3L301.3,115.1L300.9,115.9L300.2,116.8L299.6,117.7L298.7,118.4L297.8,119.2L297.1,119.9L296.7,119.1L296.3,118.4L295.8,117.6L295.4,116.9L294.9,116.1L294.4,115.4L294.8,114.4L295.1,113.5L295.4,112.5L295.7,111.5L296.0,110.5L296.3,109.6L296.5,108.6L296.7,107.6L297.0,106.7L297.2,105.7L297.8,105.7L298.5,105.7L299.1,105.7L299.8,105.7Z" fill-rule="evenodd"/><path id="r42" d="M288.2,128.5L288.3,127.8L288.5,127.2L288.7,126.4L288.9,125.7L289.6,125.8L290.3,125.8L291.0,125.9L291.7,125.9L291.3,126.5L290.8,127.2L290.1,127.7L289.4,128.2L288.8,128.4ZM296.1,120.9L295.5,121.8L294.9,122.6L294.1,122.8L293.3,122.9L292.2,123.6L291.2,124.2L290.7,123.7L290.3,123.3L289.6,123.4L288.9,123.4L288.2,123.5L287.6,123.1L287.0,122.6L287.2,121.8L287.3,121.0L286.8,120.8L286.9,120.1L287.1,119.5L286.1,120.4L285.5,120.5L286.1,119.8L286.7,119.0L287.3,118.3L286.3,119.1L285.7,119.5L285.0,120.0L284.9,119.5L284.8,119.0L284.4,118.0L283.9,117.6L283.3,117.2L282.8,116.8L282.0,117.0L281.2,117.2L280.5,117.3L279.7,117.5L278.8,117.7L277.9,118.0L277.0,118.2L276.2,118.7L275.4,119.2L274.7,119.2L273.9,119.2L273.2,119.2L272.5,119.3L271.5,119.7L270.5,120.2L269.7,120.2L268.9,120.2L268.3,119.5L269.3,118.6L269.5,117.9L269.8,117.1L269.8,116.3L269.8,115.4L270.6,115.4L271.4,115.4L272.3,115.4L273.1,115.4L273.9,115.4L274.7,115.4L275.5,115.4L276.4,115.4L277.2,115.4L278.0,115.4L278.8,115.4L279.6,115.4L280.5,115.4L281.3,115.4L282.1,115.4L282.9,115.4L283.7,115.4L284.6,115.4L285.4,115.4L286.2,115.4L287.0,115.4L287.8,115.4L288.7,115.4L289.5,115.4L290.3,115.4L291.1,115.4L292.0,115.4L292.8,115.4L293.6,115.4L294.4,115.4L294.9,116.1L295.4,116.9L295.8,117.6L296.3,118.4L296.7,119.1L297.1,119.9L296.6,120.4Z" fill-rule="evenodd"/><path id="r43" d="M307.6,127.9L308.4,127.4L309.3,126.8L310.4,125.8L311.1,125.5L311.3,126.1L311.5,126.7L310.8,127.2L310.1,127.7L308.7,128.7L307.8,129.0L307.0,129.4L306.2,130.0L305.4,130.7L304.5,131.0L303.6,131.4L303.1,131.2L302.6,131.0L302.1,130.9L302.8,130.1L303.9,129.5L305.0,128.9L305.9,128.6L306.7,128.2ZM313.2,125.3L313.1,124.9L313.0,124.4L313.7,123.7L314.4,123.1L314.6,122.5L314.8,122.0L314.8,121.2L314.7,120.4L314.9,119.6L315.3,120.1L315.7,120.5L315.8,121.1L316.0,121.7L315.8,122.4L316.0,122.7L316.3,123.0L316.9,122.9L317.6,122.8L316.9,123.6L316.1,124.3L315.1,124.7L314.1,125.5L313.1,126.3L312.7,126.3L312.2,126.3Z" fill-rule="evenodd"/><path id="RO" d="M97.5,38.1L96.1,38.1L94.6,38.1L93.2,38.1L91.8,38.1L90.4,38.1L88.9,38.1L87.5,38.1L86.1,38.1L84.6,38.1L83.2,38.1L81.8,38.1L80.4,38.1L78.9,38.1L78.4,37.1L77.8,36.0L77.4,35.0L76.9,33.9L76.6,32.9L76.2,31.8L75.9,30.8L74.2,31.2L72.5,31.6L70.8,31.9L69.0,32.3L67.3,32.7L65.5,33.1L63.7,33.5L62.0,33.9L60.2,34.3L58.4,34.6L56.6,35.0L54.8,35.4L53.0,35.8L54.8,34.1L56.6,32.5L58.5,30.8L60.5,29.2L62.5,27.6L64.5,26.0L66.6,24.4L68.7,22.9L70.9,21.4L73.1,19.9L75.5,18.4L76.6,18.4L77.8,18.4L79.0,18.4L80.1,18.4L81.3,18.4L82.5,18.4L83.7,18.4L84.8,18.4L86.0,18.4L87.2,18.4L88.3,18.4L89.5,18.4L90.7,18.4L91.8,18.4L93.0,18.4L94.2,18.4L95.4,18.4L96.5,18.4L97.7,18.4L98.9,18.4L100.0,18.4L101.2,18.4L102.4,18.4L103.6,18.4L104.7,18.4L105.9,18.4L107.1,18.4L108.2,18.4L109.4,18.4L110.6,18.4L111.8,18.4L112.9,18.4L111.4,19.9L110.0,21.5L108.6,23.0L107.2,24.6L105.9,26.2L104.6,27.9L103.3,29.5L102.1,31.2L100.8,32.9L99.7,34.6L98.6,36.4ZM138.3,38.1L136.8,38.1L135.4,38.1L133.9,38.1L132.5,38.1L131.0,38.1L129.6,38.1L128.1,38.1L126.6,38.1L125.2,38.1L123.7,38.1L122.3,38.1L120.8,38.1L119.3,38.1L117.9,38.1L116.4,38.1L115.0,38.1L113.5,38.1L112.1,38.1L110.6,38.1L109.1,38.1L107.7,38.1L106.2,38.1L104.8,38.1L103.3,38.1L101.9,38.1L100.4,38.1L98.9,38.1L97.5,38.1L98.6,36.4L99.7,34.6L100.8,32.9L102.1,31.2L103.3,29.5L104.6,27.9L105.9,26.2L107.2,24.6L108.6,23.0L110.0,21.5L111.4,19.9L112.9,18.4L111.8,18.4L110.6,18.4L109.5,18.4L108.4,18.4L107.2,18.4L106.1,18.4L104.9,18.4L103.8,18.4L102.6,18.4L101.5,18.4L100.3,18.4L99.2,18.4L98.1,18.4L100.2,17.6L102.4,16.7L104.5,15.8L105.8,15.7L107.0,15.6L108.3,15.5L109.5,15.4L110.8,15.3L112.0,15.2L113.2,15.1L114.4,14.9L115.7,14.8L116.9,14.7L118.1,14.6L119.3,14.5L120.5,14.4L121.8,14.2L123.1,14.1L124.3,13.9L125.6,13.8L126.9,13.6L128.1,13.5L129.4,13.3L130.6,13.2L131.8,13.0L132.9,13.0L134.0,13.0L135.0,13.0L136.1,13.0L136.2,13.9L136.4,14.9L136.6,15.8L136.8,16.9L137.2,17.9L137.6,18.9L138.0,20.3L138.4,21.7L138.9,23.2L139.4,24.7L139.7,26.2L139.9,27.7L140.3,29.2L140.6,30.8L140.0,32.6L139.4,34.4L138.8,36.3ZM78.9,38.1L78.4,39.8L77.9,41.5L77.5,43.2L77.1,45.0L76.8,46.7L76.5,48.4L76.3,50.2L76.2,51.9L76.2,53.6L77.8,53.6L79.3,53.6L80.9,53.6L82.5,53.6L84.1,53.6L85.6,53.6L87.2,53.6L88.8,53.6L90.4,53.6L91.0,51.9L91.6,50.2L92.3,48.4L93.1,46.7L93.9,45.0L94.8,43.2L95.6,41.5L96.5,39.8L97.5,38.1L96.1,38.1L94.6,38.1L93.2,38.1L91.8,38.1L90.4,38.1L88.9,38.1L87.5,38.1L86.1,38.1L84.6,38.1L83.2,38.1L81.8,38.1L80.4,38.1ZM97.5,38.1L96.5,39.8L95.6,41.5L94.8,43.2L93.9,45.0L93.1,46.7L92.3,48.4L91.6,50.2L91.0,51.9L90.4,53.6L91.5,54.7L92.7,55.8L94.0,56.8L95.2,57.9L96.5,59.0L97.8,60.0L99.2,61.1L100.5,62.2L100.9,60.3L101.3,58.4L101.7,56.6L102.2,54.7L102.7,52.8L103.3,51.0L103.9,49.1L104.6,47.3L105.4,45.4L106.1,43.6L106.9,41.8L107.7,40.0L108.6,38.1L107.2,38.1L105.8,38.1L104.4,38.1L103.1,38.1L101.7,38.1L100.3,38.1L98.9,38.1ZM108.6,38.1L107.7,40.0L106.9,41.8L106.1,43.6L105.4,45.4L104.6,47.3L103.9,49.1L103.3,51.0L102.7,52.8L102.2,54.7L101.7,56.6L101.3,58.4L100.9,60.3L100.5,62.2L102.2,62.2L103.9,62.2L105.5,62.2L107.2,62.2L108.8,62.2L110.5,62.2L112.2,62.2L113.8,62.2L115.5,62.2L117.2,62.2L115.9,60.7L114.7,59.2L113.5,57.8L112.4,56.3L114.3,55.0L116.1,53.7L118.0,52.4L119.9,51.1L121.8,49.8L123.6,48.5L125.5,47.2L127.4,45.9L129.2,44.6L131.1,43.3L132.9,42.0L134.7,40.7L136.5,39.4L138.3,38.1L136.8,38.1L135.3,38.1L133.8,38.1L132.4,38.1L130.9,38.1L129.4,38.1L127.9,38.1L126.4,38.1L124.9,38.1L123.5,38.1L122.0,38.1L120.5,38.1L119.0,38.1L117.5,38.1L116.0,38.1L114.6,38.1L113.1,38.1L111.6,38.1L110.1,38.1ZM100.5,62.2L98.8,63.2L97.2,64.3L95.5,65.4L93.8,66.5L92.1,67.6L90.4,68.7L88.8,69.8L87.1,70.9L85.7,68.9L84.3,67.0L82.9,65.1L81.6,63.2L80.3,61.3L79.2,59.4L78.1,57.5L77.1,55.5L76.2,53.6L77.8,53.6L79.3,53.6L80.9,53.6L82.5,53.6L84.1,53.6L85.6,53.6L87.2,53.6L88.8,53.6L90.4,53.6L91.5,54.7L92.7,55.8L94.0,56.8L95.2,57.9L96.5,59.0L97.8,60.0L99.2,61.1ZM111.7,74.7L110.1,76.6L108.6,78.5L107.1,80.4L105.6,82.3L104.1,84.2L102.5,83.0L100.9,81.8L99.3,80.6L97.7,79.4L96.2,78.1L94.6,76.9L93.1,75.7L91.5,74.5L90.0,73.3L88.5,72.1L87.1,70.9L88.8,69.8L90.4,68.7L92.1,67.6L93.8,66.5L95.5,65.4L97.2,64.3L98.8,63.2L100.5,62.2L101.8,63.7L103.2,65.3L104.6,66.9L105.9,68.4L107.3,70.0L108.8,71.6L110.2,73.2ZM111.7,74.7L110.2,73.2L108.8,71.6L107.3,70.0L105.9,68.4L104.6,66.9L103.2,65.3L101.8,63.7L100.5,62.2L102.2,62.2L103.9,62.2L105.5,62.2L107.2,62.2L108.8,62.2L110.5,62.2L112.2,62.2L113.8,62.2L115.5,62.2L117.2,62.2L118.5,63.7L119.9,65.3L121.4,66.9L122.8,68.4L124.2,70.0L125.7,71.6L127.2,73.2L128.7,74.7L127.0,74.7L125.3,74.7L123.6,74.7L121.9,74.7L120.2,74.7L118.5,74.7L116.8,74.7L115.1,74.7L113.4,74.7ZM111.7,74.7L110.1,76.6L108.6,78.5L107.1,80.4L105.6,82.3L104.1,84.2L104.1,85.9L104.1,87.6L104.1,89.3L104.2,91.0L104.2,92.7L104.3,94.3L104.4,96.0L105.8,97.6L107.1,99.3L108.5,100.9L110.0,100.9L111.5,100.9L113.0,100.9L114.5,100.9L114.3,99.0L114.2,97.1L114.1,95.3L114.0,93.4L113.9,91.5L113.9,89.7L113.9,87.8L113.8,85.9L113.9,84.1L113.9,82.2L114.0,80.3L114.0,78.5L114.1,76.6L114.2,74.7L113.0,74.7ZM114.2,74.7L114.1,76.7L114.0,78.6L114.0,80.5L113.9,82.5L113.9,84.4L113.8,86.3L113.9,88.3L113.9,90.2L114.0,92.2L114.0,94.1L115.7,94.1L117.4,94.1L119.1,94.1L120.8,94.1L122.6,94.1L124.3,94.1L126.0,94.1L127.7,94.1L129.4,94.1L131.1,94.1L132.8,94.1L132.7,92.2L132.7,90.3L132.7,88.4L132.7,86.5L132.7,84.7L132.7,82.8L132.7,80.9L132.8,79.0L131.4,77.6L130.0,76.2L128.7,74.7L127.1,74.7L125.5,74.7L123.9,74.7L122.3,74.7L120.7,74.7L119.1,74.7L117.4,74.7L115.8,74.7ZM146.8,105.7L145.2,105.7L143.5,105.7L141.8,105.7L140.1,105.7L138.5,105.7L136.8,105.7L135.1,105.7L133.4,105.7L133.3,103.8L133.1,101.8L133.0,99.9L132.9,98.0L132.8,96.0L132.8,94.1L132.7,92.2L132.7,90.2L132.7,88.3L132.7,86.3L134.4,86.3L136.1,86.3L137.8,86.3L139.5,86.3L141.2,86.3L142.9,86.3L144.6,86.3L146.3,86.3L146.3,88.3L146.4,90.2L146.4,92.2L146.4,94.1L146.5,96.0L146.5,98.0L146.6,99.9L146.7,101.8L146.8,103.8ZM114.0,94.1L115.7,94.1L117.4,94.1L119.1,94.1L120.8,94.1L122.6,94.1L124.3,94.1L126.0,94.1L127.7,94.1L129.4,94.1L131.1,94.1L132.8,94.1L132.8,96.0L132.9,98.0L133.0,99.9L133.1,101.8L133.3,103.8L133.4,105.7L131.9,105.7L130.4,105.7L128.8,105.7L127.3,105.7L125.8,105.7L124.2,105.7L122.7,105.7L121.2,105.7L119.6,105.7L117.9,104.1L116.2,102.5L114.5,100.9L114.3,99.2L114.2,97.5L114.1,95.8ZM108.5,100.9L110.0,100.9L111.5,100.9L113.0,100.9L114.5,100.9L116.2,102.5L117.9,104.1L119.6,105.7L119.5,107.6L119.4,109.6L119.3,111.5L119.3,113.5L119.3,115.4L119.4,117.3L119.5,119.3L119.7,121.2L119.9,123.1L120.1,125.0L120.5,126.8L120.9,128.6L121.3,130.4L121.8,132.1L122.3,133.9L122.8,135.6L123.4,137.3L124.0,139.0L124.7,140.7L123.3,140.7L121.9,140.7L120.5,140.7L119.1,140.7L118.5,138.9L118.0,137.1L117.5,135.3L117.1,133.5L116.7,131.6L116.4,129.8L116.1,127.9L115.8,126.0L115.0,124.1L114.3,122.2L113.6,120.2L112.9,118.3L112.3,116.4L111.7,114.4L111.1,112.5L110.6,110.5L110.2,108.6L109.8,106.7L109.3,104.7L108.9,102.8ZM146.8,105.7L145.4,107.3L143.9,108.9L142.5,110.5L141.1,112.2L139.7,113.8L138.3,115.4L137.0,117.0L135.8,118.6L134.5,120.2L133.3,121.8L132.2,123.4L131.0,125.0L129.5,125.0L127.9,125.0L126.3,125.0L124.8,125.0L123.2,125.0L121.7,125.0L120.1,125.0L119.9,123.1L119.7,121.2L119.5,119.3L119.4,117.3L119.3,115.4L119.3,113.5L119.3,111.5L119.4,109.6L119.5,107.6L119.6,105.7L121.2,105.7L122.8,105.7L124.4,105.7L126.0,105.7L127.6,105.7L129.2,105.7L130.8,105.7L132.4,105.7L134.0,105.7L135.6,105.7L137.2,105.7L138.8,105.7L140.4,105.7L142.0,105.7L143.6,105.7L145.2,105.7ZM131.0,125.0L129.5,125.0L127.9,125.0L126.3,125.0L124.8,125.0L123.2,125.0L121.7,125.0L120.1,125.0L120.5,126.8L120.9,128.6L121.3,130.4L121.8,132.1L122.3,133.9L122.8,135.6L123.4,137.3L124.0,139.0L124.7,140.7L126.1,140.7L127.4,140.7L128.8,140.7L130.2,140.7L131.6,140.7L133.0,140.7L134.4,140.7L135.8,140.7L135.2,139.0L134.5,137.3L134.0,135.6L133.4,133.9L132.9,132.1L132.4,130.4L131.9,128.6L131.5,126.8ZM167.9,40.0L168.0,38.2L168.1,36.5L168.2,34.7L168.3,33.0L168.4,31.3L168.5,29.6L168.7,27.9L168.8,26.3L168.9,24.6L169.0,23.0L169.2,21.5L169.3,19.9L169.5,18.4L170.6,18.4L171.8,18.4L173.0,18.4L174.2,18.4L175.4,18.4L176.6,18.4L177.8,18.4L179.0,18.4L180.2,18.4L181.3,18.4L182.5,18.4L183.7,18.4L184.9,18.4L186.1,18.4L187.3,18.4L188.5,18.4L189.7,18.4L190.9,18.4L192.1,18.4L193.2,18.4L194.4,18.4L195.6,18.4L196.8,18.4L198.0,18.4L199.2,18.4L199.8,19.9L200.3,21.5L200.8,23.0L201.4,24.6L201.9,26.2L202.4,27.9L201.2,28.3L199.9,28.8L198.7,29.3L197.4,29.7L196.1,30.2L194.9,30.7L193.6,31.2L192.2,31.7L190.9,32.1L189.6,32.6L188.2,33.1L186.8,33.6L185.4,34.1L184.0,34.6L182.6,35.1L181.2,35.5L179.8,36.0L178.3,36.5L176.9,37.0L175.4,37.5L173.9,38.0L172.4,38.5L170.9,39.0L169.4,39.5ZM167.7,42.9L167.8,41.4L167.9,40.0L169.4,39.5L170.9,39.0L172.4,38.5L173.9,38.0L175.4,37.5L176.9,37.0L178.3,36.5L179.8,36.0L181.2,35.5L182.6,35.1L184.0,34.6L185.4,34.1L186.8,33.6L188.2,33.1L189.6,32.6L190.9,32.1L192.2,31.7L193.6,31.2L194.9,30.7L196.1,30.2L197.4,29.7L198.7,29.3L199.9,28.8L201.2,28.3L202.4,27.9L202.8,29.5L203.3,31.1L203.7,32.7L204.2,34.4L204.6,36.1L205.0,37.7L205.4,39.4L205.7,41.1L206.0,42.9L204.5,42.9L203.0,42.9L201.5,42.9L199.9,42.9L198.4,42.9L196.9,42.9L195.3,42.9L193.8,42.9L192.3,42.9L190.7,42.9L189.2,42.9L187.7,42.9L186.1,42.9L184.6,42.9L183.1,42.9L181.5,42.9L180.0,42.9L178.5,42.9L176.9,42.9L175.4,42.9L173.9,42.9L172.3,42.9L170.8,42.9L169.3,42.9ZM206.0,42.9L205.7,41.0L205.3,39.1L204.9,37.2L204.4,35.4L204.0,33.5L203.5,31.7L203.0,29.9L202.5,28.1L201.9,26.4L201.4,24.7L202.7,24.7L204.0,24.7L205.3,24.7L206.6,24.7L207.9,24.7L209.2,24.7L210.5,24.7L211.8,24.7L213.1,24.7L214.4,24.7L215.2,26.4L216.0,28.1L216.8,29.9L217.5,31.7L218.2,33.5L218.9,35.4L219.6,37.2L220.2,39.1L220.8,41.0L221.4,42.9L219.8,42.9L218.3,42.9L216.8,42.9L215.2,42.9L213.7,42.9L212.2,42.9L210.6,42.9L209.1,42.9L207.6,42.9ZM167.2,57.3L167.2,55.5L167.3,53.7L167.4,51.9L167.4,50.1L167.5,48.3L167.6,46.4L167.7,44.7L167.7,42.9L169.3,42.9L170.8,42.9L172.3,42.9L173.9,42.9L175.4,42.9L176.9,42.9L178.5,42.9L180.0,42.9L181.5,42.9L183.1,42.9L184.6,42.9L186.1,42.9L187.7,42.9L189.2,42.9L190.7,42.9L192.3,42.9L193.8,42.9L195.3,42.9L196.9,42.9L198.4,42.9L199.9,42.9L201.5,42.9L203.0,42.9L204.5,42.9L206.0,42.9L206.4,44.7L206.7,46.4L207.0,48.3L207.3,50.1L207.6,51.9L207.8,53.7L208.0,55.5L208.2,57.3L206.6,57.3L204.9,57.3L203.3,57.3L201.7,57.3L200.0,57.3L198.4,57.3L196.7,57.3L195.1,57.3L193.5,57.3L191.8,57.3L190.2,57.3L188.5,57.3L186.9,57.3L185.2,57.3L183.6,57.3L182.0,57.3L180.3,57.3L178.7,57.3L177.0,57.3L175.4,57.3L173.8,57.3L172.1,57.3L170.5,57.3L168.8,57.3ZM158.5,72.1L158.5,70.3L158.6,68.4L158.6,66.6L158.7,64.7L158.7,62.9L158.8,61.0L158.9,59.2L159.0,57.3L160.6,57.3L162.2,57.3L163.8,57.3L165.4,57.3L167.0,57.3L168.7,57.3L170.3,57.3L171.9,57.3L173.5,57.3L175.1,57.3L176.7,57.3L178.3,57.3L179.9,57.3L181.5,57.3L183.2,57.3L184.8,57.3L186.4,57.3L188.0,57.3L189.6,57.3L191.2,57.3L192.8,57.3L194.4,57.3L196.0,57.3L197.7,57.3L199.3,57.3L200.9,57.3L202.5,57.3L203.4,58.8L204.4,60.2L205.4,62.0L206.4,63.7L207.4,65.5L208.4,67.2L209.4,69.0L210.4,70.7L211.4,72.5L212.3,74.3L210.7,74.1L209.1,74.0L207.5,73.8L205.9,73.7L204.2,73.5L202.6,73.4L201.0,73.3L199.4,73.1L197.8,73.0L196.2,72.8L194.6,72.7L192.9,72.5L191.3,72.4L189.7,72.3L188.1,72.1L186.5,72.1L184.8,72.1L183.2,72.1L181.5,72.1L179.9,72.1L178.2,72.1L176.6,72.1L174.9,72.1L173.3,72.1L171.6,72.1L170.0,72.1L168.3,72.1L166.7,72.1L165.1,72.1L163.4,72.1L161.8,72.1L160.1,72.1ZM158.5,72.1L158.4,73.8L158.4,75.6L158.4,77.3L158.3,79.0L160.0,79.6L161.7,80.3L163.5,80.9L165.2,81.5L166.9,82.1L168.6,82.8L170.3,83.4L172.0,84.0L173.7,84.7L175.4,85.3L177.1,85.9L178.8,86.5L180.5,87.2L182.2,87.8L182.9,86.1L183.6,84.3L184.2,82.6L184.9,80.8L185.5,79.1L186.2,77.3L186.8,75.6L187.5,73.9L188.1,72.1L186.5,72.1L184.8,72.1L183.2,72.1L181.5,72.1L179.9,72.1L178.2,72.1L176.6,72.1L174.9,72.1L173.3,72.1L171.6,72.1L170.0,72.1L168.3,72.1L166.7,72.1L165.1,72.1L163.4,72.1L161.8,72.1L160.1,72.1ZM182.2,96.0L182.2,94.4L182.2,92.7L182.2,91.1L182.2,89.4L182.2,87.8L182.9,86.1L183.6,84.3L184.2,82.6L184.9,80.8L185.5,79.1L186.2,77.3L186.8,75.6L187.5,73.9L188.1,72.1L189.8,72.1L191.5,72.1L193.2,72.1L194.9,72.1L196.6,72.1L198.3,72.1L198.3,74.0L198.4,75.8L198.4,77.6L198.4,79.5L198.5,81.3L198.5,83.2L198.5,85.0L198.5,86.8L198.5,88.7L198.5,90.5L198.4,92.4L198.4,94.2L198.4,96.0L196.8,96.0L195.1,96.0L193.5,96.0L191.9,96.0L190.3,96.0L188.7,96.0L187.1,96.0L185.4,96.0L183.8,96.0ZM198.3,72.1L199.8,72.4L201.4,72.6L202.9,72.8L204.5,73.1L206.1,73.3L207.6,73.5L209.2,73.8L210.8,74.0L212.3,74.3L213.8,73.8L215.2,73.3L216.6,72.8L218.0,72.3L219.4,71.8L219.5,73.6L219.6,75.4L219.7,77.2L219.7,79.0L219.8,80.8L219.8,82.6L219.8,84.4L218.2,84.4L216.6,84.4L214.9,84.4L213.3,84.4L211.6,84.4L210.0,84.4L208.3,84.4L206.7,84.4L205.1,84.4L203.4,84.4L201.8,84.4L200.1,84.4L198.5,84.4L198.5,82.7L198.4,80.9L198.4,79.1L198.4,77.4L198.4,75.6L198.3,73.9ZM198.5,84.4L200.1,84.4L201.8,84.4L203.4,84.4L205.1,84.4L206.7,84.4L208.3,84.4L210.0,84.4L211.6,84.4L213.3,84.4L214.9,84.4L216.6,84.4L218.2,84.4L219.8,84.4L218.8,86.3L217.7,88.3L216.6,90.2L215.5,92.2L213.8,94.1L212.0,96.0L210.3,96.0L208.6,96.0L206.9,96.0L205.2,96.0L203.5,96.0L201.8,96.0L200.1,96.0L198.4,96.0L198.4,94.1L198.4,92.2L198.5,90.2L198.5,88.3L198.5,86.3ZM182.2,96.0L183.8,96.0L185.4,96.0L187.0,96.0L188.6,96.0L190.2,96.0L191.9,96.0L193.5,96.0L195.1,96.0L196.7,96.0L196.6,98.0L196.6,99.9L196.5,101.8L196.5,103.8L196.4,105.7L196.3,107.6L196.2,109.6L196.1,111.5L196.0,113.5L195.9,115.4L195.8,117.3L195.6,119.3L195.5,121.2L194.0,121.2L192.4,121.2L190.9,121.2L189.4,121.2L187.9,121.2L186.4,121.2L184.9,121.2L183.3,121.2L181.8,121.2L181.9,119.3L181.9,117.3L182.0,115.4L182.0,113.5L182.0,111.5L182.1,109.6L182.1,107.6L182.1,105.7L182.1,103.8L182.2,101.8L182.2,99.9L182.2,98.0ZM196.7,96.0L198.4,96.0L200.1,96.0L201.8,96.0L203.5,96.0L205.2,96.0L206.9,96.0L208.6,96.0L210.3,96.0L212.0,96.0L211.3,98.0L210.5,99.9L209.8,101.8L209.0,103.8L208.2,105.7L207.5,107.6L206.7,109.6L205.9,111.5L205.1,113.5L203.9,115.4L202.7,117.3L201.5,119.3L200.3,121.2L198.7,121.2L197.1,121.2L195.5,121.2L195.6,119.3L195.8,117.3L195.9,115.4L196.0,113.5L196.1,111.5L196.2,109.6L196.3,107.6L196.4,105.7L196.5,103.8L196.5,101.8L196.6,99.9L196.6,98.0ZM212.4,97.0L213.9,97.0L215.4,97.0L216.9,97.0L218.3,97.0L219.8,97.0L221.3,97.0L221.2,98.8L221.1,100.7L221.0,102.5L220.9,104.3L220.7,106.1L220.6,108.0L220.4,109.8L220.2,111.6L220.0,113.5L218.4,113.5L216.8,113.5L215.2,113.5L213.6,113.5L212.0,113.5L210.4,113.5L208.7,113.5L207.1,113.5L205.5,113.5L206.3,111.6L207.1,109.8L207.9,108.0L208.6,106.1L209.4,104.3L210.2,102.5L210.9,100.7L211.7,98.8ZM201.4,24.7L200.9,23.1L200.3,21.5L199.8,19.9L199.2,18.4L200.2,18.0L201.2,17.6L202.2,17.2L203.1,16.8L204.1,16.4L205.0,16.0L205.8,15.6L206.7,15.2L207.5,14.8L208.4,14.4L209.3,14.2L210.2,14.0L211.2,13.8L212.1,13.6L213.0,13.4L213.9,13.2L214.7,13.1L215.6,12.9L216.5,12.7L217.3,12.5L218.2,12.3L219.0,12.2L219.9,12.0L220.7,11.8L221.5,11.7L222.3,11.5L223.1,11.4L223.9,11.2L225.1,11.3L226.3,11.5L227.5,11.6L228.7,11.8L229.9,11.9L231.2,12.0L232.4,12.2L233.7,12.3L234.9,12.5L236.2,12.6L237.5,12.8L238.8,12.9L240.1,13.1L241.4,13.3L242.7,13.4L244.0,13.6L245.3,13.8L246.7,13.9L248.0,14.1L249.4,14.3L250.8,14.4L252.2,14.6L253.5,14.8L254.9,14.9L256.3,15.1L257.8,15.3L259.3,15.6L260.8,15.8L262.3,16.0L263.8,16.2L265.4,16.5L266.9,16.7L268.4,16.9L269.9,17.2L271.5,17.4L273.0,17.6L274.6,17.9L276.1,18.1L277.7,18.4L279.3,18.6L280.8,18.8L282.4,19.1L284.0,19.3L286.2,20.6L288.3,21.9L290.3,23.3L292.3,24.7L291.0,24.7L289.7,24.7L288.4,24.7L287.1,24.7L285.8,24.7L284.5,24.7L283.2,24.7L281.9,24.7L280.6,24.7L279.3,24.7L278.0,24.7L276.7,24.7L275.4,24.7L274.1,24.7L272.8,24.7L271.5,24.7L270.2,24.7L268.9,24.7L267.6,24.7L266.3,24.7L265.0,24.7L263.7,24.7L262.4,24.7L261.1,24.7L259.8,24.7L258.5,24.7L257.2,24.7L255.9,24.7L254.6,24.7L253.3,24.7L252.0,24.7L250.7,24.7L249.4,24.7L248.1,24.7L246.8,24.7L245.5,24.7L244.3,24.7L243.0,24.7L241.7,24.7L240.4,24.7L239.1,24.7L237.8,24.7L236.5,24.7L235.2,24.7L233.9,24.7L232.6,24.7L231.3,24.7L230.0,24.7L228.7,24.7L227.4,24.7L226.1,24.7L224.8,24.7L223.5,24.7L222.2,24.7L220.9,24.7L219.6,24.7L218.3,24.7L217.0,24.7L215.7,24.7L214.4,24.7L213.1,24.7L211.8,24.7L210.5,24.7L209.2,24.7L207.9,24.7L206.6,24.7L205.3,24.7L204.0,24.7L202.7,24.7ZM221.4,42.9L220.8,41.0L220.2,39.1L219.6,37.2L218.9,35.4L218.2,33.5L217.5,31.7L216.8,29.9L216.0,28.1L215.2,26.4L214.4,24.7L215.7,24.7L217.0,24.7L218.3,24.7L219.6,24.7L220.9,24.7L222.2,24.7L223.5,24.7L224.8,24.7L226.1,24.7L227.4,24.7L228.7,24.7L230.0,24.7L231.3,24.7L232.6,24.7L233.9,24.7L235.1,26.4L236.3,28.1L237.4,29.9L238.6,31.7L239.7,33.5L240.7,35.4L241.7,37.2L242.6,39.1L243.5,41.0L244.4,42.9L242.8,42.9L241.3,42.9L239.8,42.9L238.2,42.9L236.7,42.9L235.2,42.9L233.6,42.9L232.1,42.9L230.6,42.9L229.0,42.9L227.5,42.9L226.0,42.9L224.4,42.9L222.9,42.9ZM244.4,42.9L243.5,41.0L242.6,39.1L241.7,37.2L240.7,35.4L239.7,33.5L238.6,31.7L237.4,29.9L236.3,28.1L235.1,26.4L233.9,24.7L235.1,24.7L236.4,24.7L237.7,24.7L238.9,24.7L240.2,24.7L241.5,24.7L242.7,24.7L244.0,24.7L245.3,24.7L246.5,24.7L247.8,24.7L249.1,24.7L250.3,24.7L251.6,24.7L252.9,24.7L254.1,24.7L255.4,24.7L256.7,24.7L258.0,24.7L259.2,24.7L260.5,24.7L262.3,26.4L264.0,28.1L265.7,29.9L267.3,31.7L268.9,33.5L270.5,35.4L271.9,37.2L273.3,39.1L274.6,41.0L275.8,42.9L274.3,42.9L272.8,42.9L271.3,42.9L269.8,42.9L268.3,42.9L266.8,42.9L265.3,42.9L263.8,42.9L262.3,42.9L260.8,42.9L259.3,42.9L257.8,42.9L256.3,42.9L254.8,42.9L253.3,42.9L251.8,42.9L250.3,42.9L248.8,42.9L247.4,42.9L245.9,42.9ZM275.8,42.9L274.6,41.0L273.3,39.1L271.9,37.2L270.5,35.4L268.9,33.5L267.3,31.7L265.7,29.9L264.0,28.1L262.3,26.4L260.5,24.7L261.8,24.7L263.0,24.7L264.3,24.7L265.6,24.7L266.9,24.7L268.1,24.7L269.4,24.7L270.7,24.7L271.9,24.7L273.2,24.7L274.5,24.7L275.8,24.7L277.0,24.7L278.3,24.7L279.6,24.7L280.9,24.7L282.1,24.7L283.4,24.7L284.7,24.7L286.0,24.7L287.2,24.7L288.5,24.7L289.8,24.7L291.0,24.7L292.3,24.7L294.5,26.2L296.7,27.8L298.9,29.5L298.6,30.3L298.3,31.2L297.9,32.1L297.5,32.9L297.1,33.8L296.6,34.7L296.1,35.6L295.5,36.5L294.9,37.4L294.3,38.3L293.6,39.2L292.8,40.1L292.0,41.0L291.2,41.9L290.3,42.9L288.9,42.9L287.4,42.9L286.0,42.9L284.5,42.9L283.1,42.9L281.6,42.9L280.1,42.9L278.7,42.9L277.2,42.9ZM208.2,57.3L208.0,55.5L207.8,53.7L207.6,51.9L207.3,50.1L207.0,48.3L206.7,46.4L206.4,44.7L206.0,42.9L207.5,42.9L209.0,42.9L210.5,42.9L212.0,42.9L213.5,42.9L215.0,42.9L216.5,42.9L218.0,42.9L219.5,42.9L220.9,42.9L222.4,42.9L223.9,42.9L225.4,42.9L226.9,42.9L228.4,42.9L229.9,42.9L231.4,42.9L232.9,42.9L233.5,44.7L234.1,46.4L234.7,48.3L235.2,50.1L235.7,51.9L236.1,53.7L236.6,55.5L237.0,57.3L235.4,57.3L233.9,57.3L232.3,57.3L230.8,57.3L229.3,57.3L227.7,57.3L226.2,57.3L224.6,57.3L223.0,57.3L221.4,57.3L219.7,57.3L218.1,57.3L216.4,57.3L214.8,57.3L213.2,57.3L211.5,57.3L209.9,57.3ZM232.9,42.9L234.4,42.9L235.9,42.9L237.5,42.9L239.0,42.9L240.5,42.9L242.1,42.9L243.6,42.9L245.1,42.9L246.7,42.9L248.2,42.9L249.7,42.9L251.3,42.9L252.8,42.9L254.3,42.9L255.9,42.9L257.4,42.9L258.9,42.9L260.5,42.9L262.0,42.9L263.5,42.9L265.0,42.9L264.5,44.4L263.9,45.9L263.2,47.5L262.5,49.0L261.7,50.5L260.2,50.5L258.6,50.5L257.1,50.5L255.5,50.5L254.0,50.5L252.4,50.5L250.9,50.5L249.3,50.5L247.8,50.5L246.2,50.5L244.6,50.5L243.1,50.5L241.5,50.5L240.0,50.5L238.4,50.5L236.9,50.5L235.3,50.5L234.8,48.6L234.2,46.7L233.5,44.8ZM237.0,57.3L236.6,55.6L236.2,53.9L235.8,52.2L235.3,50.5L236.9,50.5L238.4,50.5L240.0,50.5L241.5,50.5L243.0,50.5L244.6,50.5L246.1,50.5L247.6,50.5L249.2,50.5L250.7,50.5L252.2,50.5L253.8,50.5L255.3,50.5L255.9,52.2L256.5,53.9L257.0,55.6L257.5,57.3L256.0,57.9L254.5,58.4L253.0,59.0L251.4,59.6L249.9,60.1L248.3,60.7L246.7,60.2L245.1,59.7L243.5,59.2L241.8,58.8L240.2,58.3L238.6,57.8ZM259.4,67.5L259.2,65.6L258.9,63.7L258.5,61.8L258.1,59.9L257.7,58.1L257.2,56.2L256.6,54.3L256.0,52.4L255.3,50.5L256.9,50.5L258.5,50.5L260.1,50.5L261.7,50.5L262.5,49.0L263.2,47.5L263.9,45.9L264.5,44.4L265.0,42.9L266.6,42.9L268.1,42.9L269.6,42.9L271.2,42.9L272.7,42.9L274.2,42.9L275.8,42.9L277.2,42.9L278.7,42.9L280.1,42.9L281.6,42.9L283.1,42.9L284.5,42.9L286.0,42.9L287.4,42.9L288.9,42.9L290.3,42.9L290.6,44.7L290.8,46.6L290.8,48.5L290.8,50.4L290.6,52.3L290.4,54.2L290.1,56.1L289.7,58.0L289.2,59.9L288.6,61.8L287.9,63.7L287.1,65.6L286.3,67.5L284.7,67.5L283.0,67.5L281.3,67.5L279.6,67.5L277.9,67.5L276.3,67.5L274.6,67.5L272.9,67.5L271.2,67.5L269.5,67.5L267.9,67.5L266.2,67.5L264.5,67.5L262.8,67.5L261.1,67.5ZM202.5,57.3L204.1,57.3L205.7,57.3L207.2,57.3L208.8,57.3L210.4,57.3L212.0,57.3L213.6,57.3L215.1,57.3L216.7,57.3L218.3,57.3L219.9,57.3L221.5,57.3L223.1,57.3L224.6,57.3L224.9,58.9L225.1,60.5L225.3,62.0L225.5,63.6L224.1,64.8L222.6,66.0L221.2,67.2L219.7,68.3L218.3,69.5L216.8,70.7L215.3,71.9L213.8,73.1L212.3,74.3L211.4,72.5L210.4,70.7L209.4,69.0L208.4,67.2L207.4,65.5L206.4,63.7L205.4,62.0L204.4,60.2L203.4,58.8ZM224.6,57.3L226.2,57.3L227.7,57.3L229.3,57.3L230.8,57.3L232.3,57.3L233.9,57.3L235.4,57.3L237.0,57.3L238.6,57.8L240.2,58.3L241.8,58.8L243.5,59.2L245.1,59.7L246.7,60.2L248.3,60.7L249.9,60.1L251.4,59.6L253.0,59.0L254.5,58.4L256.0,57.9L257.5,57.3L257.9,59.0L258.3,60.7L258.6,62.4L258.9,64.1L259.2,65.8L259.4,67.5L258.0,67.5L256.5,67.5L255.0,67.5L253.6,67.5L252.2,66.6L250.8,65.7L249.6,65.8L248.3,65.8L247.4,66.9L246.5,68.0L245.1,69.9L243.6,71.8L243.6,73.6L243.6,75.4L243.6,77.2L242.8,78.1L241.9,79.0L240.3,77.6L239.5,75.7L238.7,73.8L237.9,71.8L237.0,69.9L236.2,68.2L235.4,66.4L234.1,65.4L232.7,64.4L231.7,63.2L230.7,62.1L229.3,62.1L227.9,62.1L226.6,62.2L225.5,63.6L225.3,62.0L225.1,60.5L224.9,58.9ZM253.6,67.5L255.2,67.5L256.8,67.5L258.5,67.5L260.1,67.5L261.8,67.5L263.4,67.5L265.0,67.5L266.7,67.5L268.3,67.5L270.0,67.5L271.6,67.5L273.2,67.5L274.9,67.5L276.5,67.5L278.1,67.5L279.8,67.5L281.4,67.5L283.1,67.5L284.7,67.5L286.3,67.5L286.7,69.2L287.0,71.0L287.3,72.7L287.5,74.5L287.7,76.2L287.9,78.0L288.0,79.8L288.1,81.5L289.8,82.7L291.5,83.9L293.2,85.1L294.8,86.3L296.4,87.6L298.0,88.8L299.6,90.0L301.2,91.2L302.7,92.4L304.3,93.6L305.8,94.8L307.3,96.0L305.6,96.0L303.9,96.0L302.2,96.0L300.5,96.0L298.8,96.0L297.1,96.0L295.4,96.0L293.7,96.0L292.0,96.0L290.3,96.0L288.6,96.0L286.9,96.0L285.2,96.0L283.5,96.0L281.8,96.0L280.1,96.0L278.4,96.0L276.7,96.0L275.0,96.0L273.3,96.0L271.6,96.0L269.9,96.0L268.2,96.0L266.5,96.0L264.8,96.0L263.1,96.0L261.4,96.0L259.7,96.0L258.0,96.0L256.2,96.0L254.5,96.0L254.7,94.1L254.8,92.2L254.8,90.3L254.9,88.4L254.9,86.5L254.9,84.6L254.8,82.7L254.8,80.8L254.7,78.9L254.6,77.0L254.4,75.1L254.3,73.2L254.1,71.3L253.8,69.4ZM269.0,96.0L270.7,96.0L272.3,96.0L274.0,96.0L275.7,96.0L277.3,96.0L279.0,96.0L280.7,96.0L282.3,96.0L284.0,96.0L285.7,96.0L287.3,96.0L289.0,96.0L290.7,96.0L292.3,96.0L294.0,96.0L295.7,96.0L297.3,96.0L299.0,96.0L300.7,96.0L302.3,96.0L304.0,96.0L305.6,96.0L307.3,96.0L307.1,98.0L306.8,99.9L306.4,101.8L306.0,103.8L305.6,105.7L303.9,105.7L302.3,105.7L300.6,105.7L299.0,105.7L297.3,105.7L295.7,105.7L294.1,105.7L292.4,105.7L290.8,105.7L289.1,105.7L287.5,105.7L285.8,105.7L284.2,105.7L282.6,105.7L280.9,105.7L279.3,105.7L277.6,105.7L276.0,105.7L274.3,105.7L272.7,105.7L271.1,105.7L269.4,105.7L267.8,105.7L268.1,103.8L268.4,101.8L268.6,99.9L268.8,98.0ZM267.8,105.7L269.4,105.7L271.0,105.7L272.7,105.7L274.3,105.7L275.9,105.7L277.6,105.7L279.2,105.7L280.8,105.7L282.5,105.7L284.1,105.7L285.7,105.7L287.4,105.7L289.0,105.7L290.6,105.7L292.3,105.7L293.9,105.7L295.5,105.7L297.2,105.7L296.7,107.6L296.3,109.6L295.7,111.5L295.1,113.5L294.4,115.4L292.8,115.4L291.2,115.4L289.6,115.4L288.0,115.4L286.4,115.4L284.8,115.4L283.2,115.4L281.6,115.4L280.1,115.4L278.5,115.4L276.9,115.4L275.3,115.4L273.7,115.4L272.1,115.4L270.5,115.4L268.9,115.4L267.3,115.4L265.7,115.4L266.2,113.5L266.7,111.5L267.1,109.6L267.5,107.6ZM297.2,105.7L298.8,105.7L300.5,105.7L302.2,105.7L303.9,105.7L305.6,105.7L305.1,107.6L304.6,109.6L304.0,111.5L303.4,113.5L302.6,115.4L301.8,117.3L300.8,119.3L299.8,121.2L298.7,123.1L298.0,121.6L297.2,120.0L296.3,118.5L295.4,116.9L294.4,115.4L295.1,113.5L295.7,111.5L296.3,109.6L296.7,107.6ZM265.7,115.4L267.3,115.4L268.9,115.4L270.5,115.4L272.1,115.4L273.7,115.4L275.3,115.4L276.9,115.4L278.5,115.4L280.1,115.4L281.6,115.4L283.2,115.4L284.8,115.4L286.4,115.4L288.0,115.4L289.6,115.4L291.2,115.4L292.8,115.4L294.4,115.4L295.4,116.9L296.3,118.5L297.2,120.0L298.0,121.6L298.7,123.1L297.5,125.0L296.2,127.0L294.9,128.9L293.5,130.8L292.0,132.7L290.4,134.6L289.4,134.0L288.5,133.4L287.4,132.8L286.4,132.3L285.3,131.7L284.3,131.1L283.2,130.5L282.1,130.0L281.0,129.4L279.8,128.8L278.7,128.2L277.5,127.6L276.4,127.1L275.2,126.5L274.0,125.9L272.7,125.3L271.5,124.7L270.2,124.1L269.0,123.5L267.7,123.0L266.4,122.4L265.0,121.8L263.7,121.2L264.4,119.3L265.1,117.3ZM302.6,115.4L304.2,115.4L305.8,115.4L307.4,115.4L308.9,115.4L310.5,115.4L312.1,115.4L313.7,115.4L315.2,115.4L316.8,115.4L318.4,115.4L320.0,115.4L321.6,115.4L323.1,115.4L322.1,117.3L321.1,119.3L319.9,121.2L318.6,123.1L317.2,125.0L315.7,127.0L314.1,128.9L312.5,130.8L310.8,132.7L309.0,134.6L307.5,134.6L306.1,134.6L304.7,134.6L303.3,134.6L301.8,134.6L300.4,134.6L299.0,134.6L297.6,134.6L296.1,134.6L294.7,134.6L293.3,134.6L291.8,134.6L290.4,134.6L292.0,132.7L293.5,130.8L294.9,128.9L296.2,127.0L297.5,125.0L298.7,123.1L299.8,121.2L300.8,119.3L301.8,117.3Z"/><path id="OL" d="M93.5,164.4L92.4,164.1L91.2,163.8L90.0,163.4L88.7,163.0L87.3,162.5L85.9,162.0L84.4,161.5L82.9,160.9L81.4,160.3L79.8,159.7L78.2,159.0L76.5,158.3L74.9,157.6L73.3,156.9L71.8,156.1L70.3,155.3L68.9,154.6L67.5,153.8L66.1,153.0L64.8,152.2L63.5,151.4L62.2,150.6L61.0,149.7L59.7,148.9L58.5,148.0L57.3,147.2L56.1,146.3L54.9,145.4L53.7,144.6L52.5,143.7L51.3,142.8L50.2,141.9L49.1,141.0L48.0,140.1L46.9,139.2L45.8,138.3L44.8,137.3L43.8,136.4L42.8,135.5L41.8,134.6L40.9,133.6L40.0,132.7L39.2,131.7L38.3,130.8L37.5,129.8L36.7,128.9L35.9,127.9L35.1,127.0L34.3,126.0L33.6,125.0L32.9,124.1L32.2,123.1L31.5,122.2L30.9,121.2L30.3,120.2L29.7,119.3L29.2,118.3L28.7,117.3L28.1,116.4L27.7,115.4L27.2,114.4L26.8,113.5L26.4,112.5L26.0,111.5L25.7,110.5L25.3,109.6L25.0,108.6L24.8,107.6L24.5,106.7L24.2,105.7L24.0,104.7L23.7,103.8L23.5,102.8L23.3,101.8L23.0,100.9L22.8,99.9L22.7,98.9L22.5,98.0L22.3,97.0L22.2,96.0L22.1,95.1L22.0,94.1L21.9,93.1L21.8,92.2L21.7,91.2L21.7,90.2L21.6,89.3L21.6,88.3L21.5,87.3L21.5,86.3L21.5,85.4L21.6,84.4L21.6,83.4L21.7,82.5L21.7,81.5L21.8,80.5L21.9,79.6L22.0,78.6L22.1,77.6L22.2,76.7L22.3,75.7L22.5,74.7L22.7,73.8L22.8,72.8L23.0,71.8L23.3,70.9L23.5,69.9L23.7,68.9L24.0,68.0L24.2,67.0L24.5,66.0L24.8,65.1L25.0,64.1L25.3,63.1L25.7,62.2L26.0,61.2L26.4,60.2L26.8,59.2L27.2,58.3L27.7,57.3L28.1,56.3L28.7,55.4L29.2,54.4L29.7,53.4L30.3,52.5L30.9,51.5L31.5,50.5L32.2,49.6L32.9,48.6L33.6,47.7L34.3,46.7L35.1,45.7L35.9,44.8L36.7,43.8L37.5,42.9L38.3,41.9L39.2,41.0L40.0,40.0L40.9,39.1L41.8,38.1L42.8,37.2L43.8,36.3L44.8,35.4L45.8,34.4L46.9,33.5L48.0,32.6L49.1,31.7L50.2,30.8L51.3,29.9L52.5,29.0L53.7,28.1L54.9,27.3L56.1,26.4L57.3,25.5L58.5,24.7L59.7,23.8L61.0,23.0L62.2,22.1L63.5,21.3L64.8,20.5L66.1,19.7L67.5,18.9L68.9,18.1L70.3,17.4L71.8,16.6L73.3,15.8L74.9,15.1L76.5,14.4L78.2,13.7L79.8,13.0L81.4,12.4L82.9,11.8L84.4,11.2L85.9,10.7L87.3,10.2L88.7,9.7L90.0,9.3L91.2,8.9L92.4,8.6L93.5,8.3L257.3,8.3L258.4,8.6L259.6,8.9L260.8,9.3L262.1,9.7L263.5,10.2L264.9,10.7L266.4,11.2L267.9,11.8L269.4,12.4L271.0,13.0L272.6,13.7L274.3,14.4L275.9,15.1L277.5,15.8L279.0,16.6L280.5,17.4L281.9,18.1L283.3,18.9L284.7,19.7L286.0,20.5L287.3,21.3L288.6,22.1L289.8,23.0L291.1,23.8L292.3,24.7L293.5,25.5L294.7,26.4L295.9,27.3L297.1,28.1L298.3,29.0L299.5,29.9L300.6,30.8L301.7,31.7L302.8,32.6L303.9,33.5L305.0,34.4L306.0,35.4L307.0,36.3L308.0,37.2L309.0,38.1L309.9,39.1L310.8,40.0L311.6,41.0L312.5,41.9L313.3,42.9L314.1,43.8L314.9,44.8L315.7,45.7L316.5,46.7L317.2,47.7L317.9,48.6L318.6,49.6L319.3,50.5L319.9,51.5L320.5,52.5L321.1,53.4L321.6,54.4L322.1,55.4L322.7,56.3L323.1,57.3L323.6,58.3L324.0,59.2L324.4,60.2L324.8,61.2L325.1,62.2L325.5,63.1L325.8,64.1L326.0,65.1L326.3,66.0L326.6,67.0L326.8,68.0L327.1,68.9L327.3,69.9L327.5,70.9L327.8,71.8L328.0,72.8L328.1,73.8L328.3,74.7L328.5,75.7L328.6,76.7L328.7,77.6L328.8,78.6L328.9,79.6L329.0,80.5L329.1,81.5L329.1,82.5L329.2,83.4L329.2,84.4L329.3,85.4L329.3,86.3L329.3,87.3L329.2,88.3L329.2,89.3L329.1,90.2L329.1,91.2L329.0,92.2L328.9,93.1L328.8,94.1L328.7,95.1L328.6,96.0L328.5,97.0L328.3,98.0L328.1,98.9L328.0,99.9L327.8,100.9L327.5,101.8L327.3,102.8L327.1,103.8L326.8,104.7L326.6,105.7L326.3,106.7L326.0,107.6L325.8,108.6L325.5,109.6L325.1,110.5L324.8,111.5L324.4,112.5L324.0,113.5L323.6,114.4L323.1,115.4L322.7,116.4L322.1,117.3L321.6,118.3L321.1,119.3L320.5,120.2L319.9,121.2L319.3,122.2L318.6,123.1L317.9,124.1L317.2,125.0L316.5,126.0L315.7,127.0L314.9,127.9L314.1,128.9L313.3,129.8L312.5,130.8L311.6,131.7L310.8,132.7L309.9,133.6L309.0,134.6L308.0,135.5L307.0,136.4L306.0,137.3L305.0,138.3L303.9,139.2L302.8,140.1L301.7,141.0L300.6,141.9L299.5,142.8L298.3,143.7L297.1,144.6L295.9,145.4L294.7,146.3L293.5,147.2L292.3,148.0L291.1,148.9L289.8,149.7L288.6,150.6L287.3,151.4L286.0,152.2L284.7,153.0L283.3,153.8L281.9,154.6L280.5,155.3L279.0,156.1L277.5,156.9L275.9,157.6L274.3,158.3L272.6,159.0L271.0,159.7L269.4,160.3L267.9,160.9L266.4,161.5L264.9,162.0L263.5,162.5L262.1,163.0L260.8,163.4L259.6,163.8L258.4,164.1L257.3,164.4Z"/><path id="TK" d="M276.3,82.0L276.2,82.5M274.4,80.6L274.8,80.0L275.6,79.9L276.4,80.5L277.2,81.2L276.8,81.6L276.3,82.0M282.2,76.9L282.6,77.7L283.0,78.5L283.4,79.3L282.9,80.1L282.4,80.9L281.8,80.5L281.2,80.2L280.3,80.0L279.5,79.8L279.5,79.6L280.2,79.0L280.9,78.4L281.6,77.6L282.2,76.9M276.8,75.6L277.3,75.9L276.6,76.7L275.9,77.4L275.3,78.2L275.1,77.8L275.7,77.1L276.2,76.3L276.8,75.6M279.4,76.2L279.1,75.7L279.1,74.9L279.6,75.3L280.2,75.7L280.4,76.4L280.5,77.2L280.1,77.5L279.8,76.9L279.4,76.2M277.5,72.0L277.1,71.4L276.6,70.8L277.0,70.1L276.9,69.3L276.8,68.4L277.6,68.4L278.3,68.4L278.5,69.4L278.7,70.4L278.5,71.1L278.3,71.8L279.2,72.8L279.9,73.3L280.6,73.8L280.2,74.2L279.5,73.6L278.8,73.0L278.2,72.9L277.6,72.9L277.5,72.0M282.1,74.4L282.1,75.2L282.1,75.9L282.0,76.7L281.6,76.6L281.4,75.8L281.1,75.0L280.8,74.3L281.5,74.3L282.1,74.4M98.1,20.9L98.8,20.9L99.5,20.8L100.2,20.7L100.9,20.7L101.3,20.8L101.6,21.0L102.0,21.2L102.4,21.3M113.9,21.3L113.7,21.2L114.4,20.9L115.1,20.6L115.7,20.6L116.3,20.7L116.2,21.2L117.3,20.5L118.2,19.7L119.0,19.0L119.3,19.4L119.6,19.7L119.5,20.5L119.5,21.3M122.1,21.3L122.9,20.9L123.5,20.9L124.1,20.9L124.8,20.8L124.5,21.3M108.2,21.3L107.7,21.3L107.1,21.2L106.6,21.1L106.0,21.1L105.6,20.9L105.2,20.7L104.7,20.5L104.4,20.4L104.0,20.2L103.6,20.1L103.6,19.7L103.6,19.3L104.5,18.7L103.8,18.9L103.1,19.1L102.4,19.3L101.9,19.2L101.4,19.2L100.9,19.1L100.4,19.0M102.2,17.6L103.0,17.1L103.5,17.1L103.9,17.1L104.4,17.1L104.9,17.1L105.4,17.1L105.9,17.1L106.3,17.3L106.7,17.4L107.1,17.6L107.5,17.7L106.8,18.0L106.1,18.3L106.8,18.2L107.5,18.0L108.2,17.9L108.7,18.0L109.1,18.1L109.6,18.3L110.0,18.4L110.9,18.2L111.7,18.0L112.5,17.7L112.8,17.9L113.2,18.0L113.6,18.1L113.1,18.6L112.6,19.1L112.9,19.4L113.1,19.8L113.4,20.1L113.0,20.9L112.4,21.0L111.8,21.1L111.2,21.2L110.6,21.3M117.9,18.5L117.3,18.7L116.6,18.8L116.0,19.0L115.6,18.8L115.2,18.5L114.9,18.3L115.7,17.9L116.6,17.5L117.1,17.5L117.6,17.5L118.1,17.5L118.6,17.5L118.3,18.0L117.9,18.5M121.7,18.3L120.9,18.5L120.1,18.7L119.3,18.9L119.1,18.5L118.9,18.1L120.2,17.4L120.7,17.4L121.2,17.4L121.6,17.5L122.1,17.5L121.7,18.3M121.6,16.8L121.1,16.8L120.5,16.8L120.0,16.8L120.6,16.2L121.5,15.8L122.5,15.5L123.1,15.5L123.6,15.5L124.1,15.4L124.7,15.4L125.2,15.4L126.1,14.9L127.1,14.4L126.8,14.2L126.6,14.1L126.2,14.2L125.8,14.1L125.3,14.0L124.8,14.0L124.7,13.7L124.5,13.3L124.4,13.0L125.2,12.6L125.9,12.3L126.5,12.2L127.1,12.2L127.6,12.2L128.2,12.1L128.3,12.2L128.9,12.1L129.5,12.0L130.0,11.9L130.6,11.9L131.2,11.8L131.8,11.7L132.4,11.7L133.0,11.6L133.5,11.6L134.1,11.5L134.7,11.5L135.2,11.4L135.8,11.4L136.4,11.3L136.9,11.3L137.5,11.2L138.0,11.2L138.5,11.3L138.9,11.3L139.4,11.3L139.9,11.3L140.4,11.4L140.9,11.4L141.3,11.4L141.8,11.4L142.3,11.5L142.8,11.5L143.2,11.6L143.6,11.7L144.1,11.8L143.4,11.9L142.8,12.0L142.2,12.2L141.5,12.3L140.9,12.4L140.2,12.6L139.6,12.7L138.8,12.9L138.1,13.2L137.3,13.4L136.5,13.7L135.8,13.9L135.1,14.1L134.3,14.3L133.5,14.5L132.7,14.8L131.9,15.1L131.3,15.7L130.8,15.7L130.3,15.7L129.7,15.7L129.2,15.7L128.7,15.6L128.2,15.6L127.7,15.6L127.2,15.6L126.6,15.6L127.1,15.7L127.5,15.7L128.0,15.8L128.4,15.9L128.9,15.9L129.3,16.0L129.2,16.5L129.0,17.0L128.4,17.0L127.9,17.0L127.3,17.0L126.7,17.0L126.2,16.9L125.6,16.9L125.0,16.9L124.4,16.9L123.9,16.9L123.3,16.9L122.7,16.9L122.4,16.8L122.1,16.7L121.7,16.6L121.6,16.8M110.5,15.5L110.7,15.5L111.3,15.4L111.9,15.4L112.5,15.4L113.1,15.4L113.7,15.3L114.3,15.3L114.9,15.3L115.1,15.6L115.3,15.8L115.1,16.2L114.4,16.4L113.7,16.6L113.1,16.8L112.5,16.8L112.0,16.8L111.4,16.8L110.9,16.8L110.3,16.8L109.8,16.8L109.2,16.8L108.9,16.6L108.6,16.4L108.3,16.2L109.0,16.0L109.8,15.8L109.3,15.8L108.8,15.8L108.3,15.9L107.8,15.9L107.5,15.8L107.1,15.7L106.8,15.6L106.5,15.5L107.2,15.3L108.0,15.1L108.8,14.9L109.5,14.8L110.0,14.8L110.4,14.9L110.9,15.0L110.5,15.5M117.9,16.1L118.4,15.7L118.8,15.3L119.4,15.3L120.0,15.3L120.5,15.3L120.2,15.7L120.0,16.2L119.5,16.2L118.9,16.1L118.4,16.1L117.9,16.1M114.3,14.1L114.7,14.1L115.2,14.1L115.7,14.2L116.1,14.2L115.7,14.6L115.3,15.0L114.9,14.9L114.4,14.9L114.0,14.8L113.5,14.8L113.1,14.7L112.7,14.7L113.5,14.4L114.3,14.1M119.8,13.7L120.2,13.7L120.5,13.8L120.9,13.8L120.5,14.3L120.1,14.7L119.7,14.6L119.3,14.5L118.9,14.5L118.5,14.4L118.1,14.3L118.9,14.0L119.8,13.7M126.1,20.8L125.5,20.7L124.9,20.7L124.3,20.6L123.8,20.6L123.2,20.5L122.7,20.3L122.3,20.1L121.8,19.9L121.4,19.7L121.8,19.1L122.2,18.4L122.9,18.2L123.6,18.0L124.3,17.7L125.1,17.5L125.6,17.5L126.2,17.5L126.8,17.6L127.3,17.6L127.9,17.6L128.0,17.6L128.3,17.5L128.8,17.6L129.4,17.6L129.9,17.7L129.7,18.3L129.3,18.3L129.4,18.3L129.8,18.5L130.2,18.7L130.6,18.9L131.0,19.1L131.4,19.3L131.8,19.5L132.2,19.6L132.7,19.8L133.1,19.9L133.6,20.1L133.7,20.6L133.9,21.1L134.0,21.3M126.6,21.3L126.3,21.0L126.1,20.8M141.3,16.0L140.7,15.9L140.2,15.9L139.6,15.9L139.1,15.9L138.5,15.9L138.0,15.8L137.5,15.7L137.0,15.6L136.6,15.5L136.2,15.3L135.8,15.1L135.4,14.9L135.0,14.8L136.2,14.0L136.9,13.8L137.7,13.6L138.4,13.4L139.1,13.2L139.8,13.0L140.5,12.8L141.2,12.6L141.9,12.4L142.6,12.3L143.3,12.1L143.9,11.9L144.6,11.8M125.6,139.5L124.7,139.1L123.8,138.7L122.9,138.2L122.0,137.7L121.1,137.2L120.8,136.7L120.5,136.2M118.7,132.0L118.9,131.4L118.7,130.7L118.5,130.7L118.4,130.2L118.6,129.9L118.5,129.4L118.4,128.9L118.2,128.2L117.6,128.2L117.4,127.5L117.7,127.0L117.9,127.1L117.9,127.0M81.7,40.0L81.9,39.6L81.6,39.2L81.4,38.6L81.1,38.0L81.0,37.4L82.0,36.6L81.8,35.8L81.9,35.0L82.1,34.2L82.2,33.6L82.3,33.1L82.1,32.6L82.0,32.1L81.9,31.5L81.9,30.8M183.6,30.8L183.1,29.9L182.6,29.5L182.6,29.9L182.0,30.0L181.5,30.3L181.0,30.7L180.5,30.7L180.0,30.7L179.3,30.2L179.0,29.6L178.8,29.0L178.8,28.2L178.8,27.4L178.9,26.9L179.5,26.7L180.0,26.5L180.5,26.2L181.0,25.9L181.5,25.6L181.9,25.3L182.4,25.0L182.9,24.7L183.4,23.8L183.7,23.2L183.9,22.6L184.5,22.1L185.1,21.7L185.4,21.5"/><g id="LB" class="lab"><text x="88.1" y="28.5" textLength="3.4" lengthAdjust="spacingAndGlyphs">1</text><text x="85.0" y="47.1" textLength="3.4" lengthAdjust="spacingAndGlyphs">3</text><text x="98.5" y="50.0" textLength="3.4" lengthAdjust="spacingAndGlyphs">4</text><text x="114.8" y="49.5" textLength="3.4" lengthAdjust="spacingAndGlyphs">5</text><text x="87.4" y="62.5" textLength="3.4" lengthAdjust="spacingAndGlyphs">6</text><text x="99.9" y="74.2" textLength="3.4" lengthAdjust="spacingAndGlyphs">7</text><text x="114.5" y="70.5" textLength="3.4" lengthAdjust="spacingAndGlyphs">8</text><text x="109.0" y="90.9" textLength="3.4" lengthAdjust="spacingAndGlyphs">9</text><text x="123.3" y="87.0" textLength="6.8" lengthAdjust="spacingAndGlyphs">10</text><text x="139.9" y="98.5" textLength="6.8" lengthAdjust="spacingAndGlyphs">11</text><text x="124.5" y="100.8" textLength="6.8" lengthAdjust="spacingAndGlyphs">12</text><text x="116.0" y="118.2" textLength="6.8" lengthAdjust="spacingAndGlyphs">13</text><text x="129.3" y="116.2" textLength="6.8" lengthAdjust="spacingAndGlyphs">14</text><text x="126.1" y="135.7" textLength="6.8" lengthAdjust="spacingAndGlyphs">15</text><text x="184.1" y="27.9" textLength="6.8" lengthAdjust="spacingAndGlyphs">16</text><text x="190.5" y="39.6" textLength="6.8" lengthAdjust="spacingAndGlyphs">17</text><text x="211.8" y="35.4" textLength="6.8" lengthAdjust="spacingAndGlyphs">18</text><text x="187.9" y="52.4" textLength="6.8" lengthAdjust="spacingAndGlyphs">19</text><text x="182.7" y="67.0" textLength="6.8" lengthAdjust="spacingAndGlyphs">20</text><text x="173.2" y="79.9" textLength="6.8" lengthAdjust="spacingAndGlyphs">21</text><text x="191.8" y="87.3" textLength="6.8" lengthAdjust="spacingAndGlyphs">22</text><text x="208.8" y="80.4" textLength="6.8" lengthAdjust="spacingAndGlyphs">23</text><text x="206.7" y="92.1" textLength="6.8" lengthAdjust="spacingAndGlyphs">24</text><text x="189.7" y="110.7" textLength="6.8" lengthAdjust="spacingAndGlyphs">25</text><text x="203.0" y="108.6" textLength="6.8" lengthAdjust="spacingAndGlyphs">26</text><text x="214.7" y="107.5" textLength="6.8" lengthAdjust="spacingAndGlyphs">27</text><text x="241.6" y="21.4" textLength="6.8" lengthAdjust="spacingAndGlyphs">28</text><text x="229.3" y="35.4" textLength="6.8" lengthAdjust="spacingAndGlyphs">29</text><text x="254.5" y="35.4" textLength="6.8" lengthAdjust="spacingAndGlyphs">30</text><text x="281.9" y="34.2" textLength="6.8" lengthAdjust="spacingAndGlyphs">31</text><text x="222.3" y="52.9" textLength="6.8" lengthAdjust="spacingAndGlyphs">32</text><text x="249.2" y="48.6" textLength="6.8" lengthAdjust="spacingAndGlyphs">33</text><text x="246.9" y="56.4" textLength="6.8" lengthAdjust="spacingAndGlyphs">34</text><text x="274.9" y="57.0" textLength="6.8" lengthAdjust="spacingAndGlyphs">35</text><text x="214.6" y="67.2" textLength="6.8" lengthAdjust="spacingAndGlyphs">36</text><text x="242.2" y="67.3" textLength="6.8" lengthAdjust="spacingAndGlyphs">37</text><text x="274.8" y="84.7" textLength="6.8" lengthAdjust="spacingAndGlyphs">38</text><text x="288.3" y="102.7" textLength="6.8" lengthAdjust="spacingAndGlyphs">39</text><text x="281.9" y="112.7" textLength="6.8" lengthAdjust="spacingAndGlyphs">40</text><text x="299.6" y="114.8" textLength="6.8" lengthAdjust="spacingAndGlyphs">41</text><text x="283.3" y="124.7" textLength="6.8" lengthAdjust="spacingAndGlyphs">42</text><text x="308.2" y="127.8" textLength="6.8" lengthAdjust="spacingAndGlyphs">43</text></g></defs><g transform="translate(0.00,0.00)"><use href="#L" fill="#fff"/><use href="#r1" fill="#7b6aa8"/><use href="#r2" fill="#ada6ce"/><use href="#r3" fill="#e4e5f0"/><use href="#r4" fill="#988dbe"/><use href="#r5" fill="#300350"/><use href="#r6" fill="#c3c0dd"/><use href="#r7" fill="#887cb2"/><use href="#r8" fill="#644395"/><use href="#r9" fill="#7b6aa8"/><use href="#r10" fill="#a59dc8"/><use href="#r11" fill="#d4d4e8"/><use href="#r12" fill="#a39bc7"/><use href="#r13" fill="#f3f3f5"/><use href="#r14" fill="#a9a1cb"/><use href="#r15" fill="#cecde4"/><use href="#r16" fill="#7967a6"/><use href="#r17" fill="#644395"/><use href="#r18" fill="#b7b1d5"/><use href="#r19" fill="#b1aad1"/><use href="#r20" fill="#eff0f4"/><use href="#r21" fill="#e9eaf2"/><use href="#r22" fill="#c5c2de"/><use href="#r23" fill="#faeedc"/><use href="#r24" fill="#eeeef3"/><use href="#r25" fill="#c6c4df"/><use href="#r26" fill="#9287b9"/><use href="#r27" fill="#ada6ce"/><use href="#r28" fill="#ada6ce"/><use href="#r29" fill="#b7b1d5"/><use href="#r30" fill="#b4aed3"/><use href="#r31" fill="#8073ac"/><use href="#r32" fill="#eeeef3"/><use href="#r33" fill="#eaebf2"/><use href="#r34" fill="#faeedc"/><use href="#r35" fill="#d8daeb"/><use href="#r36" fill="#eeeef3"/><use href="#r37" fill="#eff0f4"/><use href="#r38" fill="#7b6aa8"/><use href="#r39" fill="#eeeef3"/><use href="#r40" fill="#dadcec"/><use href="#r41" fill="#c5c2de"/><use href="#r42" fill="#b6b0d4"/><use href="#r43" fill="#887cb2"/><use href="#RO" fill="none" stroke="#8a8a8a" stroke-width="0.5"/><use href="#L" fill="none" stroke="#000" stroke-width="0.55"/><use href="#TK" fill="none" stroke="#111" stroke-width="0.75" stroke-linejoin="round"/><use href="#OL" fill="none" stroke="#111" stroke-width="1.0"/><use href="#LB"/></g><g transform="translate(352.60,0.00)"><use href="#L" fill="#fff"/><use href="#r1" fill="#2d004b"/><use href="#r2" fill="#2d004b"/><use href="#r3" fill="#d8daeb"/><use href="#r4" fill="#300350"/><use href="#r5" fill="#300350"/><use href="#r6" fill="#8477af"/><use href="#r7" fill="#3c0f63"/><use href="#r8" fill="#f4f4f6"/><use href="#r9" fill="#634094"/><use href="#r10" fill="#6a4c9a"/><use href="#r11" fill="#8e82b6"/><use href="#r12" fill="#5d3790"/><use href="#r13" fill="#f0f1f4"/><use href="#r14" fill="#390c5e"/><use href="#r15" fill="#9f96c4"/><use href="#r16" fill="#2d004b"/><use href="#r17" fill="#2d004b"/><use href="#r18" fill="#6d529c"/><use href="#r19" fill="#725ba1"/><use href="#r20" fill="#e4e5f0"/><use href="#r21" fill="#e8e9f1"/><use href="#r22" fill="#dfe1ee"/><use href="#r23" fill="#faecd7"/><use href="#r24" fill="#dfe1ee"/><use href="#r25" fill="#b1aad1"/><use href="#r26" fill="#6d529c"/><use href="#r27" fill="#8e82b6"/><use href="#r28" fill="#2d004b"/><use href="#r29" fill="#6d529c"/><use href="#r30" fill="#2d004b"/><use href="#r31" fill="#2d004b"/><use href="#r32" fill="#dadcec"/><use href="#r33" fill="#d1d1e6"/><use href="#r34" fill="#e4e5f0"/><use href="#r35" fill="#502382"/><use href="#r36" fill="#e8e9f1"/><use href="#r37" fill="#dddfed"/><use href="#r38" fill="#380b5c"/><use href="#r39" fill="#dee0ed"/><use href="#r40" fill="#c2bedc"/><use href="#r41" fill="#634094"/><use href="#r42" fill="#8477af"/><use href="#r43" fill="#8e82b6"/><use href="#RO" fill="none" stroke="#8a8a8a" stroke-width="0.5"/><use href="#L" fill="none" stroke="#000" stroke-width="0.55"/><use href="#TK" fill="none" stroke="#111" stroke-width="0.75" stroke-linejoin="round"/><use href="#OL" fill="none" stroke="#111" stroke-width="1.0"/><use href="#LB"/></g><g transform="translate(0.00,182.80)"><use href="#L" fill="#fff"/><use href="#r1" fill="#e8e9f1"/><use href="#r2" fill="#d8daeb"/><use href="#r3" fill="#f9f2e9"/><use href="#r4" fill="#d4d4e8"/><use href="#r5" fill="#2d004b"/><use href="#r6" fill="#dee0ed"/><use href="#r7" fill="#b1aad1"/><use href="#r8" fill="#f6f6f7"/><use href="#r9" fill="#8a7eb3"/><use href="#r10" fill="#988dbe"/><use href="#r11" fill="#eff0f4"/><use href="#r12" fill="#bcb7d8"/><use href="#r13" fill="#9489bb"/><use href="#r14" fill="#dfe1ee"/><use href="#r15" fill="#e4e5f0"/><use href="#r16" fill="#b6b0d4"/><use href="#r17" fill="#dfe1ee"/><use href="#r18" fill="#e8e9f1"/><use href="#r19" fill="#eff0f4"/><use href="#r20" fill="#f0f1f4"/><use href="#r21" fill="#e9eaf2"/><use href="#r22" fill="#9287b9"/><use href="#r23" fill="#f3f3f5"/><use href="#r24" fill="#faeedc"/><use href="#r25" fill="#e8e9f1"/><use href="#r26" fill="#dee0ed"/><use href="#r27" fill="#c5c2de"/><use href="#r28" fill="#e4e5f0"/><use href="#r29" fill="#e8e9f1"/><use href="#r30" fill="#e4e5f0"/><use href="#r31" fill="#e9eaf2"/><use href="#r32" fill="#f9f0e4"/><use href="#r33" fill="#f9f2e9"/><use href="#r34" fill="#c5c2de"/><use href="#r35" fill="#f9f2e9"/><use href="#r36" fill="#eff0f4"/><use href="#r37" fill="#e4e5f0"/><use href="#r38" fill="#d7d8ea"/><use href="#r39" fill="#f0f1f4"/><use href="#r40" fill="#dadcec"/><use href="#r41" fill="#e3e4ef"/><use href="#r42" fill="#c9c8e1"/><use href="#r43" fill="#502382"/><use href="#RO" fill="none" stroke="#8a8a8a" stroke-width="0.5"/><use href="#L" fill="none" stroke="#000" stroke-width="0.55"/><use href="#TK" fill="none" stroke="#111" stroke-width="0.75" stroke-linejoin="round"/><use href="#OL" fill="none" stroke="#111" stroke-width="1.0"/><use href="#LB"/><g class="lab"><text x="110.0" y="123.8" transform="rotate(-60 110 122)">15</text></g></g><g transform="translate(352.60,182.80)"><use href="#L" fill="#fff"/><use href="#r1" fill="#e3e4ef"/><use href="#r2" fill="#afa8d0"/><use href="#r3" fill="#faeedc"/><use href="#r4" fill="#c5c2de"/><use href="#r5" fill="#634094"/><use href="#r6" fill="#d9dbeb"/><use href="#r7" fill="#a59dc8"/><use href="#r8" fill="#f6f6f7"/><use href="#r9" fill="#6d529c"/><use href="#r10" fill="#532687"/><use href="#r11" fill="#dee0ed"/><use href="#r12" fill="#6d529c"/><use href="#r13" fill="#502382"/><use href="#r14" fill="#725ba1"/><use href="#r15" fill="#bdb9d9"/><use href="#r16" fill="#5d3790"/><use href="#r17" fill="#b9b3d6"/><use href="#r18" fill="#e3e4ef"/><use href="#r19" fill="#e4e5f0"/><use href="#r20" fill="#f3f3f5"/><use href="#r21" fill="#faedda"/><use href="#r22" fill="#f9f0e4"/><use href="#r23" fill="#fde4c0"/><use href="#r24" fill="#faecd7"/><use href="#r25" fill="#e9eaf2"/><use href="#r26" fill="#dfe1ee"/><use href="#r27" fill="#a9a1cb"/><use href="#r28" fill="#b6b0d4"/><use href="#r29" fill="#e4e5f0"/><use href="#r30" fill="#e3e4ef"/><use href="#r31" fill="#dadcec"/><use href="#r32" fill="#f4f4f6"/><use href="#r33" fill="#f5f5f6"/><use href="#r34" fill="#afa8d0"/><use href="#r35" fill="#c2bedc"/><use href="#r36" fill="#e3e4ef"/><use href="#r37" fill="#e5e7f0"/><use href="#r38" fill="#d8daeb"/><use href="#r39" fill="#f3f3f5"/><use href="#r40" fill="#dfe1ee"/><use href="#r41" fill="#eff0f4"/><use href="#r42" fill="#8477af"/><use href="#r43" fill="#502382"/><use href="#RO" fill="none" stroke="#8a8a8a" stroke-width="0.5"/><use href="#L" fill="none" stroke="#000" stroke-width="0.55"/><use href="#TK" fill="none" stroke="#111" stroke-width="0.75" stroke-linejoin="round"/><use href="#OL" fill="none" stroke="#111" stroke-width="1.0"/><use href="#LB"/></g><defs><linearGradient id="cb" x1="0" x2="1" y1="0" y2="0"><stop offset="0.000" stop-color="#7f3b08"/><stop offset="0.050" stop-color="#974907"/><stop offset="0.100" stop-color="#b25706"/><stop offset="0.150" stop-color="#c96d0d"/><stop offset="0.200" stop-color="#e08214"/><stop offset="0.250" stop-color="#ef9e3c"/><stop offset="0.300" stop-color="#fcb761"/><stop offset="0.350" stop-color="#fdcc8c"/><stop offset="0.400" stop-color="#fee0b6"/><stop offset="0.450" stop-color="#faecd7"/><stop offset="0.500" stop-color="#f6f6f7"/><stop offset="0.550" stop-color="#e8e9f1"/><stop offset="0.600" stop-color="#d8daeb"/><stop offset="0.650" stop-color="#c5c2de"/><stop offset="0.700" stop-color="#b1aad1"/><stop offset="0.750" stop-color="#988dbe"/><stop offset="0.800" stop-color="#8073ac"/><stop offset="0.850" stop-color="#6a4c9a"/><stop offset="0.900" stop-color="#532687"/><stop offset="0.950" stop-color="#3f1268"/><stop offset="1.000" stop-color="#2d004b"/></linearGradient></defs><rect x="234.2" y="360.3" width="235.40000000000003" height="5.199999999999989" fill="url(#cb)" stroke="#222" stroke-width="0.5"/><line x1="234.2" x2="234.2" y1="365.5" y2="367.7" stroke="#333" stroke-width="0.6"/><text x="234.2" y="378.8" class="tk" text-anchor="middle">−100</text><line x1="293.1" x2="293.1" y1="365.5" y2="367.7" stroke="#333" stroke-width="0.6"/><text x="293.1" y="378.8" class="tk" text-anchor="middle">−50</text><line x1="351.9" x2="351.9" y1="365.5" y2="367.7" stroke="#333" stroke-width="0.6"/><text x="351.9" y="378.8" class="tk" text-anchor="middle">0</text><line x1="410.8" x2="410.8" y1="365.5" y2="367.7" stroke="#333" stroke-width="0.6"/><text x="410.8" y="378.8" class="tk" text-anchor="middle">50</text><line x1="469.6" x2="469.6" y1="365.5" y2="367.7" stroke="#333" stroke-width="0.6"/><text x="469.6" y="378.8" class="tk" text-anchor="middle">100</text><text x="351.9" y="393.4" class="cbl" text-anchor="middle">Avoidable exposure increase (%)</text><rect x="38.4" y="428.6" width="57.4" height="103.7" fill="#fce6e6"/><rect x="95.8" y="428.6" width="47.2" height="103.7" fill="#eef6f9"/><rect x="143.0" y="428.6" width="27.8" height="103.7" fill="#fce6e6"/><rect x="170.8" y="428.6" width="53.4" height="103.7" fill="#eef6f9"/><rect x="224.2" y="428.6" width="74.6" height="103.7" fill="#fce6e6"/><rect x="298.8" y="428.6" width="33.6" height="103.7" fill="#eef6f9"/><line x1="45.0" x2="45.0" y1="467.8" y2="489.3" stroke="#555" stroke-width="0.8"/><line x1="51.8" x2="51.8" y1="469.2" y2="497.3" stroke="#555" stroke-width="0.8"/><line x1="58.5" x2="58.5" y1="506.3" y2="509.8" stroke="#555" stroke-width="0.8"/><line x1="65.3" x2="65.3" y1="474.5" y2="494.6" stroke="#555" stroke-width="0.8"/><line x1="72.1" x2="72.1" y1="449.3" y2="465.9" stroke="#555" stroke-width="0.8"/><line x1="78.8" x2="78.8" y1="490.3" y2="500.4" stroke="#555" stroke-width="0.8"/><line x1="85.6" x2="85.6" y1="479.4" y2="492.2" stroke="#555" stroke-width="0.8"/><line x1="92.4" x2="92.4" y1="472.3" y2="491.1" stroke="#555" stroke-width="0.8"/><line x1="99.2" x2="99.2" y1="484.2" y2="491.7" stroke="#555" stroke-width="0.8"/><line x1="105.9" x2="105.9" y1="486.6" y2="497.5" stroke="#555" stroke-width="0.8"/><line x1="112.7" x2="112.7" y1="491.8" y2="504.3" stroke="#555" stroke-width="0.8"/><line x1="119.5" x2="119.5" y1="484.6" y2="496.9" stroke="#555" stroke-width="0.8"/><line x1="126.2" x2="126.2" y1="483.8" y2="498.1" stroke="#555" stroke-width="0.8"/><line x1="133.0" x2="133.0" y1="476.4" y2="498.9" stroke="#555" stroke-width="0.8"/><line x1="139.8" x2="139.8" y1="494.2" y2="504.3" stroke="#555" stroke-width="0.8"/><line x1="146.6" x2="146.6" y1="463.7" y2="489.7" stroke="#555" stroke-width="0.8"/><line x1="153.3" x2="153.3" y1="456.5" y2="486.8" stroke="#555" stroke-width="0.8"/><line x1="160.1" x2="160.1" y1="487.7" y2="501.2" stroke="#555" stroke-width="0.8"/><line x1="166.9" x2="166.9" y1="489.9" y2="502.0" stroke="#555" stroke-width="0.8"/><line x1="173.6" x2="173.6" y1="510.6" y2="512.9" stroke="#555" stroke-width="0.8"/><line x1="180.4" x2="180.4" y1="511.6" y2="511.6" stroke="#555" stroke-width="0.8"/><line x1="187.2" x2="187.2" y1="511.0" y2="504.5" stroke="#555" stroke-width="0.8"/><line x1="193.9" x2="193.9" y1="517.0" y2="515.3" stroke="#555" stroke-width="0.8"/><line x1="200.7" x2="200.7" y1="509.7" y2="512.3" stroke="#555" stroke-width="0.8"/><line x1="207.5" x2="207.5" y1="500.5" y2="503.4" stroke="#555" stroke-width="0.8"/><line x1="214.2" x2="214.2" y1="490.3" y2="495.8" stroke="#555" stroke-width="0.8"/><line x1="221.0" x2="221.0" y1="497.3" y2="504.3" stroke="#555" stroke-width="0.8"/><line x1="227.8" x2="227.8" y1="471.9" y2="497.7" stroke="#555" stroke-width="0.8"/><line x1="234.6" x2="234.6" y1="486.4" y2="500.6" stroke="#555" stroke-width="0.8"/><line x1="241.3" x2="241.3" y1="474.5" y2="498.7" stroke="#555" stroke-width="0.8"/><line x1="248.1" x2="248.1" y1="465.5" y2="492.4" stroke="#555" stroke-width="0.8"/><line x1="254.9" x2="254.9" y1="506.7" y2="511.6" stroke="#555" stroke-width="0.8"/><line x1="261.6" x2="261.6" y1="504.5" y2="511.0" stroke="#555" stroke-width="0.8"/><line x1="268.4" x2="268.4" y1="509.4" y2="515.9" stroke="#555" stroke-width="0.8"/><line x1="275.2" x2="275.2" y1="481.5" y2="507.0" stroke="#555" stroke-width="0.8"/><line x1="281.9" x2="281.9" y1="511.3" y2="513.4" stroke="#555" stroke-width="0.8"/><line x1="288.7" x2="288.7" y1="507.3" y2="512.4" stroke="#555" stroke-width="0.8"/><line x1="295.5" x2="295.5" y1="476.7" y2="490.9" stroke="#555" stroke-width="0.8"/><line x1="302.3" x2="302.3" y1="507.5" y2="510.0" stroke="#555" stroke-width="0.8"/><line x1="309.0" x2="309.0" y1="502.4" y2="507.9" stroke="#555" stroke-width="0.8"/><line x1="315.8" x2="315.8" y1="485.5" y2="503.4" stroke="#555" stroke-width="0.8"/><line x1="322.6" x2="322.6" y1="490.7" y2="502.2" stroke="#555" stroke-width="0.8"/><line x1="329.3" x2="329.3" y1="493.3" y2="498.5" stroke="#555" stroke-width="0.8"/><circle cx="45.0" cy="489.3" r="1.6" fill="#1414ff"/><circle cx="51.8" cy="497.3" r="1.6" fill="#1414ff"/><circle cx="58.5" cy="509.8" r="1.6" fill="#1414ff"/><circle cx="65.3" cy="494.6" r="1.6" fill="#1414ff"/><circle cx="72.1" cy="465.9" r="1.6" fill="#1414ff"/><circle cx="78.8" cy="500.4" r="1.6" fill="#1414ff"/><circle cx="85.6" cy="492.2" r="1.6" fill="#1414ff"/><circle cx="92.4" cy="491.1" r="1.6" fill="#1414ff"/><circle cx="99.2" cy="491.7" r="1.6" fill="#1414ff"/><circle cx="105.9" cy="497.5" r="1.6" fill="#1414ff"/><circle cx="112.7" cy="504.3" r="1.6" fill="#1414ff"/><circle cx="119.5" cy="496.9" r="1.6" fill="#1414ff"/><circle cx="126.2" cy="498.1" r="1.6" fill="#1414ff"/><circle cx="133.0" cy="498.9" r="1.6" fill="#1414ff"/><circle cx="139.8" cy="504.3" r="1.6" fill="#1414ff"/><circle cx="146.6" cy="489.7" r="1.6" fill="#1414ff"/><circle cx="153.3" cy="486.8" r="1.6" fill="#1414ff"/><circle cx="160.1" cy="501.2" r="1.6" fill="#1414ff"/><circle cx="166.9" cy="502.0" r="1.6" fill="#1414ff"/><circle cx="173.6" cy="512.9" r="1.6" fill="#1414ff"/><circle cx="180.4" cy="511.6" r="1.6" fill="#1414ff"/><circle cx="187.2" cy="504.5" r="1.6" fill="#1414ff"/><circle cx="193.9" cy="515.3" r="1.6" fill="#1414ff"/><circle cx="200.7" cy="512.3" r="1.6" fill="#1414ff"/><circle cx="207.5" cy="503.4" r="1.6" fill="#1414ff"/><circle cx="214.2" cy="495.8" r="1.6" fill="#1414ff"/><circle cx="221.0" cy="504.3" r="1.6" fill="#1414ff"/><circle cx="227.8" cy="497.7" r="1.6" fill="#1414ff"/><circle cx="234.6" cy="500.6" r="1.6" fill="#1414ff"/><circle cx="241.3" cy="498.7" r="1.6" fill="#1414ff"/><circle cx="248.1" cy="492.4" r="1.6" fill="#1414ff"/><circle cx="254.9" cy="511.6" r="1.6" fill="#1414ff"/><circle cx="261.6" cy="511.0" r="1.6" fill="#1414ff"/><circle cx="268.4" cy="515.9" r="1.6" fill="#1414ff"/><circle cx="275.2" cy="507.0" r="1.6" fill="#1414ff"/><circle cx="281.9" cy="513.4" r="1.6" fill="#1414ff"/><circle cx="288.7" cy="512.4" r="1.6" fill="#1414ff"/><circle cx="295.5" cy="490.9" r="1.6" fill="#1414ff"/><circle cx="302.3" cy="510.0" r="1.6" fill="#1414ff"/><circle cx="309.0" cy="507.9" r="1.6" fill="#1414ff"/><circle cx="315.8" cy="503.4" r="1.6" fill="#1414ff"/><circle cx="322.6" cy="502.2" r="1.6" fill="#1414ff"/><circle cx="329.3" cy="498.5" r="1.6" fill="#1414ff"/><circle cx="45.0" cy="467.8" r="1.6" fill="#ff1414"/><circle cx="51.8" cy="469.2" r="1.6" fill="#ff1414"/><circle cx="58.5" cy="506.3" r="1.6" fill="#ff1414"/><circle cx="65.3" cy="474.5" r="1.6" fill="#ff1414"/><circle cx="72.1" cy="449.3" r="1.6" fill="#ff1414"/><circle cx="78.8" cy="490.3" r="1.6" fill="#ff1414"/><circle cx="85.6" cy="479.4" r="1.6" fill="#ff1414"/><circle cx="92.4" cy="472.3" r="1.6" fill="#ff1414"/><circle cx="99.2" cy="484.2" r="1.6" fill="#ff1414"/><circle cx="105.9" cy="486.6" r="1.6" fill="#ff1414"/><circle cx="112.7" cy="491.8" r="1.6" fill="#ff1414"/><circle cx="119.5" cy="484.6" r="1.6" fill="#ff1414"/><circle cx="126.2" cy="483.8" r="1.6" fill="#ff1414"/><circle cx="133.0" cy="476.4" r="1.6" fill="#ff1414"/><circle cx="139.8" cy="494.2" r="1.6" fill="#ff1414"/><circle cx="146.6" cy="463.7" r="1.6" fill="#ff1414"/><circle cx="153.3" cy="456.5" r="1.6" fill="#ff1414"/><circle cx="160.1" cy="487.7" r="1.6" fill="#ff1414"/><circle cx="166.9" cy="489.9" r="1.6" fill="#ff1414"/><circle cx="173.6" cy="510.6" r="1.6" fill="#ff1414"/><circle cx="180.4" cy="511.6" r="1.6" fill="#ff1414"/><circle cx="187.2" cy="511.0" r="1.6" fill="#ff1414"/><circle cx="193.9" cy="517.0" r="1.6" fill="#ff1414"/><circle cx="200.7" cy="509.7" r="1.6" fill="#ff1414"/><circle cx="207.5" cy="500.5" r="1.6" fill="#ff1414"/><circle cx="214.2" cy="490.3" r="1.6" fill="#ff1414"/><circle cx="221.0" cy="497.3" r="1.6" fill="#ff1414"/><circle cx="227.8" cy="471.9" r="1.6" fill="#ff1414"/><circle cx="234.6" cy="486.4" r="1.6" fill="#ff1414"/><circle cx="241.3" cy="474.5" r="1.6" fill="#ff1414"/><circle cx="248.1" cy="465.5" r="1.6" fill="#ff1414"/><circle cx="254.9" cy="506.7" r="1.6" fill="#ff1414"/><circle cx="261.6" cy="504.5" r="1.6" fill="#ff1414"/><circle cx="268.4" cy="509.4" r="1.6" fill="#ff1414"/><circle cx="275.2" cy="481.5" r="1.6" fill="#ff1414"/><circle cx="281.9" cy="511.3" r="1.6" fill="#ff1414"/><circle cx="288.7" cy="507.3" r="1.6" fill="#ff1414"/><circle cx="295.5" cy="476.7" r="1.6" fill="#ff1414"/><circle cx="302.3" cy="507.5" r="1.6" fill="#ff1414"/><circle cx="309.0" cy="502.4" r="1.6" fill="#ff1414"/><circle cx="315.8" cy="485.5" r="1.6" fill="#ff1414"/><circle cx="322.6" cy="490.7" r="1.6" fill="#ff1414"/><circle cx="329.3" cy="493.3" r="1.6" fill="#ff1414"/><line x1="38.4" x2="38.4" y1="428.6" y2="532.3" stroke="#444" stroke-width="0.8"/><line x1="38.4" x2="332.4" y1="532.3" y2="532.3" stroke="#444" stroke-width="0.8"/><line x1="35.199999999999996" x2="38.4" y1="436.2" y2="436.2" stroke="#444" stroke-width="0.8"/><text x="31.0" y="439.2" class="yt" text-anchor="end" textLength="14.9" lengthAdjust="spacingAndGlyphs">200</text><line x1="35.199999999999996" x2="38.4" y1="474.85" y2="474.85" stroke="#444" stroke-width="0.8"/><text x="31.0" y="477.9" class="yt" text-anchor="end" textLength="14.9" lengthAdjust="spacingAndGlyphs">100</text><line x1="35.199999999999996" x2="38.4" y1="513.5" y2="513.5" stroke="#444" stroke-width="0.8"/><text x="31.0" y="516.5" class="yt" text-anchor="end" textLength="5.0" lengthAdjust="spacingAndGlyphs">0</text><line x1="67.5" x2="67.5" y1="532.3" y2="535.5" stroke="#444" stroke-width="0.8"/><text x="67.5" y="547.7" class="xt" text-anchor="middle">NA</text><line x1="119.5" x2="119.5" y1="532.3" y2="535.5" stroke="#444" stroke-width="0.8"/><text x="119.5" y="547.7" class="xt" text-anchor="middle">SA</text><line x1="156.8" x2="156.8" y1="532.3" y2="535.5" stroke="#444" stroke-width="0.8"/><text x="156.8" y="547.7" class="xt" text-anchor="middle">EU</text><line x1="197.2" x2="197.2" y1="532.3" y2="535.5" stroke="#444" stroke-width="0.8"/><text x="197.2" y="547.7" class="xt" text-anchor="middle">AF</text><line x1="261.5" x2="261.5" y1="532.3" y2="535.5" stroke="#444" stroke-width="0.8"/><text x="261.5" y="547.7" class="xt" text-anchor="middle">AS</text><line x1="315.6" x2="315.6" y1="532.3" y2="535.5" stroke="#444" stroke-width="0.8"/><text x="315.6" y="547.7" class="xt" text-anchor="middle">OC</text><text x="185.4" y="561.6" class="al" text-anchor="middle">Regions</text><text transform="translate(6.0,480.1) rotate(-90)" class="al" text-anchor="middle" dominant-baseline="central">Avoidable ESL growth (%)</text><rect x="264.0" y="432.9" width="63.5" height="25.6" fill="#fff" fill-opacity="0.75"/><circle cx="275.3" cy="439.4" r="1.75" fill="#1414ff"/><text x="282.0" y="442.8" class="lg" textLength="41.6" lengthAdjust="spacingAndGlyphs">SSP3-7.0</text><circle cx="275.3" cy="450.8" r="1.75" fill="#ff1414"/><text x="282.0" y="454.2" class="lg" textLength="41.6" lengthAdjust="spacingAndGlyphs">SSP5-8.5</text><rect x="391.5" y="428.5" width="57.1" height="104.3" fill="#fce6e6"/><rect x="448.6" y="428.5" width="46.7" height="104.3" fill="#eef6f9"/><rect x="495.3" y="428.5" width="27.5" height="104.3" fill="#fce6e6"/><rect x="522.8" y="428.5" width="53.6" height="104.3" fill="#eef6f9"/><rect x="576.4" y="428.5" width="74.8" height="104.3" fill="#fce6e6"/><rect x="651.2" y="428.5" width="34.8" height="104.3" fill="#eef6f9"/><line x1="397.9" x2="397.9" y1="489.6" y2="493.0" stroke="#555" stroke-width="0.8"/><line x1="404.7" x2="404.7" y1="468.3" y2="482.8" stroke="#555" stroke-width="0.8"/><line x1="411.4" x2="411.4" y1="502.1" y2="499.4" stroke="#555" stroke-width="0.8"/><line x1="418.2" x2="418.2" y1="477.9" y2="484.7" stroke="#555" stroke-width="0.8"/><line x1="424.9" x2="424.9" y1="446.6" y2="431.3" stroke="#555" stroke-width="0.8"/><line x1="431.7" x2="431.7" y1="483.0" y2="486.2" stroke="#555" stroke-width="0.8"/><line x1="438.4" x2="438.4" y1="470.6" y2="472.1" stroke="#555" stroke-width="0.8"/><line x1="445.2" x2="445.2" y1="490.4" y2="489.4" stroke="#555" stroke-width="0.8"/><line x1="451.9" x2="451.9" y1="451.7" y2="460.2" stroke="#555" stroke-width="0.8"/><line x1="458.7" x2="458.7" y1="446.2" y2="468.1" stroke="#555" stroke-width="0.8"/><line x1="465.4" x2="465.4" y1="487.2" y2="494.7" stroke="#555" stroke-width="0.8"/><line x1="472.2" x2="472.2" y1="451.7" y2="478.1" stroke="#555" stroke-width="0.8"/><line x1="478.9" x2="478.9" y1="439.4" y2="461.3" stroke="#555" stroke-width="0.8"/><line x1="485.7" x2="485.7" y1="454.5" y2="487.4" stroke="#555" stroke-width="0.8"/><line x1="492.5" x2="492.5" y1="471.3" y2="490.6" stroke="#555" stroke-width="0.8"/><line x1="499.2" x2="499.2" y1="448.9" y2="473.4" stroke="#555" stroke-width="0.8"/><line x1="506.0" x2="506.0" y1="480.0" y2="492.6" stroke="#555" stroke-width="0.8"/><line x1="512.7" x2="512.7" y1="488.5" y2="493.8" stroke="#555" stroke-width="0.8"/><line x1="519.5" x2="519.5" y1="491.5" y2="495.1" stroke="#555" stroke-width="0.8"/><line x1="526.2" x2="526.2" y1="497.9" y2="497.9" stroke="#555" stroke-width="0.8"/><line x1="533.0" x2="533.0" y1="501.1" y2="494.3" stroke="#555" stroke-width="0.8"/><line x1="539.7" x2="539.7" y1="500.4" y2="466.8" stroke="#555" stroke-width="0.8"/><line x1="546.5" x2="546.5" y1="505.7" y2="498.7" stroke="#555" stroke-width="0.8"/><line x1="553.2" x2="553.2" y1="504.0" y2="501.7" stroke="#555" stroke-width="0.8"/><line x1="560.0" x2="560.0" y1="494.9" y2="493.2" stroke="#555" stroke-width="0.8"/><line x1="566.8" x2="566.8" y1="494.9" y2="489.4" stroke="#555" stroke-width="0.8"/><line x1="573.5" x2="573.5" y1="479.4" y2="483.2" stroke="#555" stroke-width="0.8"/><line x1="580.3" x2="580.3" y1="474.5" y2="490.4" stroke="#555" stroke-width="0.8"/><line x1="587.0" x2="587.0" y1="490.0" y2="493.6" stroke="#555" stroke-width="0.8"/><line x1="593.8" x2="593.8" y1="488.3" y2="493.4" stroke="#555" stroke-width="0.8"/><line x1="600.5" x2="600.5" y1="485.1" y2="491.1" stroke="#555" stroke-width="0.8"/><line x1="607.3" x2="607.3" y1="498.5" y2="500.4" stroke="#555" stroke-width="0.8"/><line x1="614.0" x2="614.0" y1="498.9" y2="498.9" stroke="#555" stroke-width="0.8"/><line x1="620.8" x2="620.8" y1="476.2" y2="484.5" stroke="#555" stroke-width="0.8"/><line x1="627.5" x2="627.5" y1="479.1" y2="499.6" stroke="#555" stroke-width="0.8"/><line x1="634.3" x2="634.3" y1="493.4" y2="497.4" stroke="#555" stroke-width="0.8"/><line x1="641.0" x2="641.0" y1="490.0" y2="493.4" stroke="#555" stroke-width="0.8"/><line x1="647.8" x2="647.8" y1="487.2" y2="483.8" stroke="#555" stroke-width="0.8"/><line x1="654.6" x2="654.6" y1="496.4" y2="495.3" stroke="#555" stroke-width="0.8"/><line x1="661.3" x2="661.3" y1="490.9" y2="493.0" stroke="#555" stroke-width="0.8"/><line x1="668.1" x2="668.1" y1="489.8" y2="492.1" stroke="#555" stroke-width="0.8"/><line x1="674.8" x2="674.8" y1="466.8" y2="487.4" stroke="#555" stroke-width="0.8"/><circle cx="397.9" cy="493.0" r="1.6" fill="#1414ff"/><circle cx="404.7" cy="482.8" r="1.6" fill="#1414ff"/><circle cx="411.4" cy="499.4" r="1.6" fill="#1414ff"/><circle cx="418.2" cy="484.7" r="1.6" fill="#1414ff"/><circle cx="424.9" cy="431.3" r="1.6" fill="#1414ff"/><circle cx="431.7" cy="486.2" r="1.6" fill="#1414ff"/><circle cx="438.4" cy="472.1" r="1.6" fill="#1414ff"/><circle cx="445.2" cy="489.4" r="1.6" fill="#1414ff"/><circle cx="451.9" cy="460.2" r="1.6" fill="#1414ff"/><circle cx="458.7" cy="468.1" r="1.6" fill="#1414ff"/><circle cx="465.4" cy="494.7" r="1.6" fill="#1414ff"/><circle cx="472.2" cy="478.1" r="1.6" fill="#1414ff"/><circle cx="478.9" cy="461.3" r="1.6" fill="#1414ff"/><circle cx="485.7" cy="487.4" r="1.6" fill="#1414ff"/><circle cx="492.5" cy="490.6" r="1.6" fill="#1414ff"/><circle cx="499.2" cy="473.4" r="1.6" fill="#1414ff"/><circle cx="506.0" cy="492.6" r="1.6" fill="#1414ff"/><circle cx="512.7" cy="493.8" r="1.6" fill="#1414ff"/><circle cx="519.5" cy="495.1" r="1.6" fill="#1414ff"/><circle cx="526.2" cy="497.9" r="1.6" fill="#1414ff"/><circle cx="533.0" cy="494.3" r="1.6" fill="#1414ff"/><circle cx="539.7" cy="466.8" r="1.6" fill="#1414ff"/><circle cx="546.5" cy="498.7" r="1.6" fill="#1414ff"/><circle cx="553.2" cy="501.7" r="1.6" fill="#1414ff"/><circle cx="560.0" cy="493.2" r="1.6" fill="#1414ff"/><circle cx="566.8" cy="489.4" r="1.6" fill="#1414ff"/><circle cx="573.5" cy="483.2" r="1.6" fill="#1414ff"/><circle cx="580.3" cy="490.4" r="1.6" fill="#1414ff"/><circle cx="587.0" cy="493.6" r="1.6" fill="#1414ff"/><circle cx="593.8" cy="493.4" r="1.6" fill="#1414ff"/><circle cx="600.5" cy="491.1" r="1.6" fill="#1414ff"/><circle cx="607.3" cy="500.4" r="1.6" fill="#1414ff"/><circle cx="614.0" cy="498.9" r="1.6" fill="#1414ff"/><circle cx="620.8" cy="484.5" r="1.6" fill="#1414ff"/><circle cx="627.5" cy="499.6" r="1.6" fill="#1414ff"/><circle cx="634.3" cy="497.4" r="1.6" fill="#1414ff"/><circle cx="641.0" cy="493.4" r="1.6" fill="#1414ff"/><circle cx="647.8" cy="483.8" r="1.6" fill="#1414ff"/><circle cx="654.6" cy="495.3" r="1.6" fill="#1414ff"/><circle cx="661.3" cy="493.0" r="1.6" fill="#1414ff"/><circle cx="668.1" cy="492.1" r="1.6" fill="#1414ff"/><circle cx="674.8" cy="487.4" r="1.6" fill="#1414ff"/><circle cx="397.9" cy="489.6" r="1.6" fill="#ff1414"/><circle cx="404.7" cy="468.3" r="1.6" fill="#ff1414"/><circle cx="411.4" cy="502.1" r="1.6" fill="#ff1414"/><circle cx="418.2" cy="477.9" r="1.6" fill="#ff1414"/><circle cx="424.9" cy="446.6" r="1.6" fill="#ff1414"/><circle cx="431.7" cy="483.0" r="1.6" fill="#ff1414"/><circle cx="438.4" cy="470.6" r="1.6" fill="#ff1414"/><circle cx="445.2" cy="490.4" r="1.6" fill="#ff1414"/><circle cx="451.9" cy="451.7" r="1.6" fill="#ff1414"/><circle cx="458.7" cy="446.2" r="1.6" fill="#ff1414"/><circle cx="465.4" cy="487.2" r="1.6" fill="#ff1414"/><circle cx="472.2" cy="451.7" r="1.6" fill="#ff1414"/><circle cx="478.9" cy="439.4" r="1.6" fill="#ff1414"/><circle cx="485.7" cy="454.5" r="1.6" fill="#ff1414"/><circle cx="492.5" cy="471.3" r="1.6" fill="#ff1414"/><circle cx="499.2" cy="448.9" r="1.6" fill="#ff1414"/><circle cx="506.0" cy="480.0" r="1.6" fill="#ff1414"/><circle cx="512.7" cy="488.5" r="1.6" fill="#ff1414"/><circle cx="519.5" cy="491.5" r="1.6" fill="#ff1414"/><circle cx="526.2" cy="497.9" r="1.6" fill="#ff1414"/><circle cx="533.0" cy="501.1" r="1.6" fill="#ff1414"/><circle cx="539.7" cy="500.4" r="1.6" fill="#ff1414"/><circle cx="546.5" cy="505.7" r="1.6" fill="#ff1414"/><circle cx="553.2" cy="504.0" r="1.6" fill="#ff1414"/><circle cx="560.0" cy="494.9" r="1.6" fill="#ff1414"/><circle cx="566.8" cy="494.9" r="1.6" fill="#ff1414"/><circle cx="573.5" cy="479.4" r="1.6" fill="#ff1414"/><circle cx="580.3" cy="474.5" r="1.6" fill="#ff1414"/><circle cx="587.0" cy="490.0" r="1.6" fill="#ff1414"/><circle cx="593.8" cy="488.3" r="1.6" fill="#ff1414"/><circle cx="600.5" cy="485.1" r="1.6" fill="#ff1414"/><circle cx="607.3" cy="498.5" r="1.6" fill="#ff1414"/><circle cx="614.0" cy="498.9" r="1.6" fill="#ff1414"/><circle cx="620.8" cy="476.2" r="1.6" fill="#ff1414"/><circle cx="627.5" cy="479.1" r="1.6" fill="#ff1414"/><circle cx="634.3" cy="493.4" r="1.6" fill="#ff1414"/><circle cx="641.0" cy="490.0" r="1.6" fill="#ff1414"/><circle cx="647.8" cy="487.2" r="1.6" fill="#ff1414"/><circle cx="654.6" cy="496.4" r="1.6" fill="#ff1414"/><circle cx="661.3" cy="490.9" r="1.6" fill="#ff1414"/><circle cx="668.1" cy="489.8" r="1.6" fill="#ff1414"/><circle cx="674.8" cy="466.8" r="1.6" fill="#ff1414"/><line x1="391.5" x2="391.5" y1="428.5" y2="532.8" stroke="#444" stroke-width="0.8"/><line x1="391.5" x2="686" y1="532.8" y2="532.8" stroke="#444" stroke-width="0.8"/><line x1="388.3" x2="391.5" y1="428.9" y2="428.9" stroke="#444" stroke-width="0.8"/><text x="384.2" y="431.9" class="yt" text-anchor="end" textLength="14.9" lengthAdjust="spacingAndGlyphs">100</text><line x1="388.3" x2="391.5" y1="463.7" y2="463.7" stroke="#444" stroke-width="0.8"/><text x="384.2" y="466.7" class="yt" text-anchor="end" textLength="9.9" lengthAdjust="spacingAndGlyphs">50</text><line x1="388.3" x2="391.5" y1="498.2" y2="498.2" stroke="#444" stroke-width="0.8"/><text x="384.2" y="501.2" class="yt" text-anchor="end" textLength="5.0" lengthAdjust="spacingAndGlyphs">0</text><line x1="388.3" x2="391.5" y1="532.8" y2="532.8" stroke="#444" stroke-width="0.8"/><text x="384.2" y="535.8" class="yt" text-anchor="end" textLength="14.5" lengthAdjust="spacingAndGlyphs">−50</text><line x1="419.4" x2="419.4" y1="532.8" y2="536.0" stroke="#444" stroke-width="0.8"/><text x="419.4" y="547.7" class="xt" text-anchor="middle">NA</text><line x1="472.2" x2="472.2" y1="532.8" y2="536.0" stroke="#444" stroke-width="0.8"/><text x="472.2" y="547.7" class="xt" text-anchor="middle">SA</text><line x1="509.2" x2="509.2" y1="532.8" y2="536.0" stroke="#444" stroke-width="0.8"/><text x="509.2" y="547.7" class="xt" text-anchor="middle">EU</text><line x1="549.6" x2="549.6" y1="532.8" y2="536.0" stroke="#444" stroke-width="0.8"/><text x="549.6" y="547.7" class="xt" text-anchor="middle">AF</text><line x1="613.6" x2="613.6" y1="532.8" y2="536.0" stroke="#444" stroke-width="0.8"/><text x="613.6" y="547.7" class="xt" text-anchor="middle">AS</text><line x1="668.0" x2="668.0" y1="532.8" y2="536.0" stroke="#444" stroke-width="0.8"/><text x="668.0" y="547.7" class="xt" text-anchor="middle">OC</text><text x="538.4" y="561.6" class="al" text-anchor="middle">Regions</text><text transform="translate(357.6,480.1) rotate(-90)" class="al" text-anchor="middle" dominant-baseline="central">Avoidable EBA growth (%)</text><text x="20.0" y="10.8" class="pl">a</text><text x="372.3" y="10.8" class="pl">b</text><text x="20.0" y="190.6" class="pl">c</text><text x="372.5" y="190.6" class="pl">d</text><text x="0.0" y="411.2" class="pl">e</text><text x="352.5" y="413.3" class="pl">f</text></svg></body></html>
